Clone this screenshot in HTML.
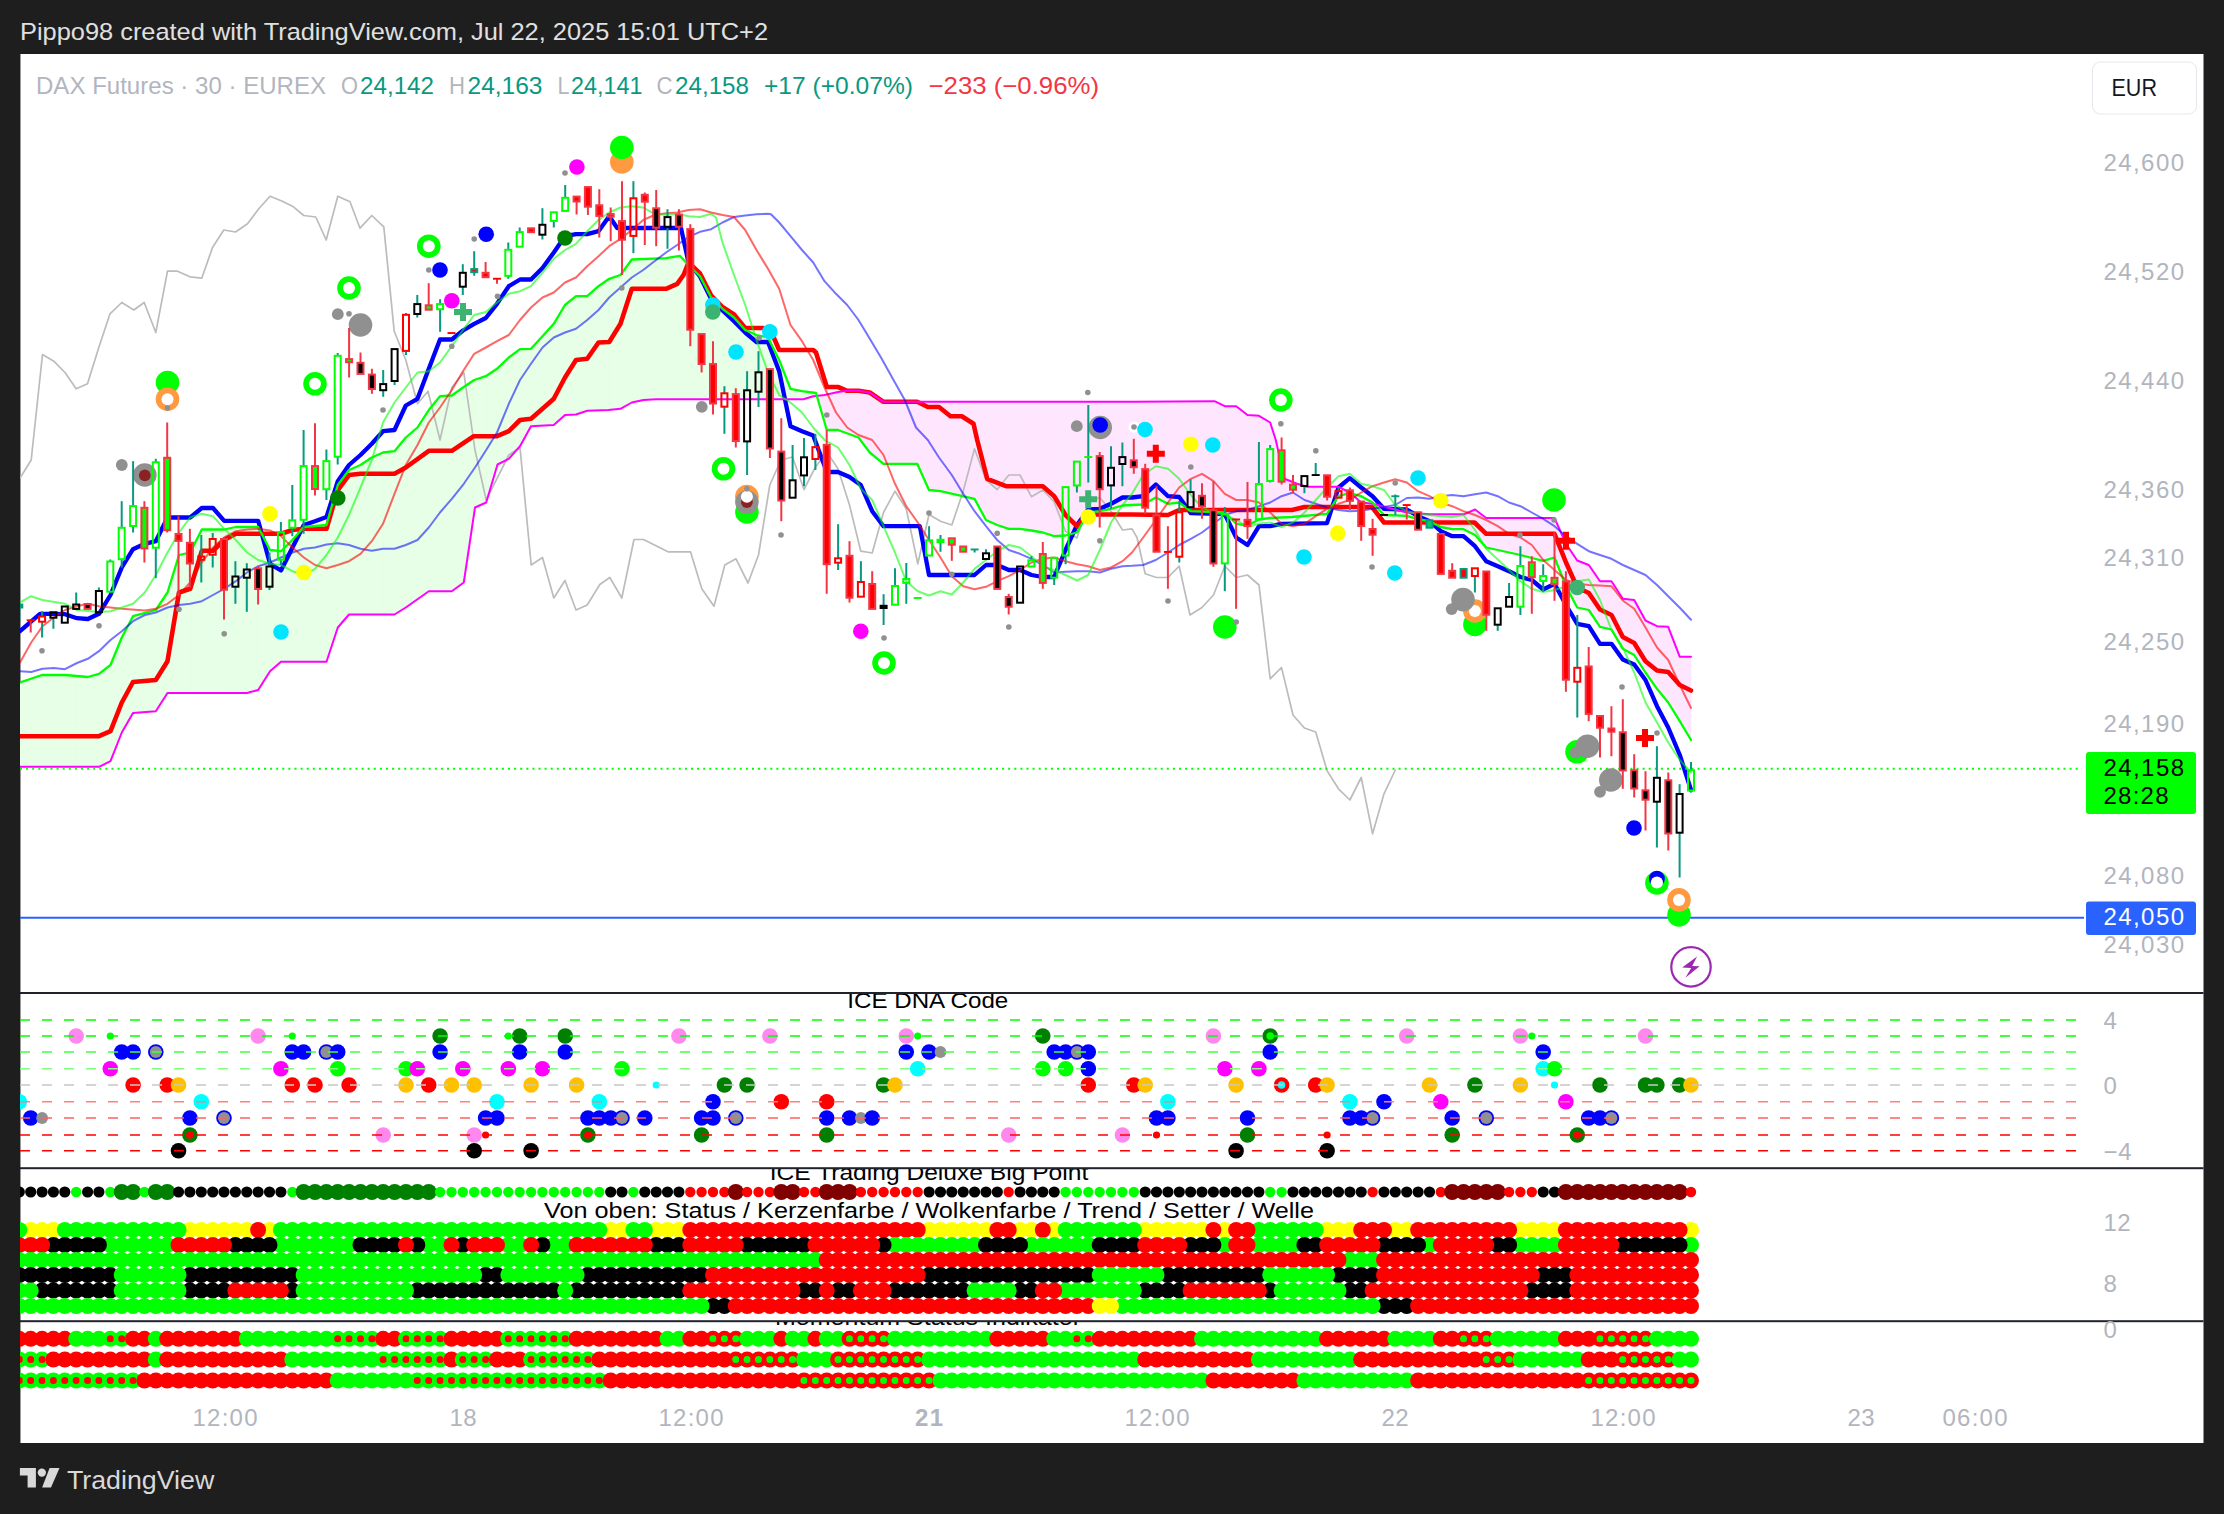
<!DOCTYPE html><html><head><meta charset="utf-8"><title>DAX Futures chart</title><style>html,body{margin:0;padding:0;background:#1e1e1e}body{width:2224px;height:1514px;overflow:hidden}</style></head><body><svg width="2224" height="1514" viewBox="0 0 2224 1514" style="display:block;font-family:'Liberation Sans',sans-serif">
<rect width="2224" height="1514" fill="#1e1e1e"/>
<rect x="20" y="54" width="2183.5" height="1389" fill="#ffffff"/>
<rect x="20" y="54" width="1" height="1389" fill="#9a9a9a"/>
<defs><clipPath id="cm"><rect x="20" y="54" width="2064" height="938"/></clipPath><clipPath id="c2"><rect x="20" y="994" width="2183" height="174"/></clipPath><clipPath id="c3"><rect x="20" y="1169" width="2183" height="152"/></clipPath><clipPath id="c4"><rect x="20" y="1322" width="2183" height="80"/></clipPath></defs>
<g clip-path="url(#cm)">
<path d="M20 682.5 L30.7 678.9 L30.7 766.8 L20 766.8ZM30.7 678.9 L42 675 L42 766.8 L30.7 766.8ZM42 675 L42.1 675 L42.1 766.8 L42 766.8ZM42.1 675 L53.4 675 L53.4 766.8 L42.1 766.8ZM53.4 675 L64.8 675 L64.8 766.8 L53.4 766.8ZM64.8 675 L65 675 L65 766.8 L64.8 766.8ZM65 675 L76.2 676 L76.2 766.8 L65 766.8ZM76.2 676 L87.6 677 L87.6 766.8 L76.2 766.8ZM87.6 677 L87.8 677 L87.8 766.8 L87.6 766.8ZM87.8 677 L98.9 673.8 L98.9 766.8 L87.8 766.8ZM98.9 673.8 L99 673.8 L99 766.8 L98.9 766.8ZM99 673.8 L110.3 665.1 L110.3 761.3 L99 766.8ZM110.3 665.1 L110.5 665 L110.5 761.2 L110.3 761.3ZM110.5 665 L121.7 637.7 L121.7 732.7 L110.5 761.2ZM121.7 637.7 L121.8 637.5 L121.8 732.5 L121.7 732.7ZM121.8 637.5 L133 616.2 L133 713 L121.8 732.5ZM133 616.2 L133.1 616.2 L133.1 713 L133 713ZM133.1 616.2 L144.4 613.1 L144.4 712.1 L133.1 713ZM144.4 613.1 L155.8 610 L155.8 711.2 L144.4 712.1ZM155.8 610 L155.8 609.9 L155.8 711.2 L155.8 711.2ZM155.8 609.9 L167.2 593 L167.2 693.5 L155.8 711.2ZM167.2 593 L167.5 592.5 L167.5 693 L167.2 693.5ZM167.5 592.5 L178.5 556.5 L178.5 693 L167.5 693ZM178.5 556.5 L179 555 L179 693 L178.5 693ZM179 555 L189.9 552.6 L189.9 693 L179 693ZM189.9 552.6 L190.2 552.5 L190.2 693 L189.9 693ZM190.2 552.5 L201.3 530.4 L201.3 693 L190.2 693ZM201.3 530.4 L201.8 529.5 L201.8 693 L201.3 693ZM201.8 529.5 L212.7 529.5 L212.7 693 L201.8 693ZM212.7 529.5 L224 529.5 L224 693 L212.7 693ZM224 529.5 L224.2 529.5 L224.2 693 L224 693ZM224.2 529.5 L235.4 527.1 L235.4 693 L224.2 693ZM235.4 527.1 L235.8 527 L235.8 693 L235.4 693ZM235.8 527 L246.8 527 L246.8 693 L235.8 693ZM246.8 527 L247 527 L247 693 L246.8 693ZM247 527 L258.1 527 L258.1 690 L247 693ZM258.1 527 L258.2 527 L258.2 690 L258.1 690ZM258.2 527 L269.5 549 L269.5 672 L258.2 690ZM269.5 549 L270 550 L270 671.2 L269.5 672ZM270 550 L280.9 551.2 L280.9 661.8 L270 671.2ZM280.9 551.2 L281 551.2 L281 661.8 L280.9 661.8ZM281 551.2 L292.3 540.2 L292.3 661.8 L281 661.8ZM292.3 540.2 L292.5 540 L292.5 661.8 L292.3 661.8ZM292.5 540 L303.6 527.1 L303.6 661.8 L292.5 661.8ZM303.6 527.1 L303.8 527 L303.8 661.8 L303.6 661.8ZM303.8 527 L315 526 L315 661.8 L303.8 661.8ZM315 526 L326.4 525 L326.4 661.8 L315 661.8ZM326.4 525 L326.5 525 L326.5 661.8 L326.4 661.8ZM326.5 525 L337.7 485 L337.7 627.5 L326.5 661.8ZM337.7 485 L337.8 485 L337.8 627.5 L337.7 627.5ZM337.8 485 L349 470 L349 614.5 L337.8 627.5ZM349 470 L349.1 469.9 L349.1 614.5 L349 614.5ZM349.1 469.9 L360.5 465 L360.5 614.5 L349.1 614.5ZM360.5 465 L360.5 465 L360.5 614.5 L360.5 614.5ZM360.5 465 L371.8 457.5 L371.8 614.5 L360.5 614.5ZM371.8 457.5 L371.9 457.5 L371.9 614.5 L371.8 614.5ZM371.9 457.5 L383 452.5 L383 614.5 L371.9 614.5ZM383 452.5 L383.2 452.5 L383.2 614.5 L383 614.5ZM383.2 452.5 L394.5 451.2 L394.5 614.5 L383.2 614.5ZM394.5 451.2 L394.6 451.1 L394.6 614.4 L394.5 614.5ZM394.6 451.1 L405.8 437.5 L405.8 607.5 L394.6 614.4ZM405.8 437.5 L406 437.3 L406 607.3 L405.8 607.5ZM406 437.3 L417.3 427.6 L417.3 599.3 L406 607.3ZM417.3 427.6 L417.5 427.5 L417.5 599.2 L417.3 599.3ZM417.5 427.5 L428.7 410 L428.7 591.3 L417.5 599.2ZM428.7 410 L428.8 410 L428.8 591.2 L428.7 591.3ZM428.8 410 L440 396.2 L440 591.2 L428.8 591.2ZM440 396.2 L440.1 396.2 L440.1 591.2 L440 591.2ZM440.1 396.2 L451.5 395.5 L451.5 591.2 L440.1 591.2ZM451.5 395.5 L451.8 395.5 L451.8 591.2 L451.5 591.2ZM451.8 395.5 L462.8 387.6 L462.8 583.2 L451.8 591.2ZM462.8 387.6 L463 387.5 L463 583 L462.8 583.2ZM463 387.5 L463.8 387 L463.8 582.5 L463 583ZM463.8 387 L474.2 380 L474.2 512.8 L463.8 582.5ZM474.2 380 L474.2 380 L474.2 512.5 L474.2 512.8ZM474.2 380 L475 379.8 L475 507.5 L474.2 512.5ZM475 379.8 L485.6 376.3 L485.6 502.8 L475 507.5ZM485.6 376.3 L485.8 376.2 L485.8 502.7 L485.6 502.8ZM485.8 376.2 L486.2 375.9 L486.2 502.5 L485.8 502.7ZM486.2 375.9 L497 368.8 L497 466.3 L486.2 502.5ZM497 368.8 L497 368.8 L497 466.2 L497 466.3ZM497 368.8 L497.5 368.3 L497.5 464.5 L497 466.2ZM497.5 368.3 L508.3 357.9 L508.3 459 L497.5 464.5ZM508.3 357.9 L508.8 357.5 L508.8 458.8 L508.3 459ZM508.8 357.5 L519.7 349.5 L519.7 446.6 L508.8 458.8ZM519.7 349.5 L520 349.2 L520 446.2 L519.7 446.6ZM520 349.2 L531 348.8 L531 426.2 L520 446.2ZM531 348.8 L531.1 348.7 L531.1 426.2 L531 426.2ZM531.1 348.7 L542.4 336.3 L542.4 425.6 L531.1 426.2ZM542.4 336.3 L542.5 336.2 L542.5 425.6 L542.4 425.6ZM542.5 336.2 L553.8 323.8 L553.8 425 L542.5 425.6ZM553.8 323.8 L553.8 323.6 L553.8 424.9 L553.8 425ZM553.8 323.6 L565 305 L565 415 L553.8 424.9ZM565 305 L565.2 304.9 L565.2 415 L565 415ZM565.2 304.9 L576 296.2 L576 414.5 L565.2 415ZM576 296.2 L576.6 296.2 L576.6 414.3 L576 414.5ZM576.6 296.2 L587.2 296.2 L587.2 410.8 L576.6 414.3ZM587.2 296.2 L587.9 295.6 L587.9 410.7 L587.2 410.8ZM587.9 295.6 L598.5 286.2 L598.5 410.4 L587.9 410.7ZM598.5 286.2 L599.3 285.7 L599.3 410.3 L598.5 410.4ZM599.3 285.7 L608.5 279.3 L608.5 410 L599.3 410.3ZM608.5 279.3 L609.2 278.8 L609.2 409.9 L608.5 410ZM609.2 278.8 L610.7 278.3 L610.7 409.8 L609.2 409.9ZM610.7 278.3 L620.5 275 L620.5 408.8 L610.7 409.8ZM620.5 275 L622 272.9 L622 407.9 L620.5 408.8ZM622 272.9 L631.8 259.5 L631.8 402.5 L622 407.9ZM631.8 259.5 L633.4 259.4 L633.4 402.1 L631.8 402.5ZM633.4 259.4 L643.5 259.1 L643.5 400 L633.4 402.1ZM643.5 259.1 L644.8 259 L644.8 399.9 L643.5 400ZM644.8 259 L656 258.6 L656 399.2 L644.8 399.9ZM656 258.6 L656.2 258.6 L656.2 399.2 L656 399.2ZM656.2 258.6 L666 258.2 L666 399.2 L656.2 399.2ZM666 258.2 L667.5 258 L667.5 399.2 L666 399.2ZM667.5 258 L678.9 255.9 L678.9 399.2 L667.5 399.2ZM678.9 255.9 L679.8 255.8 L679.8 399.2 L678.9 399.2ZM679.8 255.8 L688.5 265 L688.5 399.2 L679.8 399.2ZM688.5 265 L690.3 266.7 L690.3 399.2 L688.5 399.2ZM690.3 266.7 L700 276.2 L700 399.2 L690.3 399.2ZM700 276.2 L701.6 279.4 L701.6 399.2 L700 399.2ZM701.6 279.4 L711.2 297.5 L711.2 399.2 L701.6 399.2ZM711.2 297.5 L713 299.3 L713 399.2 L711.2 399.2ZM713 299.3 L722.5 308.8 L722.5 399.2 L713 399.2ZM722.5 308.8 L724.4 310.2 L724.4 399.2 L722.5 399.2ZM724.4 310.2 L734 317.5 L734 399.2 L724.4 399.2ZM734 317.5 L735.8 319.5 L735.8 399.2 L734 399.2ZM735.8 319.5 L745.2 330 L745.2 399.2 L735.8 399.2ZM745.2 330 L747.1 330.8 L747.1 399.2 L745.2 399.2ZM747.1 330.8 L756.5 335 L756.5 399.2 L747.1 399.2ZM756.5 335 L758.5 335.4 L758.5 399.2 L756.5 399.2ZM758.5 335.4 L768 337.5 L768 399.2 L758.5 399.2ZM768 337.5 L769.9 341.3 L769.9 399.2 L768 399.2ZM769.9 341.3 L779.2 360 L779.2 399.2 L769.9 399.2ZM779.2 360 L781.3 365.1 L781.3 399.2 L779.2 399.2ZM781.3 365.1 L790.5 388.8 L790.5 399.2 L781.3 399.2ZM790.5 388.8 L792.6 389.2 L792.6 399.2 L790.5 399.2ZM792.6 389.2 L802 391.2 L802 399.2 L792.6 399.2ZM802 391.2 L803.5 391.4 L803.5 399.2 L802 399.2ZM803.5 391.4 L804 391.5 L804 399.1 L803.5 399.2ZM804 391.5 L813.2 392.7 L813.2 396.2 L804 399.1ZM813.2 392.7 L815.4 392.9 L815.4 396 L813.2 396.2ZM815.4 392.9 L816 393 L816 395.9 L815.4 396ZM816 393 L816.8 395.9 L816 395.9ZM1350.6 493.2 L1361.2 496.2 L1361.2 502.5ZM1361.2 496.2 L1361.2 496.2 L1361.2 502.5 L1361.2 502.5ZM1361.2 496.2 L1372.5 502.5 L1372.5 503.8 L1361.2 502.5ZM1372.5 502.5 L1372.6 502.6 L1372.6 503.8 L1372.5 503.8ZM1372.6 502.6 L1374 504.1 L1372.6 503.8Z" fill="#e6ffe6" stroke="#e6ffe6" stroke-width="0.6"/>
<path d="M816.8 395.9 L824.5 422.3 L824.5 395ZM824.5 422.3 L826.7 430 L826.7 394.5 L824.5 395ZM826.7 430 L826.8 430 L826.8 394.5 L826.7 394.5ZM826.8 430 L838 430 L838 392 L826.8 394.5ZM838 430 L838.1 430 L838.1 392 L838 392ZM838.1 430 L847.2 433.4 L847.2 390.8 L838.1 392ZM847.2 433.4 L849.5 434.2 L849.5 390.8 L847.2 390.8ZM849.5 434.2 L858.5 437.5 L858.5 390.8 L849.5 390.8ZM858.5 437.5 L860.9 440.6 L860.9 391.1 L858.5 390.8ZM860.9 440.6 L869.8 452.5 L869.8 392.5 L860.9 391.1ZM869.8 452.5 L872.2 454.5 L872.2 394.2 L869.8 392.5ZM872.2 454.5 L883.5 463.8 L883.5 401.8 L872.2 394.2ZM883.5 463.8 L883.6 463.8 L883.6 401.8 L883.5 401.8ZM883.6 463.8 L895 463.8 L895 401.8 L883.6 401.8ZM895 463.8 L906.3 463.8 L906.3 401.8 L895 401.8ZM906.3 463.8 L917.2 463.8 L917.2 401.8 L906.3 401.8ZM917.2 463.8 L917.7 464.8 L917.7 401.8 L917.2 401.8ZM917.7 464.8 L929 490 L929 401.8 L917.7 401.8ZM929 490 L929.1 490 L929.1 401.8 L929 401.8ZM929.1 490 L940.5 491.2 L940.5 401.8 L929.1 401.8ZM940.5 491.2 L940.5 491.2 L940.5 401.8 L940.5 401.8ZM940.5 491.2 L951.8 493.8 L951.8 401.8 L940.5 401.8ZM951.8 493.8 L963.2 496.3 L963.2 401.8 L951.8 401.8ZM963.2 496.3 L974.5 498.8 L974.5 401.8 L963.2 401.8ZM974.5 498.8 L974.6 498.9 L974.6 401.8 L974.5 401.8ZM974.6 498.9 L986 519.9 L986 401.8 L974.6 401.8ZM986 519.9 L986 520 L986 401.8 L986 401.8ZM986 520 L997.2 525 L997.2 401.8 L986 401.8ZM997.2 525 L997.3 525 L997.3 401.8 L997.2 401.8ZM997.3 525 L1008.7 528.7 L1008.7 401.8 L997.3 401.8ZM1008.7 528.7 L1008.8 528.8 L1008.8 401.8 L1008.7 401.8ZM1008.8 528.8 L1020 528.8 L1020 401.8 L1008.8 401.8ZM1020 528.8 L1020.1 528.8 L1020.1 401.8 L1020 401.8ZM1020.1 528.8 L1031.4 530.5 L1031.4 401.8 L1020.1 401.8ZM1031.4 530.5 L1031.5 530.5 L1031.5 401.8 L1031.4 401.8ZM1031.5 530.5 L1042.8 532.5 L1042.8 401.8 L1031.5 401.8ZM1042.8 532.5 L1042.8 532.5 L1042.8 401.8 L1042.8 401.8ZM1042.8 532.5 L1054.2 536.2 L1054.2 401.8 L1042.8 401.8ZM1054.2 536.2 L1054.2 536.2 L1054.2 401.8 L1054.2 401.8ZM1054.2 536.2 L1065.5 535.5 L1065.5 401.8 L1054.2 401.8ZM1065.5 535.5 L1065.6 535.5 L1065.6 401.8 L1065.5 401.8ZM1065.6 535.5 L1076.9 532.5 L1076.9 401.8 L1065.6 401.8ZM1076.9 532.5 L1077 532.5 L1077 401.8 L1076.9 401.8ZM1077 532.5 L1088.2 512.5 L1088.2 401.8 L1077 401.8ZM1088.2 512.5 L1088.3 512.5 L1088.3 401.8 L1088.2 401.8ZM1088.3 512.5 L1099.7 511.3 L1099.7 401.8 L1088.3 401.8ZM1099.7 511.3 L1099.8 511.2 L1099.8 401.8 L1099.7 401.8ZM1099.8 511.2 L1111 508.8 L1111 401.8 L1099.8 401.8ZM1111 508.8 L1111 508.7 L1111 401.8 L1111 401.8ZM1111 508.7 L1122.4 505.5 L1122.4 401.8 L1111 401.8ZM1122.4 505.5 L1122.5 505.5 L1122.5 401.8 L1122.4 401.8ZM1122.5 505.5 L1132 505 L1132 401.8 L1122.5 401.8ZM1132 505 L1133.8 504.9 L1133.8 401.7 L1132 401.8ZM1133.8 504.9 L1143.2 504.5 L1143.2 401.7 L1133.8 401.7ZM1143.2 504.5 L1145.2 503.4 L1145.2 401.7 L1143.2 401.7ZM1145.2 503.4 L1155.8 497.5 L1155.8 401.6 L1145.2 401.7ZM1155.8 497.5 L1156.5 497.9 L1156.5 401.6 L1155.8 401.6ZM1156.5 497.9 L1167.9 503.7 L1167.9 401.5 L1156.5 401.6ZM1167.9 503.7 L1168 503.8 L1168 401.5 L1167.9 401.5ZM1168 503.8 L1179.2 502.5 L1179.2 401.5 L1168 401.5ZM1179.2 502.5 L1179.3 502.5 L1179.3 401.5 L1179.2 401.5ZM1179.3 502.5 L1190.6 511.2 L1190.6 401.4 L1179.3 401.5ZM1190.6 511.2 L1190.8 511.2 L1190.8 401.4 L1190.6 401.4ZM1190.8 511.2 L1202 511.7 L1202 401.3 L1190.8 401.4ZM1202 511.7 L1213.4 512.1 L1213.4 401.3 L1202 401.3ZM1213.4 512.1 L1214.5 512.1 L1214.5 401.2 L1213.4 401.3ZM1214.5 512.1 L1224.8 512.5 L1224.8 406.2 L1214.5 401.2ZM1224.8 512.5 L1224.8 512.5 L1224.8 406.2 L1224.8 406.2ZM1224.8 512.5 L1236.1 523.6 L1236.1 406.2 L1224.8 406.2ZM1236.1 523.6 L1236.2 523.8 L1236.2 406.2 L1236.1 406.2ZM1236.2 523.8 L1247.5 525.5 L1247.5 415 L1236.2 406.2ZM1247.5 525.5 L1247.5 525.5 L1247.5 415 L1247.5 415ZM1247.5 525.5 L1258.9 519.6 L1258.9 415.7 L1247.5 415ZM1258.9 519.6 L1259 519.5 L1259 415.8 L1258.9 415.7ZM1259 519.5 L1270.2 518 L1270.2 422.5 L1259 415.8ZM1270.2 518 L1275.8 517.7 L1275.8 440 L1270.2 422.5ZM1275.8 517.7 L1281.6 517.5 L1281.6 466 L1275.8 440ZM1281.6 517.5 L1284.5 517.3 L1284.5 478.8 L1281.6 466ZM1284.5 517.3 L1292 517 L1292 481.8 L1284.5 478.8ZM1292 517 L1293 516.9 L1293 482.1 L1292 481.8ZM1293 516.9 L1297 516.5 L1297 483.8 L1293 482.1ZM1297 516.5 L1304.4 515.9 L1304.4 486 L1297 483.8ZM1304.4 515.9 L1307 515.6 L1307 486.8 L1304.4 486ZM1307 515.6 L1315.7 514.8 L1315.7 486.8 L1307 486.8ZM1315.7 514.8 L1327 513.8 L1327 486.8 L1315.7 486.8ZM1327 513.8 L1327.1 513.6 L1327.1 486.8 L1327 486.8ZM1327.1 513.6 L1338.5 496.3 L1338.5 486.8 L1327.1 486.8ZM1338.5 496.3 L1338.5 496.2 L1338.5 486.8 L1338.5 486.8ZM1338.5 496.2 L1349.8 493 L1349.8 492.5 L1338.5 486.8ZM1349.8 493 L1349.9 493 L1349.9 492.6 L1349.8 492.5ZM1349.9 493 L1350.6 493.2 L1349.9 492.6ZM1374 504.1 L1384 515 L1384 506.7ZM1384 515 L1384 515 L1384 506.7 L1384 506.7ZM1384 515 L1395.3 515.4 L1395.3 509.6 L1384 506.7ZM1395.3 515.4 L1406.7 515.7 L1406.7 512.5 L1395.3 509.6ZM1406.7 515.7 L1406.8 515.8 L1406.8 512.5 L1406.7 512.5ZM1406.8 515.8 L1418 519.2 L1418 513.4 L1406.8 512.5ZM1418 519.2 L1418.1 519.3 L1418.1 513.4 L1418 513.4ZM1418.1 519.3 L1429.5 521.2 L1429.5 514.2 L1418.1 513.4ZM1429.5 521.2 L1429.5 521.2 L1429.5 514.2 L1429.5 514.2ZM1429.5 521.2 L1440.8 527 L1440.8 514.2 L1429.5 514.2ZM1440.8 527 L1440.8 527 L1440.8 514.2 L1440.8 514.2ZM1440.8 527 L1452.2 529.2 L1452.2 514.2 L1440.8 514.2ZM1452.2 529.2 L1452.2 529.2 L1452.2 514.2 L1452.2 514.2ZM1452.2 529.2 L1463.5 529.2 L1463.5 514.2 L1452.2 514.2ZM1463.5 529.2 L1463.6 529.3 L1463.6 514.2 L1463.5 514.2ZM1463.6 529.3 L1464.5 529.8 L1464.5 514.2 L1463.6 514.2ZM1464.5 529.8 L1474.9 535 L1474.9 509.5 L1464.5 514.2ZM1474.9 535 L1475 535 L1475 509.5 L1474.9 509.5ZM1475 535 L1486.2 547.5 L1486.2 518 L1475 509.5ZM1486.2 547.5 L1486.3 547.5 L1486.3 518 L1486.2 518ZM1486.3 547.5 L1497.7 550 L1497.7 518 L1486.3 518ZM1497.7 550 L1497.8 550 L1497.8 518 L1497.7 518ZM1497.8 550 L1509 552.5 L1509 518 L1497.8 518ZM1509 552.5 L1509.1 552.5 L1509.1 518 L1509 518ZM1509.1 552.5 L1520.4 555 L1520.4 518 L1509.1 518ZM1520.4 555 L1520.5 555 L1520.5 518 L1520.4 518ZM1520.5 555 L1531.8 558 L1531.8 518 L1520.5 518ZM1531.8 558 L1531.8 558 L1531.8 518 L1531.8 518ZM1531.8 558 L1543.2 560.7 L1543.2 518 L1531.8 518ZM1543.2 560.7 L1543.2 560.8 L1543.2 518 L1543.2 518ZM1543.2 560.8 L1554.5 557.5 L1554.5 518 L1543.2 518ZM1554.5 557.5 L1554.5 557.6 L1554.5 518.1 L1554.5 518ZM1554.5 557.6 L1565.9 586.1 L1565.9 543.6 L1554.5 518.1ZM1565.9 586.1 L1566 586.2 L1566 543.8 L1565.9 543.6ZM1566 586.2 L1577.2 607.5 L1577.2 560.5 L1566 543.8ZM1577.2 607.5 L1577.3 607.5 L1577.3 560.5 L1577.2 560.5ZM1577.3 607.5 L1588.7 610 L1588.7 565 L1577.3 560.5ZM1588.7 610 L1588.8 610 L1588.8 565 L1588.7 565ZM1588.8 610 L1600 626.8 L1600 581.2 L1588.8 565ZM1600 626.8 L1600 626.8 L1600 581.2 L1600 581.2ZM1600 626.8 L1611.4 629.5 L1611.4 581.2 L1600 581.2ZM1611.4 629.5 L1611.5 629.5 L1611.5 581.2 L1611.4 581.2ZM1611.5 629.5 L1622.8 648.8 L1622.8 598.8 L1611.5 581.2ZM1622.8 648.8 L1622.8 648.8 L1622.8 598.8 L1622.8 598.8ZM1622.8 648.8 L1634.2 654.9 L1634.2 600 L1622.8 598.8ZM1634.2 654.9 L1634.2 655 L1634.2 600 L1634.2 600ZM1634.2 655 L1645.5 672.5 L1645.5 620.5 L1634.2 600ZM1645.5 672.5 L1645.5 672.5 L1645.5 620.5 L1645.5 620.5ZM1645.5 672.5 L1656.9 688.6 L1656.9 626.2 L1645.5 620.5ZM1656.9 688.6 L1657 688.8 L1657 626.2 L1656.9 626.2ZM1657 688.8 L1668.2 702.5 L1668.2 626.8 L1657 626.2ZM1668.2 702.5 L1668.3 702.5 L1668.3 626.8 L1668.2 626.8ZM1668.3 702.5 L1679.6 721.1 L1679.6 656.5 L1668.3 626.8ZM1679.6 721.1 L1679.8 721.2 L1679.8 656.8 L1679.6 656.5ZM1679.8 721.2 L1691 740 L1691 656.8 L1679.8 656.8Z" fill="#ffe6ff" stroke="#ffe6ff" stroke-width="0.6"/>
<polyline points="20,478 31.2,460 42.5,354.5 53.8,361.2 65,372.5 76.2,388.8 87.5,383.8 98.8,347.5 110,313.8 121.8,302.5 133.8,310 144.2,302.5 155.8,332.5 167.5,271.2 177.5,271.2 190,276.8 201.8,278.2 212.5,247.5 223.8,230 235.5,232 247.5,223.8 258.8,208.8 270,196.2 281.2,200.8 292.5,206.2 303.8,215.5 315.8,217 326.2,240 337.8,196.2 350,201.8 360,228.2 371.8,215.5 383.8,226.8 394.2,331.2 405.8,360 417.5,403.8 428,391.2 440,440 451.8,387.5 463.8,372.5 475,450 486.2,500 497.5,477.5 508.8,455 520,447.5 531.2,565 542.5,557.5 553.8,598 565,580.5 576,610 587.2,605 599.8,584.5 609.8,577.5 621.8,598 634,539.5 643.5,539.5 668,551.8 690.5,551.8 701.8,588.8 714,606.2 724.8,565 736,558.8 748,583 758.5,555 769.8,485 781,460 792.5,457 804,489.5 815.2,467.5 826.8,452 838,468.8 849.5,505 860.8,551.2 872.2,553 883.5,512.5 895,491.2 906.2,508.8 917.8,563.8 929,514.5 940.5,521.2 951.8,525 963.2,491.2 974.5,448.8 986,480 997.2,489.5 1008.8,475 1020,475 1031.5,496.8 1042.8,490 1054.2,502 1065.5,531.2 1077,538 1088.2,502.5 1099.8,497.5 1111,511.2 1122.5,530 1132,528.8 1137,537.5 1145.2,573.8 1156.5,577.5 1168,577.5 1179.2,566.2 1190,615 1202,607.5 1213.5,595 1224.8,566.2 1236.2,577.5 1247.5,575 1259,585 1270.2,678.8 1281.5,667.5 1293,715 1304.4,728 1315.7,732 1327.1,770.8 1338.5,788.8 1349.9,800 1361.2,777.5 1372.6,833.8 1384,793.8 1395.3,770" fill="none" stroke="#bcbcbc" stroke-width="1.7" stroke-linejoin="round" stroke-linecap="round" />
<polyline points="20,631.2 40,613.8 53.8,613.8 65,614.2 77,618.2 87.8,619 99,613.8 110.5,595 121.8,567.5 133,549.2 144.8,543.8 155.8,541.2 167.5,517.5 190.2,517.5 201.8,508 213,508 224.2,520.8 258.2,520.8 270,563.8 281,570.5 292.5,547.5 303.8,525 315,521.2 326.5,517 337.8,481.2 349,465 360.5,455 371.8,443.8 383,431.2 394.5,430 405.8,405.5 417.5,398.8 428.8,368.8 440,339.5 451.8,339.5 463,330.5 474.2,323.8 485.8,318 497,303.8 508.8,286.2 520,279.5 531,279.5 542.5,268 553.8,252.5 565,236.2 576,234.2 587.2,234.2 598.5,231.2 609.2,216.2 617.2,228 681,228 688.5,262.5 700,276.5 711.2,299 722.5,310.5 734,321.2 745.2,332.5 756.5,342 768,342 779.2,371.2 790.5,426.2 802,431.2 813.2,435.5 826.8,472 838,472 849.5,477 860.8,485 872.2,511.2 883.5,526.2 919.8,526.2 929,575 974.5,575 986,565 997.2,565 1008.8,570 1020,570 1031.5,575 1042.8,577 1054.2,577 1065.5,550 1077,525 1088.2,509.5 1099.8,508.8 1111,503.8 1122.5,497.5 1132,497.5 1143.2,496.2 1155.8,484.5 1168,496.2 1179.2,497 1190.8,513.2 1224.8,514.2 1236.2,537.5 1247.5,545 1259,526.2 1270.2,526.2 1281.5,523.8 1327,523.2 1338.5,487.5 1349.8,478.2 1361.2,487.5 1372.5,496.2 1384,508.8 1406.8,509.5 1418,516.2 1429.5,521.2 1440.8,531.2 1452.2,536.2 1463.5,536.2 1475,546.2 1486.2,561.2 1497.8,566.2 1509,571.2 1520.5,577 1531.8,580 1543.2,589.5 1554.5,583.8 1566,605 1577.2,623.8 1588.8,626.2 1600,643.8 1611.5,643.8 1622.8,659.5 1634.2,664.5 1645.5,680 1657,706.2 1668.2,727.5 1679.8,755 1691,790" fill="none" stroke="#0000ff" stroke-width="4.3" stroke-linejoin="round" stroke-linecap="round" />
<polyline points="20,736.2 99,736.2 110.5,731.2 121.8,702.5 133,682 155.8,680 167.5,661.2 179,592.5 190.2,588.8 201.8,550.8 213,550.8 224.2,540 235.8,533.8 281,533.8 292.5,530 303.8,528.8 326.5,528.8 337.8,490 349,475 360.5,473.8 394.5,473.8 405.8,467.5 428.8,450.8 451.8,450.8 473.8,436.2 497,436.2 508.8,431.2 520,420 531,418.8 542.5,408.8 553.8,398.8 565,377.5 576,360 587.2,358.8 598.5,342.5 609.2,342 620.5,323.8 631.8,288.8 666,288.8 677.2,283.8 683.5,275 688.5,262.5 700,273.5 711.2,295.5 722.5,307 734,314.5 745.2,328 763.5,328 773.5,337 779.2,350 813.2,350 816,352.5 826.8,387 838,387 847.2,390.8 858.5,390.8 869.8,392.5 883.5,401.8 917.2,401.8 927.8,407 939,407 950.5,416.2 961.8,416.2 973.5,423.8 977.2,440 987.2,478.8 1006,486.2 1042.8,486.2 1054.2,496.2 1065.5,515 1077,526.2 1088.2,514.5 1132,514.5 1168,515 1179.2,510 1292,510 1304.5,507 1372,507 1384,522.5 1474.5,522.5 1486.2,533.8 1554.5,533.8 1566,562.5 1577.2,587.5 1588.8,593 1600,609.5 1611.5,615 1622.8,637 1634.2,643 1645.5,661.2 1657,670.5 1668.2,672 1679.8,685 1691,690.5" fill="none" stroke="#ff0000" stroke-width="4.6" stroke-linejoin="round" stroke-linecap="round" />
<polyline points="20,766.8 99,766.8 110.5,761.2 121.8,732.5 133,713 155.8,711.2 167.5,693 247,693 258.2,690 270,671.2 281,661.8 326.5,661.8 337.8,627.5 349,614.5 394.5,614.5 405.8,607.5 428.8,591.2 451.8,591.2 463.8,582.5 475,507.5 486.2,502.5 497.5,464.5 508.8,458.8 520,446.2 531,426.2 553.8,425 565,415 576,414.5 587.2,410.8 608.5,410 620.5,408.8 631.8,402.5 643.5,400 656,399.2 803.5,399.2 813.2,396.2 824.5,395 838,392 847.2,390.8 858.5,390.8 869.8,392.5 883.5,401.8 1132,401.8 1214.5,401.2 1224.8,406.2 1236.2,406.2 1247.5,415 1259,415.8 1270.2,422.5 1275.8,440 1284.5,478.8 1297,483.8 1307,486.8 1338.5,486.8 1349.8,492.5 1361.2,502.5 1372.5,503.8 1406.8,512.5 1429.5,514.2 1464.5,514.2 1475,509.5 1486.2,518 1554.5,518 1566,543.8 1577.2,560.5 1588.8,565 1600,581.2 1611.5,581.2 1622.8,598.8 1634.2,600 1645.5,620.5 1657,626.2 1668.2,626.8 1679.8,656.8 1691,656.8" fill="none" stroke="#ff00ff" stroke-width="2" stroke-linejoin="round" stroke-linecap="round" />
<polyline points="20,682.5 42,675 65,675 87.8,677 99,673.8 110.5,665 121.8,637.5 133,616.2 155.8,610 167.5,592.5 179,555 190.2,552.5 201.8,529.5 224.2,529.5 235.8,527 258.2,527 270,550 281,551.2 292.5,540 303.8,527 326.5,525 337.8,485 349,470 360.5,465 371.8,457.5 383,452.5 394.5,451.2 405.8,437.5 417.5,427.5 428.8,410 440,396.2 451.8,395.5 463,387.5 474.2,380 485.8,376.2 497,368.8 508.8,357.5 520,349.2 531,348.8 542.5,336.2 553.8,323.8 565,305 576,296.2 587.2,296.2 598.5,286.2 609.2,278.8 620.5,275 631.8,259.5 666,258.2 679.8,255.8 688.5,265 700,276.2 711.2,297.5 722.5,308.8 734,317.5 745.2,330 756.5,335 768,337.5 779.2,360 790.5,388.8 802,391.2 816,393 826.8,430 838,430 858.5,437.5 869.8,452.5 883.5,463.8 917.2,463.8 929,490 940.5,491.2 974.5,498.8 986,520 997.2,525 1008.8,528.8 1020,528.8 1031.5,530.5 1042.8,532.5 1054.2,536.2 1065.5,535.5 1077,532.5 1088.2,512.5 1099.8,511.2 1111,508.8 1122.5,505.5 1132,505 1143.2,504.5 1155.8,497.5 1168,503.8 1179.2,502.5 1190.8,511.2 1224.8,512.5 1236.2,523.8 1247.5,525.5 1259,519.5 1270.2,518 1292,517 1327,513.8 1338.5,496.2 1349.8,493 1361.2,496.2 1372.5,502.5 1384,515 1406.8,515.8 1418,519.2 1429.5,521.2 1440.8,527 1452.2,529.2 1463.5,529.2 1475,535 1486.2,547.5 1497.8,550 1509,552.5 1520.5,555 1531.8,558 1543.2,560.8 1554.5,557.5 1566,586.2 1577.2,607.5 1588.8,610 1600,626.8 1611.5,629.5 1622.8,648.8 1634.2,655 1645.5,672.5 1657,688.8 1668.2,702.5 1679.8,721.2 1691,740" fill="none" stroke="#00ff00" stroke-width="2.3" stroke-linejoin="round" stroke-linecap="round" />
<polyline points="20,671.2 31.2,672 42.5,668.8 53.8,668 65,669.2 77,663 87.8,658.8 99,651.2 110.5,640 121.8,631.2 133,621.2 144.8,615 155.8,612.5 167.5,607.5 179,605 190.2,603.8 201.8,601.2 213,595 224.2,588.8 235.8,581.2 247,572.5 258.2,566.2 270,562.5 281,557.5 292.5,552.5 303.8,548.8 315,547.5 326.5,544.5 337.8,543.2 349,545 360.5,548.8 371.8,550.8 383,548.8 394.5,548.8 405.8,545 417.5,540 428.8,527.5 440,512.5 451.8,498.8 463.8,483.8 475,467.5 486.2,450 497,432.5 508.8,403.8 520,380 531,363.8 542.5,347.5 553.8,337.5 565,332.5 576,328.8 587.2,320 598.5,310 609.2,297.5 620.5,287.5 631.8,277.5 643.2,270 654.5,261.2 666,252.5 677.2,245 688.5,237 700,231.8 711.2,229.2 722.5,222.5 734,217 745.2,215.5 756.5,214.2 768,213.8 771,214.2 779.2,222.5 790.5,236.2 802,250 813.2,262.5 824.5,281.2 836,293.8 847.2,305 858.5,320 869.8,338.8 881,357.5 893.5,380 904.8,400 916,427.5 927.8,440 939,457.5 951.8,475 963.2,493.8 974.5,511.2 986,526.2 997.2,540 1008.8,550 1020,553.8 1031.5,558.8 1042.8,565 1054.2,572.5 1065.5,571.8 1077,571.2 1088.2,571.2 1099.8,572.5 1111,568.8 1122.5,566.2 1132,565.8 1143.2,565 1155.8,560 1168,552.5 1179.2,545 1190.8,538.8 1202,532.5 1213.5,523.8 1224.8,515 1236.2,511.2 1247.5,510 1259,506.2 1270.2,502.5 1281.5,496.2 1293,492.5 1304.5,500 1315.8,503.8 1327,507.5 1338.5,510 1349.8,511.2 1361.2,510.8 1372.5,508.8 1384,507 1395.2,505 1406.8,498 1418,497.5 1429.5,498.8 1440.8,496.2 1452.2,495 1463.5,496.2 1475,494.2 1486.2,492.5 1497.8,496.2 1509,502.5 1520.5,506.2 1531.8,512.5 1543.2,518.8 1554.5,526.2 1566,536.2 1577.2,543.8 1588.8,551.2 1600,555 1611.5,558.8 1622.8,565 1634.2,570 1645.5,575 1657,585 1668.2,596.2 1679.8,607.8 1691,619.8" fill="none" stroke="#0000ff" stroke-width="2" stroke-linejoin="round" stroke-linecap="round" stroke-opacity="0.55"/>
<polyline points="20,662.5 31.2,642.5 42.5,626.2 53.8,617.5 65,610 77,606.2 87.8,603.8 99,606.2 121.8,608.8 144.8,610.5 155.8,608.8 167.5,603.8 179,595 190.2,582.5 201.8,562.5 213,547.5 224.2,537.5 235.8,531.2 247,529.5 258.2,528.8 270,530.5 281,536.2 292.5,547.5 303.8,557.5 315,565 326.5,568.2 337.8,565 349,561.2 360.5,553.8 371.8,541.2 383,523.8 394.5,493.8 405.8,465 417.5,445 428.8,422.5 440,407.5 451.8,390 463,371.2 474.2,353.8 485.8,347.5 497,341.2 508.8,335 520,320 531,307.5 542.5,297.5 553.8,292.5 565,282.5 576,277.5 587.2,266.2 598.5,256.2 609.2,246.2 620.5,238.8 631.8,230 643.2,220 654.5,215 666,213.2 677.2,212.5 688.5,210 700,209.2 711.2,212.5 722.5,215 734,217 745.2,230 756.5,250 768,268.8 779.2,288.8 790.5,325 802,341.2 813.2,360 824.5,387.5 836,412.5 847.2,427.5 858.5,435 872.2,440 883.5,455 895,483.8 906.2,506.2 917.8,522.5 929,540 940.5,557.5 951.8,576.2 963.2,586.2 974.5,589.2 986,586.8 997.2,581.2 1008.8,576.2 1020,570 1031.5,562.5 1042.8,558.8 1054.2,557.5 1065.5,561.2 1077,564.2 1088.2,566.2 1099.8,570 1111,567.5 1122.5,561.2 1132,552.5 1143.2,537.5 1155.8,520 1168,502.5 1179.2,487.5 1190.8,478.8 1202,473.8 1213.5,481.2 1224.8,493.8 1236.2,500 1247.5,500 1259,502.5 1270.2,512.5 1281.5,523.8 1293,526.2 1304.5,523.8 1315.8,516.2 1327,508.8 1338.5,503.8 1349.8,500 1361.2,492.5 1372.5,486.2 1384,482.5 1395.2,479.2 1406.8,482.5 1418,491.2 1429.5,496.2 1440.8,502.5 1452.2,506.2 1463.5,511.2 1475,515 1486.2,520 1497.8,526.2 1509,533.8 1520.5,537.5 1531.8,545 1543.2,560 1554.5,570 1566,580 1577.2,583.8 1588.8,585 1600,585.5 1611.5,586.2 1622.8,600.5 1634.2,608.8 1645.5,627.5 1657,647.5 1668.2,660 1679.8,685 1691,708" fill="none" stroke="#ff0000" stroke-width="2" stroke-linejoin="round" stroke-linecap="round" stroke-opacity="0.6"/>
<polyline points="20,602.5 31.2,596.2 42.5,600 65,603.8 77,610 99,612 110.5,611.2 133,603.8 144.8,592.5 155.8,575 167.5,552.5 179,532.5 190.2,517.5 201.8,513.8 213,516.2 224.2,528.8 235.8,540 247,552.5 258.2,560 270,563.8 281,565 292.5,571.2 303.8,575 315,568.8 326.5,555 337.8,537.5 349,515 360.5,487.5 371.8,460 383,422.5 394.5,402.5 405.8,387.5 417.5,372.5 428.8,371.2 440,362.5 451.8,346.2 463,330 474.2,315 485.8,312 497,302.5 508.8,293.8 520,291.2 531,286.2 542.5,272.5 553.8,258.8 565,250 576,243.8 587.2,231.2 598.5,220 609.2,212.5 620.5,207.5 631.8,206.2 643.2,207.5 654.5,213.8 666,215 677.2,213.8 688.5,216.2 700,217 711.2,213.8 716,217.5 722.5,242.5 734,275 745.2,305 756.5,340 768,372.5 779.2,395 790.5,402.5 802,412.5 813.2,427.5 824.5,440 838,447.5 849.5,465 860.8,488.8 872.2,500 883.5,526.2 895,552.5 906.2,581.2 917.8,591.2 929,595.5 940.5,591.2 951.8,594.5 963.2,582.5 974.5,568.8 986,560 997.2,551.2 1008.8,545 1020,547.5 1031.5,556.2 1042.8,566.2 1054.2,570 1065.5,575 1077,580.5 1088.2,575 1099.8,550 1111,522.5 1122.5,505 1132,493.8 1143.2,475 1155.8,466.2 1168,468.8 1179.2,478.8 1190.8,495 1202,507.5 1213.5,512.5 1224.8,515 1236.2,520 1247.5,527 1259,523.8 1270.2,522.5 1281.5,527 1293,522.5 1304.5,512.5 1315.8,500 1327,487.5 1338.5,476.2 1349.8,473.8 1361.2,483.8 1372.5,486.2 1384,490 1395.2,505 1406.8,511.2 1418,513.8 1429.5,515 1440.8,516.2 1452.2,517 1463.5,515 1475,530 1486.2,548.8 1497.8,559.5 1509,570 1520.5,581.2 1531.8,588.8 1543.2,592 1554.5,590 1566,586.2 1577.2,581.2 1588.8,579.5 1600,600 1611.5,630 1622.8,647.5 1634.2,672.5 1645.5,702.5 1657,722.5 1668.2,742.5 1679.8,760 1691,772.5" fill="none" stroke="#00ff00" stroke-width="2" stroke-linejoin="round" stroke-linecap="round" stroke-opacity="0.58"/>
<line x1="20" y1="768.8" x2="2082" y2="768.8" stroke="#00ff00" stroke-width="2" stroke-dasharray="2 4.1"/>
<line x1="20" y1="917.8" x2="2084" y2="917.8" stroke="#2962ff" stroke-width="2"/>
<circle cx="167.5" cy="382.5" r="11.8" fill="#00ff00" />
<circle cx="167.5" cy="399.2" r="11.8" fill="#ff9a40" />
<circle cx="167.5" cy="399.2" r="6" fill="#ffffff" />
<circle cx="167.5" cy="408" r="2.8" fill="#909090" />
<circle cx="121.8" cy="465" r="5.9" fill="#909090" />
<circle cx="144.8" cy="475" r="11.8" fill="#909090" />
<circle cx="144.8" cy="475.3" r="5.9" fill="#8b2222" />
<circle cx="42" cy="650.8" r="2.8" fill="#909090" />
<circle cx="99" cy="625.8" r="2.8" fill="#909090" />
<circle cx="179" cy="609.2" r="2.8" fill="#909090" />
<circle cx="224.2" cy="633.8" r="2.8" fill="#909090" />
<circle cx="270" cy="513.8" r="7.8" fill="#ffff00" />
<circle cx="303.8" cy="572.5" r="7.8" fill="#ffff00" />
<circle cx="281" cy="632" r="7.8" fill="#00e5ff" />
<circle cx="337.8" cy="498" r="7.8" fill="#008000" />
<circle cx="315" cy="383.8" r="11.8" fill="#00ff00" />
<circle cx="315" cy="383.8" r="6" fill="#ffffff" />
<circle cx="349" cy="288" r="11.8" fill="#00ff00" />
<circle cx="349" cy="288" r="6" fill="#ffffff" />
<circle cx="428.8" cy="246.2" r="11.8" fill="#00ff00" />
<circle cx="428.8" cy="246.2" r="6" fill="#ffffff" />
<circle cx="337.8" cy="314.2" r="5.9" fill="#909090" />
<circle cx="349" cy="313.8" r="2.8" fill="#909090" />
<circle cx="360.5" cy="325" r="11.8" fill="#909090" />
<circle cx="440" cy="270" r="7.8" fill="#0000ff" />
<circle cx="428.8" cy="270" r="2.8" fill="#909090" />
<circle cx="486.2" cy="234.2" r="7.8" fill="#0000ff" />
<circle cx="474.2" cy="239" r="2.8" fill="#909090" />
<circle cx="451.8" cy="300.8" r="7.8" fill="#ff00ff" />
<path d="M460 303h6v6h6v6h-6v6h-6v-6h-6v-6h6z" fill="#3cb371"/>
<circle cx="451.8" cy="346.2" r="2.8" fill="#909090" />
<circle cx="497.5" cy="296.2" r="2.8" fill="#909090" />
<circle cx="383" cy="410" r="2.8" fill="#909090" />
<circle cx="565" cy="173" r="2.8" fill="#909090" />
<circle cx="565" cy="238" r="7.8" fill="#008000" />
<circle cx="576.9" cy="167" r="7.8" fill="#ff00ff" />
<circle cx="621.8" cy="162" r="11.8" fill="#ff9a40" />
<circle cx="621.8" cy="147.5" r="11.8" fill="#00ff00" />
<circle cx="621.8" cy="288" r="2.8" fill="#909090" />
<circle cx="712.8" cy="305" r="7.8" fill="#00e5ff" />
<circle cx="712.8" cy="312" r="7.8" fill="#3cb371" />
<circle cx="769.8" cy="331.8" r="7.8" fill="#00e5ff" />
<circle cx="759.2" cy="338" r="2.8" fill="#909090" />
<circle cx="736" cy="352" r="7.8" fill="#00e5ff" />
<circle cx="701.8" cy="406.8" r="5.9" fill="#909090" />
<circle cx="723.5" cy="468.8" r="11.8" fill="#00ff00" />
<circle cx="723.5" cy="468.8" r="6" fill="#ffffff" />
<circle cx="826.8" cy="415" r="2.8" fill="#909090" />
<circle cx="746.9" cy="512" r="11.8" fill="#00ff00" />
<circle cx="746.9" cy="496.5" r="11.8" fill="#ff9a40" />
<circle cx="746.9" cy="502.3" r="11.8" fill="#909090" />
<circle cx="746.9" cy="502" r="5.9" fill="#8b2222" />
<circle cx="746.9" cy="496.7" r="6" fill="#fff" />
<circle cx="746.9" cy="488.8" r="2.8" fill="#909090" />
<circle cx="781" cy="535" r="2.8" fill="#909090" />
<circle cx="884" cy="638" r="2.8" fill="#909090" />
<circle cx="929" cy="513" r="2.8" fill="#909090" />
<circle cx="951.8" cy="574.2" r="2.8" fill="#909090" />
<circle cx="997.2" cy="533.2" r="2.8" fill="#909090" />
<circle cx="1008.8" cy="627" r="2.8" fill="#909090" />
<circle cx="1099.8" cy="540.8" r="2.8" fill="#909090" />
<circle cx="1087.8" cy="392.5" r="2.8" fill="#909090" />
<circle cx="860.8" cy="631.2" r="7.8" fill="#ff00ff" />
<circle cx="884" cy="663" r="11.8" fill="#00ff00" />
<circle cx="884" cy="663" r="6" fill="#ffffff" />
<path d="M1085.2 490.2h6v6h6v6h-6v6h-6v-6h-6v-6h6z" fill="#3cb371"/>
<circle cx="1088.2" cy="517" r="7.8" fill="#ffff00" />
<circle cx="1076.8" cy="426.2" r="5.9" fill="#909090" />
<circle cx="1100.2" cy="427.5" r="11.8" fill="#909090" />
<circle cx="1100.2" cy="425" r="7.8" fill="#0000ff" />
<circle cx="1280.8" cy="400" r="11.8" fill="#00ff00" />
<circle cx="1280.8" cy="400" r="6" fill="#ffffff" />
<circle cx="1280.8" cy="423.8" r="2.8" fill="#909090" />
<circle cx="1134" cy="427" r="5.6" fill="#ffffff" />
<circle cx="1134" cy="427" r="2.8" fill="#909090" />
<circle cx="1145" cy="429.5" r="7.8" fill="#00e5ff" />
<circle cx="1190.8" cy="444.2" r="7.8" fill="#ffff00" />
<circle cx="1212.8" cy="445" r="7.8" fill="#00e5ff" />
<path d="M1152.8 444.8h6v6h6v6h-6v6h-6v-6h-6v-6h6z" fill="#ff0000"/>
<circle cx="1190.8" cy="467" r="2.8" fill="#909090" />
<circle cx="1315.8" cy="450.8" r="2.8" fill="#909090" />
<circle cx="1395.2" cy="483" r="2.8" fill="#909090" />
<circle cx="1372" cy="567" r="2.8" fill="#909090" />
<circle cx="1168" cy="601" r="2.8" fill="#909090" />
<circle cx="1554" cy="520" r="2.8" fill="#909090" />
<circle cx="1520" cy="535" r="2.8" fill="#909090" />
<circle cx="1622" cy="687" r="2.8" fill="#909090" />
<circle cx="1657" cy="733" r="2.8" fill="#909090" />
<circle cx="1418" cy="478" r="7.8" fill="#00e5ff" />
<circle cx="1440.8" cy="500.8" r="7.8" fill="#ffff00" />
<circle cx="1337.8" cy="533.2" r="7.8" fill="#ffff00" />
<circle cx="1304" cy="557" r="7.8" fill="#00e5ff" />
<circle cx="1394.8" cy="573" r="7.8" fill="#00e5ff" />
<circle cx="1224.8" cy="627" r="11.8" fill="#00ff00" />
<circle cx="1236.2" cy="622" r="2.8" fill="#909090" />
<circle cx="1554" cy="500" r="11.8" fill="#00ff00" />
<path d="M1563 531.8h6v6h6v6h-6v6h-6v-6h-6v-6h6z" fill="#ff0000"/>
<circle cx="1577.2" cy="587.5" r="7.8" fill="#3cb371" />
<circle cx="1474.9" cy="624.4" r="11.8" fill="#00ff00" />
<circle cx="1474.9" cy="611" r="11.8" fill="#ff9a40" />
<circle cx="1474.9" cy="611" r="6" fill="#ffffff" />
<circle cx="1463" cy="599.6" r="11.8" fill="#909090" />
<circle cx="1451.7" cy="609.1" r="5.9" fill="#909090" />
<path d="M1642 729h6v6h6v6h-6v6h-6v-6h-6v-6h6z" fill="#ff0000"/>
<circle cx="1577" cy="751.8" r="11.8" fill="#00ff00" />
<circle cx="1587.5" cy="746.2" r="11.8" fill="#909090" />
<circle cx="1575.8" cy="752.5" r="5.9" fill="#909090" />
<circle cx="1610.8" cy="780" r="11.8" fill="#909090" />
<circle cx="1600" cy="791.8" r="5.9" fill="#909090" />
<circle cx="1634" cy="828" r="7.8" fill="#0000ff" />
<circle cx="1656.9" cy="883" r="11.8" fill="#00ff00" />
<circle cx="1656.9" cy="878.7" r="7.9" fill="#0000ff" />
<circle cx="1656.9" cy="882.5" r="6.1" fill="#fff" />
<circle cx="1679" cy="914.9" r="11.8" fill="#00ff00" />
<circle cx="1679" cy="899.9" r="11.8" fill="#ff9a40" />
<circle cx="1679" cy="899.9" r="6" fill="#ffffff" />
<line x1="19.3" x2="19.3" y1="603" y2="622" stroke="#089981" stroke-width="2"/>
<rect x="16.3" y="604.6" width="6" height="2.9" fill="#089981" stroke="#089981" stroke-width="2"/>
<line x1="30.7" x2="30.7" y1="620" y2="632.5" stroke="#f23645" stroke-width="2"/>
<rect x="26.7" y="619.3" width="8" height="1.9" fill="#ff0000"/>
<line x1="42.1" x2="42.1" y1="611.2" y2="616.2" stroke="#089981" stroke-width="2"/>
<line x1="42.1" x2="42.1" y1="622" y2="637.5" stroke="#089981" stroke-width="2"/>
<rect x="39.1" y="616.5" width="6" height="5.2" fill="none" stroke="#ff0000" stroke-width="2"/>
<line x1="53.4" x2="53.4" y1="618" y2="628.8" stroke="#089981" stroke-width="2"/>
<rect x="50.4" y="612.3" width="6" height="5.4" fill="none" stroke="#000000" stroke-width="2"/>
<rect x="61.8" y="606.5" width="6" height="16.2" fill="none" stroke="#000000" stroke-width="2"/>
<line x1="76.2" x2="76.2" y1="592.5" y2="604.2" stroke="#089981" stroke-width="2"/>
<rect x="73.2" y="604.5" width="6" height="4.4" fill="none" stroke="#000000" stroke-width="2"/>
<line x1="87.6" x2="87.6" y1="603.8" y2="609.2" stroke="#f23645" stroke-width="2"/>
<rect x="84.6" y="604" width="6" height="4.9" fill="#000000" stroke="#f23645" stroke-width="2"/>
<line x1="98.9" x2="98.9" y1="587.5" y2="590.8" stroke="#089981" stroke-width="2"/>
<rect x="95.9" y="591" width="6" height="21.2" fill="none" stroke="#000000" stroke-width="2"/>
<line x1="110.3" x2="110.3" y1="559.5" y2="561.2" stroke="#089981" stroke-width="2"/>
<rect x="107.3" y="561.5" width="6" height="30.2" fill="none" stroke="#00ff00" stroke-width="2"/>
<line x1="121.7" x2="121.7" y1="501.2" y2="527.5" stroke="#089981" stroke-width="2"/>
<line x1="121.7" x2="121.7" y1="559.5" y2="567.5" stroke="#089981" stroke-width="2"/>
<rect x="118.7" y="527.8" width="6" height="31.4" fill="none" stroke="#00ff00" stroke-width="2"/>
<line x1="133.1" x2="133.1" y1="461.2" y2="505.8" stroke="#089981" stroke-width="2"/>
<line x1="133.1" x2="133.1" y1="526.2" y2="532.5" stroke="#089981" stroke-width="2"/>
<rect x="130.1" y="506.1" width="6" height="19.9" fill="none" stroke="#00ff00" stroke-width="2"/>
<line x1="144.4" x2="144.4" y1="501.2" y2="562.5" stroke="#f23645" stroke-width="2"/>
<rect x="141.4" y="507.8" width="6" height="40.7" fill="#00ff00" stroke="#f23645" stroke-width="2"/>
<line x1="155.8" x2="155.8" y1="458.8" y2="462" stroke="#089981" stroke-width="2"/>
<line x1="155.8" x2="155.8" y1="548" y2="578.2" stroke="#089981" stroke-width="2"/>
<rect x="152.8" y="462.3" width="6" height="85.4" fill="none" stroke="#00ff00" stroke-width="2"/>
<line x1="167.2" x2="167.2" y1="422.5" y2="532.5" stroke="#f23645" stroke-width="2"/>
<rect x="164.2" y="457.8" width="6" height="72.4" fill="#00ff00" stroke="#f23645" stroke-width="2"/>
<line x1="178.5" x2="178.5" y1="516.2" y2="596.2" stroke="#f23645" stroke-width="2"/>
<rect x="175.5" y="534" width="6" height="6.9" fill="#ff0000" stroke="#f23645" stroke-width="2"/>
<line x1="189.9" x2="189.9" y1="528.8" y2="587.5" stroke="#f23645" stroke-width="2"/>
<rect x="186.9" y="542.8" width="6" height="20.7" fill="#ff0000" stroke="#f23645" stroke-width="2"/>
<line x1="201.3" x2="201.3" y1="535" y2="556.2" stroke="#089981" stroke-width="2"/>
<line x1="201.3" x2="201.3" y1="560" y2="582.5" stroke="#089981" stroke-width="2"/>
<rect x="198.3" y="556.5" width="6" height="3.2" fill="none" stroke="#ff0000" stroke-width="2"/>
<line x1="212.7" x2="212.7" y1="533" y2="538.8" stroke="#089981" stroke-width="2"/>
<line x1="212.7" x2="212.7" y1="555" y2="567.5" stroke="#089981" stroke-width="2"/>
<rect x="209.7" y="539" width="6" height="15.7" fill="none" stroke="#ff0000" stroke-width="2"/>
<line x1="224" x2="224" y1="537.5" y2="619.5" stroke="#f23645" stroke-width="2"/>
<rect x="221" y="539" width="6" height="50.7" fill="#ff0000" stroke="#f23645" stroke-width="2"/>
<line x1="235.4" x2="235.4" y1="561.2" y2="576.2" stroke="#089981" stroke-width="2"/>
<line x1="235.4" x2="235.4" y1="587" y2="603.8" stroke="#089981" stroke-width="2"/>
<rect x="232.4" y="576.5" width="6" height="10.2" fill="none" stroke="#000000" stroke-width="2"/>
<line x1="246.8" x2="246.8" y1="563.2" y2="569.2" stroke="#089981" stroke-width="2"/>
<line x1="246.8" x2="246.8" y1="578" y2="611.8" stroke="#089981" stroke-width="2"/>
<rect x="243.8" y="569.5" width="6" height="8.2" fill="none" stroke="#000000" stroke-width="2"/>
<line x1="258.1" x2="258.1" y1="566.2" y2="604.5" stroke="#f23645" stroke-width="2"/>
<rect x="255.1" y="568.3" width="6" height="20.7" fill="#000000" stroke="#f23645" stroke-width="2"/>
<line x1="269.5" x2="269.5" y1="552.5" y2="566.2" stroke="#089981" stroke-width="2"/>
<line x1="269.5" x2="269.5" y1="587" y2="590" stroke="#089981" stroke-width="2"/>
<rect x="266.5" y="566.5" width="6" height="20.2" fill="none" stroke="#000000" stroke-width="2"/>
<line x1="280.9" x2="280.9" y1="522" y2="532" stroke="#089981" stroke-width="2"/>
<line x1="280.9" x2="280.9" y1="560" y2="565" stroke="#089981" stroke-width="2"/>
<rect x="277.9" y="532.3" width="6" height="27.4" fill="none" stroke="#00ff00" stroke-width="2"/>
<line x1="292.3" x2="292.3" y1="485" y2="520" stroke="#089981" stroke-width="2"/>
<line x1="292.3" x2="292.3" y1="528" y2="536.2" stroke="#089981" stroke-width="2"/>
<rect x="289.3" y="520.3" width="6" height="7.4" fill="none" stroke="#00ff00" stroke-width="2"/>
<line x1="303.6" x2="303.6" y1="430" y2="465.8" stroke="#089981" stroke-width="2"/>
<line x1="303.6" x2="303.6" y1="520" y2="533.8" stroke="#089981" stroke-width="2"/>
<rect x="300.6" y="466.1" width="6" height="53.7" fill="none" stroke="#00ff00" stroke-width="2"/>
<line x1="315" x2="315" y1="423.2" y2="495.5" stroke="#f23645" stroke-width="2"/>
<rect x="312" y="466.1" width="6" height="22.9" fill="#00ff00" stroke="#f23645" stroke-width="2"/>
<line x1="326.4" x2="326.4" y1="449.5" y2="460.8" stroke="#089981" stroke-width="2"/>
<line x1="326.4" x2="326.4" y1="489.5" y2="500" stroke="#089981" stroke-width="2"/>
<rect x="323.4" y="461.1" width="6" height="28.1" fill="none" stroke="#00ff00" stroke-width="2"/>
<line x1="337.7" x2="337.7" y1="353" y2="355.5" stroke="#089981" stroke-width="2"/>
<line x1="337.7" x2="337.7" y1="457" y2="464.5" stroke="#089981" stroke-width="2"/>
<rect x="334.7" y="355.8" width="6" height="100.9" fill="none" stroke="#00ff00" stroke-width="2"/>
<line x1="349.1" x2="349.1" y1="328" y2="377.5" stroke="#f23645" stroke-width="2"/>
<rect x="346.1" y="359.1" width="6" height="3.1" fill="#00ff00" stroke="#f23645" stroke-width="2"/>
<line x1="360.5" x2="360.5" y1="352.5" y2="374.2" stroke="#f23645" stroke-width="2"/>
<rect x="357.5" y="362.8" width="6" height="11.1" fill="#000000" stroke="#f23645" stroke-width="2"/>
<line x1="371.9" x2="371.9" y1="368.8" y2="393.8" stroke="#f23645" stroke-width="2"/>
<rect x="368.9" y="374.6" width="6" height="14.4" fill="#000000" stroke="#f23645" stroke-width="2"/>
<line x1="383.2" x2="383.2" y1="370" y2="383.8" stroke="#089981" stroke-width="2"/>
<line x1="383.2" x2="383.2" y1="390.5" y2="396.8" stroke="#089981" stroke-width="2"/>
<rect x="380.2" y="384.1" width="6" height="6.1" fill="none" stroke="#000000" stroke-width="2"/>
<line x1="394.6" x2="394.6" y1="381.2" y2="385" stroke="#089981" stroke-width="2"/>
<rect x="391.6" y="349.1" width="6" height="31.9" fill="none" stroke="#000000" stroke-width="2"/>
<line x1="406" x2="406" y1="313" y2="314.5" stroke="#089981" stroke-width="2"/>
<line x1="406" x2="406" y1="351.2" y2="355" stroke="#089981" stroke-width="2"/>
<rect x="403" y="314.8" width="6" height="36.1" fill="none" stroke="#ff0000" stroke-width="2"/>
<line x1="417.3" x2="417.3" y1="295" y2="303.8" stroke="#089981" stroke-width="2"/>
<line x1="417.3" x2="417.3" y1="314.2" y2="317.5" stroke="#089981" stroke-width="2"/>
<rect x="414.3" y="304.1" width="6" height="9.9" fill="none" stroke="#000000" stroke-width="2"/>
<line x1="428.7" x2="428.7" y1="283.2" y2="310" stroke="#f23645" stroke-width="2"/>
<rect x="425.7" y="305.3" width="6" height="4.4" fill="#00ff00" stroke="#f23645" stroke-width="2"/>
<line x1="440.1" x2="440.1" y1="299.2" y2="303.8" stroke="#089981" stroke-width="2"/>
<line x1="440.1" x2="440.1" y1="309.5" y2="331.8" stroke="#089981" stroke-width="2"/>
<rect x="437.1" y="304.1" width="6" height="5.1" fill="none" stroke="#00ff00" stroke-width="2"/>
<rect x="447.5" y="332.1" width="8" height="1.9" fill="#ff0000"/>
<line x1="462.8" x2="462.8" y1="264.2" y2="272.5" stroke="#089981" stroke-width="2"/>
<line x1="462.8" x2="462.8" y1="287" y2="295" stroke="#089981" stroke-width="2"/>
<rect x="459.8" y="272.8" width="6" height="13.9" fill="none" stroke="#000000" stroke-width="2"/>
<line x1="474.2" x2="474.2" y1="251.2" y2="275.8" stroke="#089981" stroke-width="2"/>
<rect x="471.2" y="269.1" width="6" height="3.1" fill="#ff0000" stroke="#089981" stroke-width="2"/>
<line x1="485.6" x2="485.6" y1="262" y2="277.5" stroke="#f23645" stroke-width="2"/>
<rect x="482.6" y="272.8" width="6" height="4.4" fill="#ff0000" stroke="#f23645" stroke-width="2"/>
<line x1="497" x2="497" y1="278.8" y2="283.8" stroke="#f23645" stroke-width="2"/>
<rect x="493" y="277.8" width="8" height="1.9" fill="#ff0000"/>
<line x1="508.3" x2="508.3" y1="242.5" y2="249.5" stroke="#089981" stroke-width="2"/>
<line x1="508.3" x2="508.3" y1="276.2" y2="278.8" stroke="#089981" stroke-width="2"/>
<rect x="505.3" y="249.8" width="6" height="26.1" fill="none" stroke="#00ff00" stroke-width="2"/>
<line x1="519.7" x2="519.7" y1="227.5" y2="231.8" stroke="#089981" stroke-width="2"/>
<rect x="516.7" y="232.1" width="6" height="14.6" fill="none" stroke="#00ff00" stroke-width="2"/>
<line x1="531.1" x2="531.1" y1="228" y2="232.5" stroke="#f23645" stroke-width="2"/>
<rect x="528.1" y="228.3" width="6" height="3.9" fill="#ff0000" stroke="#f23645" stroke-width="2"/>
<line x1="542.4" x2="542.4" y1="208.2" y2="224.5" stroke="#089981" stroke-width="2"/>
<line x1="542.4" x2="542.4" y1="235" y2="239.5" stroke="#089981" stroke-width="2"/>
<rect x="539.4" y="224.8" width="6" height="9.9" fill="none" stroke="#000000" stroke-width="2"/>
<line x1="553.8" x2="553.8" y1="221.2" y2="227.5" stroke="#089981" stroke-width="2"/>
<rect x="550.8" y="212.3" width="6" height="8.6" fill="none" stroke="#00ff00" stroke-width="2"/>
<line x1="565.2" x2="565.2" y1="185" y2="197.5" stroke="#089981" stroke-width="2"/>
<rect x="562.2" y="197.8" width="6" height="13.1" fill="none" stroke="#00ff00" stroke-width="2"/>
<line x1="576.6" x2="576.6" y1="196.2" y2="214.5" stroke="#f23645" stroke-width="2"/>
<rect x="573.6" y="196.6" width="6" height="4.9" fill="#ff0000" stroke="#f23645" stroke-width="2"/>
<line x1="587.9" x2="587.9" y1="186.2" y2="215" stroke="#f23645" stroke-width="2"/>
<rect x="584.9" y="187.1" width="6" height="19.6" fill="#ff0000" stroke="#f23645" stroke-width="2"/>
<line x1="599.3" x2="599.3" y1="189.2" y2="237.5" stroke="#f23645" stroke-width="2"/>
<rect x="596.3" y="205.3" width="6" height="10.6" fill="#ff0000" stroke="#f23645" stroke-width="2"/>
<line x1="610.7" x2="610.7" y1="207.5" y2="241.2" stroke="#f23645" stroke-width="2"/>
<rect x="607.7" y="214.1" width="6" height="2.6" fill="#ff0000" stroke="#f23645" stroke-width="2"/>
<line x1="622" x2="622" y1="181.2" y2="275" stroke="#f23645" stroke-width="2"/>
<rect x="619" y="221.1" width="6" height="18.6" fill="#ff0000" stroke="#f23645" stroke-width="2"/>
<line x1="633.4" x2="633.4" y1="181.2" y2="198" stroke="#089981" stroke-width="2"/>
<line x1="633.4" x2="633.4" y1="236.2" y2="253.2" stroke="#089981" stroke-width="2"/>
<rect x="630.4" y="198.3" width="6" height="37.6" fill="none" stroke="#ff0000" stroke-width="2"/>
<line x1="644.8" x2="644.8" y1="192.5" y2="245" stroke="#f23645" stroke-width="2"/>
<rect x="641.8" y="194.8" width="6" height="6.9" fill="#ff0000" stroke="#f23645" stroke-width="2"/>
<line x1="656.2" x2="656.2" y1="190" y2="246.2" stroke="#f23645" stroke-width="2"/>
<rect x="653.2" y="208.3" width="6" height="19.4" fill="#000000" stroke="#f23645" stroke-width="2"/>
<line x1="667.5" x2="667.5" y1="209.2" y2="216.8" stroke="#089981" stroke-width="2"/>
<line x1="667.5" x2="667.5" y1="227.5" y2="248.8" stroke="#089981" stroke-width="2"/>
<rect x="664.5" y="217.1" width="6" height="10.1" fill="none" stroke="#000000" stroke-width="2"/>
<line x1="678.9" x2="678.9" y1="209.2" y2="250.5" stroke="#f23645" stroke-width="2"/>
<rect x="675.9" y="214.6" width="6" height="12.1" fill="#000000" stroke="#f23645" stroke-width="2"/>
<line x1="690.3" x2="690.3" y1="224.2" y2="346.2" stroke="#f23645" stroke-width="2"/>
<rect x="687.3" y="229.1" width="6" height="100.6" fill="#ff0000" stroke="#f23645" stroke-width="2"/>
<line x1="701.6" x2="701.6" y1="333.8" y2="372.5" stroke="#f23645" stroke-width="2"/>
<rect x="698.6" y="334.1" width="6" height="29.9" fill="#ff0000" stroke="#f23645" stroke-width="2"/>
<line x1="713" x2="713" y1="341.2" y2="414.5" stroke="#f23645" stroke-width="2"/>
<rect x="710" y="364.1" width="6" height="39.4" fill="#ff0000" stroke="#f23645" stroke-width="2"/>
<line x1="724.4" x2="724.4" y1="386.2" y2="393" stroke="#089981" stroke-width="2"/>
<line x1="724.4" x2="724.4" y1="407" y2="433.8" stroke="#089981" stroke-width="2"/>
<rect x="721.4" y="393.3" width="6" height="13.4" fill="none" stroke="#ff0000" stroke-width="2"/>
<line x1="735.8" x2="735.8" y1="388.2" y2="447.5" stroke="#f23645" stroke-width="2"/>
<rect x="732.8" y="394.1" width="6" height="46.9" fill="#ff0000" stroke="#f23645" stroke-width="2"/>
<line x1="747.1" x2="747.1" y1="371.2" y2="390" stroke="#089981" stroke-width="2"/>
<line x1="747.1" x2="747.1" y1="441.8" y2="475" stroke="#089981" stroke-width="2"/>
<rect x="744.1" y="390.3" width="6" height="51.1" fill="none" stroke="#000000" stroke-width="2"/>
<line x1="758.5" x2="758.5" y1="351.2" y2="372" stroke="#089981" stroke-width="2"/>
<line x1="758.5" x2="758.5" y1="392" y2="407" stroke="#089981" stroke-width="2"/>
<rect x="755.5" y="372.3" width="6" height="19.4" fill="none" stroke="#000000" stroke-width="2"/>
<line x1="769.9" x2="769.9" y1="368.8" y2="458" stroke="#f23645" stroke-width="2"/>
<rect x="766.9" y="369.1" width="6" height="79.4" fill="#000000" stroke="#f23645" stroke-width="2"/>
<line x1="781.3" x2="781.3" y1="418.2" y2="521.2" stroke="#f23645" stroke-width="2"/>
<rect x="778.3" y="451.6" width="6" height="48.9" fill="#000000" stroke="#f23645" stroke-width="2"/>
<line x1="792.6" x2="792.6" y1="445" y2="480" stroke="#089981" stroke-width="2"/>
<rect x="789.6" y="480.3" width="6" height="17.4" fill="none" stroke="#000000" stroke-width="2"/>
<line x1="804" x2="804" y1="438" y2="457" stroke="#089981" stroke-width="2"/>
<line x1="804" x2="804" y1="475.8" y2="486.2" stroke="#089981" stroke-width="2"/>
<rect x="801" y="457.3" width="6" height="18.1" fill="none" stroke="#000000" stroke-width="2"/>
<line x1="815.4" x2="815.4" y1="433.8" y2="446.8" stroke="#089981" stroke-width="2"/>
<line x1="815.4" x2="815.4" y1="459.2" y2="470" stroke="#089981" stroke-width="2"/>
<rect x="812.4" y="447.1" width="6" height="11.9" fill="none" stroke="#ff0000" stroke-width="2"/>
<line x1="826.7" x2="826.7" y1="430" y2="593.8" stroke="#f23645" stroke-width="2"/>
<rect x="823.7" y="444.8" width="6" height="119.4" fill="#ff0000" stroke="#f23645" stroke-width="2"/>
<line x1="838.1" x2="838.1" y1="524.2" y2="558" stroke="#089981" stroke-width="2"/>
<line x1="838.1" x2="838.1" y1="563" y2="570" stroke="#089981" stroke-width="2"/>
<rect x="835.1" y="558.3" width="6" height="4.4" fill="none" stroke="#ff0000" stroke-width="2"/>
<line x1="849.5" x2="849.5" y1="541.2" y2="602.5" stroke="#f23645" stroke-width="2"/>
<rect x="846.5" y="555.8" width="6" height="41.9" fill="#ff0000" stroke="#f23645" stroke-width="2"/>
<line x1="860.9" x2="860.9" y1="561.2" y2="581.8" stroke="#089981" stroke-width="2"/>
<rect x="857.9" y="582" width="6" height="14.7" fill="none" stroke="#ff0000" stroke-width="2"/>
<line x1="872.2" x2="872.2" y1="571.2" y2="609.2" stroke="#f23645" stroke-width="2"/>
<rect x="869.2" y="584" width="6" height="24.9" fill="#ff0000" stroke="#f23645" stroke-width="2"/>
<line x1="883.6" x2="883.6" y1="594.2" y2="625" stroke="#089981" stroke-width="2"/>
<rect x="880.6" y="605.8" width="6" height="2.2" fill="#000000" stroke="#000000" stroke-width="2"/>
<line x1="895" x2="895" y1="568.2" y2="585.8" stroke="#089981" stroke-width="2"/>
<rect x="892" y="586" width="6" height="18.7" fill="none" stroke="#00ff00" stroke-width="2"/>
<line x1="906.3" x2="906.3" y1="563" y2="578.8" stroke="#089981" stroke-width="2"/>
<line x1="906.3" x2="906.3" y1="583.2" y2="603.8" stroke="#089981" stroke-width="2"/>
<rect x="903.3" y="579" width="6" height="3.9" fill="none" stroke="#00ff00" stroke-width="2"/>
<rect x="913.7" y="597" width="8" height="1.9" fill="#00ff00"/>
<line x1="929.1" x2="929.1" y1="526.2" y2="540" stroke="#089981" stroke-width="2"/>
<rect x="926.1" y="540.3" width="6" height="15.2" fill="none" stroke="#00ff00" stroke-width="2"/>
<line x1="940.5" x2="940.5" y1="535" y2="551.8" stroke="#089981" stroke-width="2"/>
<rect x="937.5" y="539.8" width="6" height="2.4" fill="#00ff00" stroke="#00ff00" stroke-width="2"/>
<line x1="951.8" x2="951.8" y1="538" y2="560.8" stroke="#f23645" stroke-width="2"/>
<rect x="948.8" y="538.3" width="6" height="6.4" fill="#00ff00" stroke="#f23645" stroke-width="2"/>
<line x1="963.2" x2="963.2" y1="546.2" y2="552" stroke="#f23645" stroke-width="2"/>
<rect x="960.2" y="546.5" width="6" height="5.2" fill="#00ff00" stroke="#f23645" stroke-width="2"/>
<line x1="974.6" x2="974.6" y1="549.5" y2="552.5" stroke="#089981" stroke-width="2"/>
<rect x="970.6" y="548.5" width="8" height="1.9" fill="#089981"/>
<line x1="986" x2="986" y1="549.2" y2="553" stroke="#089981" stroke-width="2"/>
<rect x="983" y="553.3" width="6" height="5.7" fill="none" stroke="#000000" stroke-width="2"/>
<line x1="997.3" x2="997.3" y1="546.2" y2="589.2" stroke="#f23645" stroke-width="2"/>
<rect x="994.3" y="546.5" width="6" height="42.4" fill="#000000" stroke="#f23645" stroke-width="2"/>
<line x1="1008.7" x2="1008.7" y1="593.8" y2="614.5" stroke="#f23645" stroke-width="2"/>
<rect x="1005.7" y="597" width="6" height="9.7" fill="#000000" stroke="#f23645" stroke-width="2"/>
<rect x="1017.1" y="566.5" width="6" height="36.2" fill="none" stroke="#000000" stroke-width="2"/>
<line x1="1031.4" x2="1031.4" y1="556.2" y2="560" stroke="#089981" stroke-width="2"/>
<rect x="1028.4" y="560.3" width="6" height="6.2" fill="none" stroke="#00ff00" stroke-width="2"/>
<line x1="1042.8" x2="1042.8" y1="542" y2="588.8" stroke="#f23645" stroke-width="2"/>
<rect x="1039.8" y="554" width="6" height="28.9" fill="#00ff00" stroke="#f23645" stroke-width="2"/>
<line x1="1054.2" x2="1054.2" y1="578" y2="585" stroke="#089981" stroke-width="2"/>
<rect x="1051.2" y="557.8" width="6" height="19.9" fill="none" stroke="#00ff00" stroke-width="2"/>
<line x1="1065.6" x2="1065.6" y1="555.8" y2="564.2" stroke="#089981" stroke-width="2"/>
<rect x="1062.6" y="487.1" width="6" height="68.4" fill="none" stroke="#00ff00" stroke-width="2"/>
<line x1="1076.9" x2="1076.9" y1="485.8" y2="492.5" stroke="#089981" stroke-width="2"/>
<rect x="1073.9" y="461.6" width="6" height="23.9" fill="none" stroke="#00ff00" stroke-width="2"/>
<line x1="1088.3" x2="1088.3" y1="405" y2="482.5" stroke="#089981" stroke-width="2"/>
<rect x="1084.3" y="456.1" width="8" height="1.9" fill="#00ff00"/>
<line x1="1099.7" x2="1099.7" y1="452" y2="527.5" stroke="#f23645" stroke-width="2"/>
<rect x="1096.7" y="456.1" width="6" height="33.1" fill="#000000" stroke="#f23645" stroke-width="2"/>
<line x1="1111" x2="1111" y1="446.2" y2="467.5" stroke="#089981" stroke-width="2"/>
<line x1="1111" x2="1111" y1="485.8" y2="508.8" stroke="#089981" stroke-width="2"/>
<rect x="1108" y="467.8" width="6" height="17.6" fill="none" stroke="#000000" stroke-width="2"/>
<line x1="1122.4" x2="1122.4" y1="442.5" y2="456.8" stroke="#089981" stroke-width="2"/>
<line x1="1122.4" x2="1122.4" y1="464.2" y2="486.2" stroke="#089981" stroke-width="2"/>
<rect x="1119.4" y="457.1" width="6" height="6.9" fill="none" stroke="#000000" stroke-width="2"/>
<line x1="1133.8" x2="1133.8" y1="438.8" y2="473.8" stroke="#f23645" stroke-width="2"/>
<rect x="1130.8" y="460.3" width="6" height="6.9" fill="#000000" stroke="#f23645" stroke-width="2"/>
<line x1="1145.2" x2="1145.2" y1="463.8" y2="513.8" stroke="#f23645" stroke-width="2"/>
<rect x="1142.2" y="469.1" width="6" height="38.6" fill="#ff0000" stroke="#f23645" stroke-width="2"/>
<line x1="1156.5" x2="1156.5" y1="486.2" y2="552" stroke="#f23645" stroke-width="2"/>
<rect x="1153.5" y="515.3" width="6" height="36.4" fill="#ff0000" stroke="#f23645" stroke-width="2"/>
<line x1="1167.9" x2="1167.9" y1="526.2" y2="588.8" stroke="#f23645" stroke-width="2"/>
<rect x="1163.9" y="551" width="8" height="1.9" fill="#ff0000"/>
<line x1="1179.3" x2="1179.3" y1="501.2" y2="512" stroke="#089981" stroke-width="2"/>
<line x1="1179.3" x2="1179.3" y1="557" y2="562.5" stroke="#089981" stroke-width="2"/>
<rect x="1176.3" y="512.3" width="6" height="44.4" fill="none" stroke="#ff0000" stroke-width="2"/>
<line x1="1190.6" x2="1190.6" y1="479.2" y2="491.8" stroke="#089981" stroke-width="2"/>
<line x1="1190.6" x2="1190.6" y1="507.5" y2="510" stroke="#089981" stroke-width="2"/>
<rect x="1187.6" y="492.1" width="6" height="15.1" fill="none" stroke="#000000" stroke-width="2"/>
<line x1="1202" x2="1202" y1="483.2" y2="518.8" stroke="#f23645" stroke-width="2"/>
<rect x="1199" y="495.8" width="6" height="10.6" fill="#000000" stroke="#f23645" stroke-width="2"/>
<line x1="1213.4" x2="1213.4" y1="481.2" y2="566.8" stroke="#f23645" stroke-width="2"/>
<rect x="1210.4" y="510.3" width="6" height="53.2" fill="#000000" stroke="#f23645" stroke-width="2"/>
<line x1="1224.8" x2="1224.8" y1="507" y2="513.8" stroke="#089981" stroke-width="2"/>
<line x1="1224.8" x2="1224.8" y1="563.8" y2="591.2" stroke="#089981" stroke-width="2"/>
<rect x="1221.8" y="514" width="6" height="49.4" fill="none" stroke="#00ff00" stroke-width="2"/>
<line x1="1236.1" x2="1236.1" y1="519.5" y2="608.8" stroke="#f23645" stroke-width="2"/>
<rect x="1232.1" y="518.5" width="8" height="1.9" fill="#ff0000"/>
<line x1="1247.5" x2="1247.5" y1="482" y2="538.8" stroke="#f23645" stroke-width="2"/>
<rect x="1244.5" y="519.8" width="6" height="6.2" fill="#ff0000" stroke="#f23645" stroke-width="2"/>
<line x1="1258.9" x2="1258.9" y1="442" y2="483.8" stroke="#089981" stroke-width="2"/>
<rect x="1255.9" y="484.1" width="6" height="35.2" fill="none" stroke="#00ff00" stroke-width="2"/>
<line x1="1270.2" x2="1270.2" y1="445" y2="448.8" stroke="#089981" stroke-width="2"/>
<line x1="1270.2" x2="1270.2" y1="481.2" y2="482.5" stroke="#089981" stroke-width="2"/>
<rect x="1267.2" y="449.1" width="6" height="31.9" fill="none" stroke="#00ff00" stroke-width="2"/>
<line x1="1281.6" x2="1281.6" y1="437.5" y2="484.5" stroke="#f23645" stroke-width="2"/>
<rect x="1278.6" y="450.3" width="6" height="31.4" fill="#00ff00" stroke="#f23645" stroke-width="2"/>
<line x1="1293" x2="1293" y1="475" y2="493.2" stroke="#f23645" stroke-width="2"/>
<rect x="1290" y="484.6" width="6" height="5.1" fill="#00ff00" stroke="#f23645" stroke-width="2"/>
<line x1="1304.4" x2="1304.4" y1="475" y2="475.8" stroke="#089981" stroke-width="2"/>
<line x1="1304.4" x2="1304.4" y1="486.2" y2="493.2" stroke="#089981" stroke-width="2"/>
<rect x="1301.4" y="476.1" width="6" height="9.9" fill="none" stroke="#000000" stroke-width="2"/>
<line x1="1315.7" x2="1315.7" y1="463" y2="475" stroke="#089981" stroke-width="2"/>
<rect x="1311.7" y="474.1" width="8" height="1.9" fill="#000000"/>
<line x1="1327.1" x2="1327.1" y1="475" y2="500.5" stroke="#f23645" stroke-width="2"/>
<rect x="1324.1" y="475.3" width="6" height="21.4" fill="#ff0000" stroke="#f23645" stroke-width="2"/>
<line x1="1338.5" x2="1338.5" y1="487.5" y2="490.8" stroke="#089981" stroke-width="2"/>
<rect x="1335.5" y="491.1" width="6" height="6.6" fill="none" stroke="#ff0000" stroke-width="2"/>
<line x1="1349.9" x2="1349.9" y1="487.5" y2="510" stroke="#f23645" stroke-width="2"/>
<rect x="1346.9" y="490.3" width="6" height="10.6" fill="#ff0000" stroke="#f23645" stroke-width="2"/>
<line x1="1361.2" x2="1361.2" y1="501.2" y2="540.8" stroke="#f23645" stroke-width="2"/>
<rect x="1358.2" y="501.6" width="6" height="24.4" fill="#ff0000" stroke="#f23645" stroke-width="2"/>
<line x1="1372.6" x2="1372.6" y1="518.8" y2="555.8" stroke="#f23645" stroke-width="2"/>
<rect x="1369.6" y="529" width="6" height="5.7" fill="#ff0000" stroke="#f23645" stroke-width="2"/>
<rect x="1380" y="514" width="8" height="1.9" fill="#000000"/>
<line x1="1395.3" x2="1395.3" y1="494.5" y2="515" stroke="#089981" stroke-width="2"/>
<rect x="1391.3" y="495.3" width="8" height="1.9" fill="#089981"/>
<line x1="1406.7" x2="1406.7" y1="505" y2="519.5" stroke="#f23645" stroke-width="2"/>
<rect x="1402.7" y="504.1" width="8" height="1.9" fill="#ff0000"/>
<line x1="1418.1" x2="1418.1" y1="512" y2="530" stroke="#f23645" stroke-width="2"/>
<rect x="1415.1" y="512.3" width="6" height="17.4" fill="#000000" stroke="#f23645" stroke-width="2"/>
<line x1="1429.5" x2="1429.5" y1="520" y2="528" stroke="#089981" stroke-width="2"/>
<rect x="1426.5" y="520.3" width="6" height="7.4" fill="#00d060" stroke="#089981" stroke-width="2"/>
<line x1="1440.8" x2="1440.8" y1="533.8" y2="574.2" stroke="#f23645" stroke-width="2"/>
<rect x="1437.8" y="534" width="6" height="39.9" fill="#ff0000" stroke="#f23645" stroke-width="2"/>
<line x1="1452.2" x2="1452.2" y1="563.2" y2="578" stroke="#f23645" stroke-width="2"/>
<rect x="1449.2" y="570.8" width="6" height="6.9" fill="#ff0000" stroke="#f23645" stroke-width="2"/>
<line x1="1463.6" x2="1463.6" y1="568.8" y2="578" stroke="#089981" stroke-width="2"/>
<rect x="1460.6" y="569" width="6" height="8.7" fill="#ff0000" stroke="#089981" stroke-width="2"/>
<line x1="1474.9" x2="1474.9" y1="576.2" y2="592.5" stroke="#089981" stroke-width="2"/>
<rect x="1471.9" y="568.3" width="6" height="7.7" fill="none" stroke="#ff0000" stroke-width="2"/>
<line x1="1486.3" x2="1486.3" y1="571.2" y2="630.8" stroke="#f23645" stroke-width="2"/>
<rect x="1483.3" y="571.5" width="6" height="43.2" fill="#ff0000" stroke="#f23645" stroke-width="2"/>
<line x1="1497.7" x2="1497.7" y1="625" y2="630.8" stroke="#089981" stroke-width="2"/>
<rect x="1494.7" y="608.3" width="6" height="16.4" fill="none" stroke="#000000" stroke-width="2"/>
<line x1="1509.1" x2="1509.1" y1="583" y2="596.8" stroke="#089981" stroke-width="2"/>
<rect x="1506.1" y="597" width="6" height="9.7" fill="none" stroke="#000000" stroke-width="2"/>
<line x1="1520.4" x2="1520.4" y1="546.2" y2="565.8" stroke="#089981" stroke-width="2"/>
<line x1="1520.4" x2="1520.4" y1="607" y2="615" stroke="#089981" stroke-width="2"/>
<rect x="1517.4" y="566" width="6" height="40.7" fill="none" stroke="#00ff00" stroke-width="2"/>
<line x1="1531.8" x2="1531.8" y1="556.2" y2="613.8" stroke="#f23645" stroke-width="2"/>
<rect x="1528.8" y="562.3" width="6" height="14.9" fill="#00ff00" stroke="#f23645" stroke-width="2"/>
<line x1="1543.2" x2="1543.2" y1="564.2" y2="575.8" stroke="#089981" stroke-width="2"/>
<line x1="1543.2" x2="1543.2" y1="581.2" y2="591.2" stroke="#089981" stroke-width="2"/>
<rect x="1540.2" y="576" width="6" height="4.9" fill="none" stroke="#00ff00" stroke-width="2"/>
<line x1="1554.5" x2="1554.5" y1="532.5" y2="600.8" stroke="#f23645" stroke-width="2"/>
<rect x="1551.5" y="577.8" width="6" height="6.4" fill="#00ff00" stroke="#f23645" stroke-width="2"/>
<line x1="1565.9" x2="1565.9" y1="571.2" y2="691.8" stroke="#f23645" stroke-width="2"/>
<rect x="1562.9" y="581.5" width="6" height="98.2" fill="#ff0000" stroke="#f23645" stroke-width="2"/>
<line x1="1577.3" x2="1577.3" y1="615" y2="667.5" stroke="#089981" stroke-width="2"/>
<line x1="1577.3" x2="1577.3" y1="682" y2="717.5" stroke="#089981" stroke-width="2"/>
<rect x="1574.3" y="667.8" width="6" height="13.9" fill="none" stroke="#ff0000" stroke-width="2"/>
<line x1="1588.7" x2="1588.7" y1="647" y2="721.2" stroke="#f23645" stroke-width="2"/>
<rect x="1585.7" y="666.5" width="6" height="47.4" fill="#ff0000" stroke="#f23645" stroke-width="2"/>
<line x1="1600" x2="1600" y1="715.8" y2="757.5" stroke="#f23645" stroke-width="2"/>
<rect x="1597" y="716" width="6" height="11.7" fill="#ff0000" stroke="#f23645" stroke-width="2"/>
<line x1="1611.4" x2="1611.4" y1="706.2" y2="756.2" stroke="#f23645" stroke-width="2"/>
<rect x="1608.4" y="728.5" width="6" height="3.2" fill="#ff0000" stroke="#f23645" stroke-width="2"/>
<line x1="1622.8" x2="1622.8" y1="699.2" y2="788.8" stroke="#f23645" stroke-width="2"/>
<rect x="1619.8" y="732.3" width="6" height="38.2" fill="#000000" stroke="#f23645" stroke-width="2"/>
<line x1="1634.2" x2="1634.2" y1="754.2" y2="797.5" stroke="#f23645" stroke-width="2"/>
<rect x="1631.2" y="770.3" width="6" height="18.2" fill="#000000" stroke="#f23645" stroke-width="2"/>
<line x1="1645.5" x2="1645.5" y1="771.2" y2="830.5" stroke="#f23645" stroke-width="2"/>
<rect x="1642.5" y="790.3" width="6" height="9.4" fill="#000000" stroke="#f23645" stroke-width="2"/>
<line x1="1656.9" x2="1656.9" y1="746.2" y2="777.5" stroke="#089981" stroke-width="2"/>
<line x1="1656.9" x2="1656.9" y1="802" y2="847.5" stroke="#089981" stroke-width="2"/>
<rect x="1653.9" y="777.8" width="6" height="23.9" fill="none" stroke="#000000" stroke-width="2"/>
<line x1="1668.3" x2="1668.3" y1="772.5" y2="850.5" stroke="#f23645" stroke-width="2"/>
<rect x="1665.3" y="780.3" width="6" height="53.2" fill="#000000" stroke="#f23645" stroke-width="2"/>
<line x1="1679.6" x2="1679.6" y1="784.2" y2="793.8" stroke="#089981" stroke-width="2"/>
<line x1="1679.6" x2="1679.6" y1="833" y2="877.5" stroke="#089981" stroke-width="2"/>
<rect x="1676.6" y="794" width="6" height="38.7" fill="none" stroke="#000000" stroke-width="2"/>
<line x1="1691" x2="1691" y1="762" y2="770" stroke="#089981" stroke-width="2"/>
<line x1="1691" x2="1691" y1="790.8" y2="792.5" stroke="#089981" stroke-width="2"/>
<rect x="1688" y="770.3" width="6" height="20.2" fill="none" stroke="#00ff00" stroke-width="2"/>
<circle cx="1691" cy="966.9" r="19.7" fill="none" stroke="#9c27b0" stroke-width="2.2"/>
<path d="M1697.1 956.5L1682.2 967.6L1691.2 968.1L1685.4 977.7L1699.6 966.3L1692.2 966Z" fill="#9c27b0"/>
</g>
<g clip-path="url(#c2)">
<circle cx="76.2" cy="1036" r="7.8" fill="#ff88ee" />
<circle cx="110.3" cy="1036" r="3.6" fill="#00ff00" />
<circle cx="258.1" cy="1036" r="7.8" fill="#ff88ee" />
<circle cx="292.3" cy="1036" r="3.6" fill="#00ff00" />
<circle cx="440.1" cy="1036" r="7.8" fill="#008000" />
<circle cx="508.3" cy="1036" r="3.6" fill="#00ff00" />
<circle cx="519.7" cy="1036" r="7.8" fill="#008000" />
<circle cx="565.2" cy="1036" r="7.8" fill="#008000" />
<circle cx="678.9" cy="1036" r="7.8" fill="#ff88ee" />
<circle cx="769.9" cy="1036" r="7.8" fill="#ff88ee" />
<circle cx="906.3" cy="1036" r="7.8" fill="#ff88ee" />
<circle cx="917.7" cy="1036" r="3.6" fill="#00ff00" />
<circle cx="1042.8" cy="1036" r="7.8" fill="#008000" />
<circle cx="1213.4" cy="1036" r="7.8" fill="#ff88ee" />
<circle cx="1270.2" cy="1036" r="7.8" fill="#008000" />
<circle cx="1270.2" cy="1036" r="3.8" fill="#00ff00" />
<circle cx="1406.7" cy="1036" r="7.8" fill="#ff88ee" />
<circle cx="1520.4" cy="1036" r="7.8" fill="#ff88ee" />
<circle cx="1531.8" cy="1036" r="3.6" fill="#00ff00" />
<circle cx="1645.5" cy="1036" r="7.8" fill="#ff88ee" />
<circle cx="121.7" cy="1052" r="7.8" fill="#0000ff" />
<circle cx="133.1" cy="1052" r="7.8" fill="#0000ff" />
<circle cx="155.8" cy="1052" r="7.8" fill="#0000ff" />
<circle cx="155.8" cy="1052" r="6" fill="#909090" />
<circle cx="292.3" cy="1052" r="7.8" fill="#0000ff" />
<circle cx="303.6" cy="1052" r="7.8" fill="#0000ff" />
<circle cx="326.4" cy="1052" r="7.8" fill="#0000ff" />
<circle cx="326.4" cy="1052" r="6" fill="#909090" />
<circle cx="337.7" cy="1052" r="7.8" fill="#0000ff" />
<circle cx="440.1" cy="1052" r="7.8" fill="#0000ff" />
<circle cx="519.7" cy="1052" r="7.8" fill="#0000ff" />
<circle cx="565.2" cy="1052" r="7.8" fill="#0000ff" />
<circle cx="906.3" cy="1052" r="7.8" fill="#0000ff" />
<circle cx="929.1" cy="1052" r="7.8" fill="#0000ff" />
<circle cx="940.5" cy="1052" r="5.9" fill="#909090" />
<circle cx="1054.2" cy="1052" r="7.8" fill="#0000ff" />
<circle cx="1065.6" cy="1052" r="7.8" fill="#0000ff" />
<circle cx="1076.9" cy="1052" r="7.8" fill="#0000ff" />
<circle cx="1076.9" cy="1052" r="6" fill="#909090" />
<circle cx="1088.3" cy="1052" r="7.8" fill="#0000ff" />
<circle cx="1270.2" cy="1052" r="7.8" fill="#0000ff" />
<circle cx="1543.2" cy="1052" r="7.8" fill="#0000ff" />
<circle cx="110.3" cy="1068.8" r="7.8" fill="#ff00ff" />
<circle cx="280.9" cy="1068.8" r="7.8" fill="#ff00ff" />
<circle cx="337.7" cy="1068.8" r="7.8" fill="#00ff00" />
<circle cx="406" cy="1068.8" r="7.8" fill="#00ff00" />
<circle cx="417.3" cy="1068.8" r="7.8" fill="#ff00ff" />
<circle cx="462.8" cy="1068.8" r="7.8" fill="#ff00ff" />
<circle cx="508.3" cy="1068.8" r="7.8" fill="#ff00ff" />
<circle cx="542.4" cy="1068.8" r="7.8" fill="#ff00ff" />
<circle cx="622" cy="1068.8" r="7.8" fill="#00ff00" />
<circle cx="917.7" cy="1068.8" r="7.8" fill="#00ffff" />
<circle cx="1042.8" cy="1068.8" r="7.8" fill="#00ff00" />
<circle cx="1065.6" cy="1068.8" r="7.8" fill="#00ff00" />
<circle cx="1088.3" cy="1068.8" r="7.8" fill="#0000ff" />
<circle cx="1224.8" cy="1068.8" r="7.8" fill="#ff00ff" />
<circle cx="1258.9" cy="1068.8" r="7.8" fill="#ff00ff" />
<circle cx="1543.2" cy="1068.8" r="7.8" fill="#00ffff" />
<circle cx="1554.5" cy="1068.8" r="7.8" fill="#00ff00" />
<circle cx="133.1" cy="1085" r="7.8" fill="#ff0000" />
<circle cx="167.2" cy="1085" r="7.8" fill="#ff0000" />
<circle cx="178.5" cy="1085" r="7.8" fill="#ffc000" />
<circle cx="292.3" cy="1085" r="7.8" fill="#ff0000" />
<circle cx="315" cy="1085" r="7.8" fill="#ff0000" />
<circle cx="349.1" cy="1085" r="7.8" fill="#ff0000" />
<circle cx="406" cy="1085" r="7.8" fill="#ffc000" />
<circle cx="428.7" cy="1085" r="7.8" fill="#ff0000" />
<circle cx="451.5" cy="1085" r="7.8" fill="#ffc000" />
<circle cx="474.2" cy="1085" r="7.8" fill="#ffc000" />
<circle cx="531.1" cy="1085" r="7.8" fill="#ffc000" />
<circle cx="576.6" cy="1085" r="7.8" fill="#ffc000" />
<circle cx="656.2" cy="1085" r="3.6" fill="#00ffff" />
<circle cx="724.4" cy="1085" r="7.8" fill="#008000" />
<circle cx="747.1" cy="1085" r="7.8" fill="#008000" />
<circle cx="883.6" cy="1085" r="7.8" fill="#008000" />
<circle cx="895" cy="1085" r="7.8" fill="#ffc000" />
<circle cx="1088.3" cy="1085" r="7.8" fill="#ff0000" />
<circle cx="1133.8" cy="1085" r="7.8" fill="#ff0000" />
<circle cx="1145.2" cy="1085" r="7.8" fill="#ffc000" />
<circle cx="1236.1" cy="1085" r="7.8" fill="#ffc000" />
<circle cx="1281.6" cy="1085" r="7.8" fill="#ff0000" />
<circle cx="1281.6" cy="1085" r="3.8" fill="#00ffff" />
<circle cx="1315.7" cy="1085" r="7.8" fill="#ff0000" />
<circle cx="1327.1" cy="1085" r="7.8" fill="#ffc000" />
<circle cx="1429.5" cy="1085" r="7.8" fill="#ffc000" />
<circle cx="1474.9" cy="1085" r="7.8" fill="#008000" />
<circle cx="1520.4" cy="1085" r="7.8" fill="#ffc000" />
<circle cx="1554.5" cy="1085" r="3.6" fill="#00ffff" />
<circle cx="1600" cy="1085" r="7.8" fill="#008000" />
<circle cx="1645.5" cy="1085" r="7.8" fill="#008000" />
<circle cx="1656.9" cy="1085" r="7.8" fill="#008000" />
<circle cx="1679.6" cy="1085" r="7.8" fill="#008000" />
<circle cx="1691" cy="1085" r="7.8" fill="#ffc000" />
<circle cx="19.3" cy="1101.8" r="7.8" fill="#00ffff" />
<circle cx="201.3" cy="1101.8" r="7.8" fill="#00ffff" />
<circle cx="497" cy="1101.8" r="7.8" fill="#00ffff" />
<circle cx="599.3" cy="1101.8" r="7.8" fill="#00ffff" />
<circle cx="713" cy="1101.8" r="7.8" fill="#0000ff" />
<circle cx="781.3" cy="1101.8" r="7.8" fill="#ff0000" />
<circle cx="826.7" cy="1101.8" r="7.8" fill="#ff0000" />
<circle cx="1167.9" cy="1101.8" r="7.8" fill="#00ffff" />
<circle cx="1349.9" cy="1101.8" r="7.8" fill="#00ffff" />
<circle cx="1384" cy="1101.8" r="7.8" fill="#0000ff" />
<circle cx="1440.8" cy="1101.8" r="7.8" fill="#ff00ff" />
<circle cx="1565.9" cy="1101.8" r="7.8" fill="#ff00ff" />
<circle cx="30.7" cy="1118" r="7.8" fill="#0000ff" />
<circle cx="42.1" cy="1118" r="5.9" fill="#909090" />
<circle cx="189.9" cy="1118" r="7.8" fill="#0000ff" />
<circle cx="224" cy="1118" r="7.8" fill="#0000ff" />
<circle cx="224" cy="1118" r="6" fill="#909090" />
<circle cx="485.6" cy="1118" r="7.8" fill="#0000ff" />
<circle cx="497" cy="1118" r="7.8" fill="#0000ff" />
<circle cx="587.9" cy="1118" r="7.8" fill="#0000ff" />
<circle cx="599.3" cy="1118" r="7.8" fill="#0000ff" />
<circle cx="610.7" cy="1118" r="7.8" fill="#0000ff" />
<circle cx="622" cy="1118" r="7.8" fill="#0000ff" />
<circle cx="622" cy="1118" r="6" fill="#909090" />
<circle cx="644.8" cy="1118" r="7.8" fill="#0000ff" />
<circle cx="701.6" cy="1118" r="7.8" fill="#0000ff" />
<circle cx="713" cy="1118" r="7.8" fill="#0000ff" />
<circle cx="735.8" cy="1118" r="7.8" fill="#0000ff" />
<circle cx="735.8" cy="1118" r="6" fill="#909090" />
<circle cx="826.7" cy="1118" r="7.8" fill="#0000ff" />
<circle cx="849.5" cy="1118" r="7.8" fill="#0000ff" />
<circle cx="860.9" cy="1118" r="5.9" fill="#909090" />
<circle cx="872.2" cy="1118" r="7.8" fill="#0000ff" />
<circle cx="1156.5" cy="1118" r="7.8" fill="#0000ff" />
<circle cx="1167.9" cy="1118" r="7.8" fill="#0000ff" />
<circle cx="1247.5" cy="1118" r="7.8" fill="#0000ff" />
<circle cx="1349.9" cy="1118" r="7.8" fill="#0000ff" />
<circle cx="1361.2" cy="1118" r="7.8" fill="#0000ff" />
<circle cx="1372.6" cy="1118" r="7.8" fill="#0000ff" />
<circle cx="1372.6" cy="1118" r="6" fill="#909090" />
<circle cx="1452.2" cy="1118" r="7.8" fill="#0000ff" />
<circle cx="1486.3" cy="1118" r="7.8" fill="#0000ff" />
<circle cx="1486.3" cy="1118" r="6" fill="#909090" />
<circle cx="1588.7" cy="1118" r="7.8" fill="#0000ff" />
<circle cx="1600" cy="1118" r="7.8" fill="#0000ff" />
<circle cx="1611.4" cy="1118" r="7.8" fill="#0000ff" />
<circle cx="1611.4" cy="1118" r="6" fill="#909090" />
<circle cx="189.9" cy="1135" r="7.8" fill="#008000" />
<circle cx="189.9" cy="1135" r="3.8" fill="#ff0000" />
<circle cx="383.2" cy="1135" r="7.8" fill="#ff88ee" />
<circle cx="474.2" cy="1135" r="7.8" fill="#ff88ee" />
<circle cx="485.6" cy="1135" r="3.6" fill="#ff0000" />
<circle cx="587.9" cy="1135" r="7.8" fill="#008000" />
<circle cx="587.9" cy="1135" r="3.8" fill="#ff0000" />
<circle cx="701.6" cy="1135" r="7.8" fill="#008000" />
<circle cx="826.7" cy="1135" r="7.8" fill="#008000" />
<circle cx="1008.7" cy="1135" r="7.8" fill="#ff88ee" />
<circle cx="1122.4" cy="1135" r="7.8" fill="#ff88ee" />
<circle cx="1156.5" cy="1135" r="3.6" fill="#ff0000" />
<circle cx="1247.5" cy="1135" r="7.8" fill="#008000" />
<circle cx="1327.1" cy="1135" r="3.6" fill="#ff0000" />
<circle cx="1452.2" cy="1135" r="7.8" fill="#008000" />
<circle cx="1577.3" cy="1135" r="7.8" fill="#008000" />
<circle cx="1577.3" cy="1135" r="3.8" fill="#ff0000" />
<circle cx="178.5" cy="1150.8" r="7.8" fill="#000000" />
<circle cx="474.2" cy="1150.8" r="7.8" fill="#000000" />
<circle cx="531.1" cy="1150.8" r="7.8" fill="#000000" />
<circle cx="1236.1" cy="1150.8" r="7.8" fill="#000000" />
<circle cx="1327.1" cy="1150.8" r="7.8" fill="#000000" />
<line x1="20" y1="1020" x2="2077" y2="1020" stroke="#00ff00" stroke-width="1.6" stroke-dasharray="10 12"/>
<line x1="20" y1="1036" x2="2077" y2="1036" stroke="#00ff00" stroke-width="1.6" stroke-dasharray="10 12"/>
<line x1="20" y1="1052" x2="2077" y2="1052" stroke="#40ff40" stroke-width="1.6" stroke-dasharray="10 12"/>
<line x1="20" y1="1068.75" x2="2077" y2="1068.75" stroke="#80ff80" stroke-width="1.6" stroke-dasharray="10 12"/>
<line x1="20" y1="1085" x2="2077" y2="1085" stroke="#c8c8c8" stroke-width="1.6" stroke-dasharray="10 12"/>
<line x1="20" y1="1101.75" x2="2077" y2="1101.75" stroke="#ff8080" stroke-width="1.6" stroke-dasharray="10 12"/>
<line x1="20" y1="1118" x2="2077" y2="1118" stroke="#ff6060" stroke-width="1.6" stroke-dasharray="10 12"/>
<line x1="20" y1="1135" x2="2077" y2="1135" stroke="#ff0000" stroke-width="1.6" stroke-dasharray="10 12"/>
<line x1="20" y1="1150.75" x2="2077" y2="1150.75" stroke="#ff0000" stroke-width="1.6" stroke-dasharray="10 12"/>
<text x="927.8" y="1007.5" font-size="21.6" text-anchor="middle" fill="#000" textLength="161" lengthAdjust="spacingAndGlyphs">ICE DNA Code</text>
</g>
<g clip-path="url(#c3)">
<text x="929" y="1180.3" font-size="21.6" text-anchor="middle" fill="#000" textLength="318.5" lengthAdjust="spacingAndGlyphs">ICE Trading Deluxe Big Point</text>
<circle cx="19.3" cy="1192" r="5.6" fill="#000000" />
<circle cx="30.7" cy="1192" r="5.6" fill="#000000" />
<circle cx="42.1" cy="1192" r="5.6" fill="#000000" />
<circle cx="53.4" cy="1192" r="5.6" fill="#000000" />
<circle cx="64.8" cy="1192" r="5.6" fill="#000000" />
<circle cx="76.2" cy="1192" r="5.2" fill="#00ff00" />
<circle cx="87.6" cy="1192" r="5.6" fill="#000000" />
<circle cx="98.9" cy="1192" r="5.6" fill="#000000" />
<circle cx="110.3" cy="1192" r="5.2" fill="#00ff00" />
<circle cx="121.7" cy="1192" r="8" fill="#008000" />
<circle cx="133.1" cy="1192" r="8" fill="#008000" />
<circle cx="144.4" cy="1192" r="5.2" fill="#00ff00" />
<circle cx="155.8" cy="1192" r="8" fill="#008000" />
<circle cx="167.2" cy="1192" r="8" fill="#008000" />
<circle cx="178.5" cy="1192" r="5.6" fill="#000000" />
<circle cx="189.9" cy="1192" r="5.6" fill="#000000" />
<circle cx="201.3" cy="1192" r="5.6" fill="#000000" />
<circle cx="212.7" cy="1192" r="5.6" fill="#000000" />
<circle cx="224" cy="1192" r="5.6" fill="#000000" />
<circle cx="235.4" cy="1192" r="5.6" fill="#000000" />
<circle cx="246.8" cy="1192" r="5.6" fill="#000000" />
<circle cx="258.1" cy="1192" r="5.6" fill="#000000" />
<circle cx="269.5" cy="1192" r="5.6" fill="#000000" />
<circle cx="280.9" cy="1192" r="5.6" fill="#000000" />
<circle cx="292.3" cy="1192" r="5.2" fill="#00ff00" />
<circle cx="303.6" cy="1192" r="8" fill="#008000" />
<circle cx="315" cy="1192" r="8" fill="#008000" />
<circle cx="326.4" cy="1192" r="8" fill="#008000" />
<circle cx="337.7" cy="1192" r="8" fill="#008000" />
<circle cx="349.1" cy="1192" r="8" fill="#008000" />
<circle cx="360.5" cy="1192" r="8" fill="#008000" />
<circle cx="371.9" cy="1192" r="8" fill="#008000" />
<circle cx="383.2" cy="1192" r="8" fill="#008000" />
<circle cx="394.6" cy="1192" r="8" fill="#008000" />
<circle cx="406" cy="1192" r="8" fill="#008000" />
<circle cx="417.3" cy="1192" r="8" fill="#008000" />
<circle cx="428.7" cy="1192" r="8" fill="#008000" />
<circle cx="440.1" cy="1192" r="5.2" fill="#00ff00" />
<circle cx="451.5" cy="1192" r="5.2" fill="#00ff00" />
<circle cx="462.8" cy="1192" r="5.2" fill="#00ff00" />
<circle cx="474.2" cy="1192" r="5.2" fill="#00ff00" />
<circle cx="485.6" cy="1192" r="5.2" fill="#00ff00" />
<circle cx="497" cy="1192" r="5.2" fill="#00ff00" />
<circle cx="508.3" cy="1192" r="5.2" fill="#00ff00" />
<circle cx="519.7" cy="1192" r="5.2" fill="#00ff00" />
<circle cx="531.1" cy="1192" r="5.2" fill="#00ff00" />
<circle cx="542.4" cy="1192" r="5.2" fill="#00ff00" />
<circle cx="553.8" cy="1192" r="5.2" fill="#00ff00" />
<circle cx="565.2" cy="1192" r="5.2" fill="#00ff00" />
<circle cx="576.6" cy="1192" r="5.2" fill="#00ff00" />
<circle cx="587.9" cy="1192" r="5.2" fill="#00ff00" />
<circle cx="599.3" cy="1192" r="5.2" fill="#00ff00" />
<circle cx="610.7" cy="1192" r="5.6" fill="#000000" />
<circle cx="622" cy="1192" r="5.6" fill="#000000" />
<circle cx="633.4" cy="1192" r="5.2" fill="#00ff00" />
<circle cx="644.8" cy="1192" r="5.6" fill="#000000" />
<circle cx="656.2" cy="1192" r="5.6" fill="#000000" />
<circle cx="667.5" cy="1192" r="5.6" fill="#000000" />
<circle cx="678.9" cy="1192" r="5.6" fill="#000000" />
<circle cx="690.3" cy="1192" r="5.2" fill="#ff0000" />
<circle cx="701.6" cy="1192" r="5.2" fill="#ff0000" />
<circle cx="713" cy="1192" r="5.2" fill="#ff0000" />
<circle cx="724.4" cy="1192" r="5.2" fill="#ff0000" />
<circle cx="735.8" cy="1192" r="8" fill="#800000" />
<circle cx="747.1" cy="1192" r="5.2" fill="#ff0000" />
<circle cx="758.5" cy="1192" r="5.2" fill="#ff0000" />
<circle cx="769.9" cy="1192" r="5.2" fill="#ff0000" />
<circle cx="781.3" cy="1192" r="8" fill="#800000" />
<circle cx="792.6" cy="1192" r="8" fill="#800000" />
<circle cx="804" cy="1192" r="5.2" fill="#ff0000" />
<circle cx="815.4" cy="1192" r="5.2" fill="#ff0000" />
<circle cx="826.7" cy="1192" r="8" fill="#800000" />
<circle cx="838.1" cy="1192" r="8" fill="#800000" />
<circle cx="849.5" cy="1192" r="8" fill="#800000" />
<circle cx="860.9" cy="1192" r="5.2" fill="#ff0000" />
<circle cx="872.2" cy="1192" r="5.2" fill="#ff0000" />
<circle cx="883.6" cy="1192" r="5.2" fill="#ff0000" />
<circle cx="895" cy="1192" r="5.2" fill="#ff0000" />
<circle cx="906.3" cy="1192" r="5.2" fill="#ff0000" />
<circle cx="917.7" cy="1192" r="5.2" fill="#ff0000" />
<circle cx="929.1" cy="1192" r="5.6" fill="#000000" />
<circle cx="940.5" cy="1192" r="5.6" fill="#000000" />
<circle cx="951.8" cy="1192" r="5.6" fill="#000000" />
<circle cx="963.2" cy="1192" r="5.6" fill="#000000" />
<circle cx="974.6" cy="1192" r="5.6" fill="#000000" />
<circle cx="986" cy="1192" r="5.6" fill="#000000" />
<circle cx="997.3" cy="1192" r="5.6" fill="#000000" />
<circle cx="1008.7" cy="1192" r="5.2" fill="#ff0000" />
<circle cx="1020.1" cy="1192" r="5.6" fill="#000000" />
<circle cx="1031.4" cy="1192" r="5.6" fill="#000000" />
<circle cx="1042.8" cy="1192" r="5.6" fill="#000000" />
<circle cx="1054.2" cy="1192" r="5.6" fill="#000000" />
<circle cx="1065.6" cy="1192" r="5.2" fill="#00ff00" />
<circle cx="1076.9" cy="1192" r="5.2" fill="#00ff00" />
<circle cx="1088.3" cy="1192" r="5.2" fill="#00ff00" />
<circle cx="1099.7" cy="1192" r="5.2" fill="#00ff00" />
<circle cx="1111" cy="1192" r="5.2" fill="#00ff00" />
<circle cx="1122.4" cy="1192" r="5.2" fill="#00ff00" />
<circle cx="1133.8" cy="1192" r="5.2" fill="#00ff00" />
<circle cx="1145.2" cy="1192" r="5.6" fill="#000000" />
<circle cx="1156.5" cy="1192" r="5.6" fill="#000000" />
<circle cx="1167.9" cy="1192" r="5.6" fill="#000000" />
<circle cx="1179.3" cy="1192" r="5.6" fill="#000000" />
<circle cx="1190.6" cy="1192" r="5.6" fill="#000000" />
<circle cx="1202" cy="1192" r="5.6" fill="#000000" />
<circle cx="1213.4" cy="1192" r="5.6" fill="#000000" />
<circle cx="1224.8" cy="1192" r="5.6" fill="#000000" />
<circle cx="1236.1" cy="1192" r="5.6" fill="#000000" />
<circle cx="1247.5" cy="1192" r="5.6" fill="#000000" />
<circle cx="1258.9" cy="1192" r="5.6" fill="#000000" />
<circle cx="1270.2" cy="1192" r="5.2" fill="#00ff00" />
<circle cx="1281.6" cy="1192" r="5.2" fill="#00ff00" />
<circle cx="1293" cy="1192" r="5.6" fill="#000000" />
<circle cx="1304.4" cy="1192" r="5.6" fill="#000000" />
<circle cx="1315.7" cy="1192" r="5.6" fill="#000000" />
<circle cx="1327.1" cy="1192" r="5.6" fill="#000000" />
<circle cx="1338.5" cy="1192" r="5.6" fill="#000000" />
<circle cx="1349.9" cy="1192" r="5.6" fill="#000000" />
<circle cx="1361.2" cy="1192" r="5.6" fill="#000000" />
<circle cx="1372.6" cy="1192" r="5.2" fill="#ff0000" />
<circle cx="1384" cy="1192" r="5.6" fill="#000000" />
<circle cx="1395.3" cy="1192" r="5.6" fill="#000000" />
<circle cx="1406.7" cy="1192" r="5.6" fill="#000000" />
<circle cx="1418.1" cy="1192" r="5.6" fill="#000000" />
<circle cx="1429.5" cy="1192" r="5.6" fill="#000000" />
<circle cx="1440.8" cy="1192" r="5.2" fill="#ff0000" />
<circle cx="1452.2" cy="1192" r="8" fill="#800000" />
<circle cx="1463.6" cy="1192" r="8" fill="#800000" />
<circle cx="1474.9" cy="1192" r="8" fill="#800000" />
<circle cx="1486.3" cy="1192" r="8" fill="#800000" />
<circle cx="1497.7" cy="1192" r="8" fill="#800000" />
<circle cx="1509.1" cy="1192" r="5.2" fill="#ff0000" />
<circle cx="1520.4" cy="1192" r="5.2" fill="#ff0000" />
<circle cx="1531.8" cy="1192" r="5.2" fill="#ff0000" />
<circle cx="1543.2" cy="1192" r="5.6" fill="#000000" />
<circle cx="1554.5" cy="1192" r="5.6" fill="#000000" />
<circle cx="1565.9" cy="1192" r="8" fill="#800000" />
<circle cx="1577.3" cy="1192" r="8" fill="#800000" />
<circle cx="1588.7" cy="1192" r="8" fill="#800000" />
<circle cx="1600" cy="1192" r="8" fill="#800000" />
<circle cx="1611.4" cy="1192" r="8" fill="#800000" />
<circle cx="1622.8" cy="1192" r="8" fill="#800000" />
<circle cx="1634.2" cy="1192" r="8" fill="#800000" />
<circle cx="1645.5" cy="1192" r="8" fill="#800000" />
<circle cx="1656.9" cy="1192" r="8" fill="#800000" />
<circle cx="1668.3" cy="1192" r="8" fill="#800000" />
<circle cx="1679.6" cy="1192" r="8" fill="#800000" />
<circle cx="1691" cy="1192" r="5.2" fill="#ff0000" />
<circle cx="30.7" cy="1230" r="8" fill="#ffff00" />
<circle cx="42.1" cy="1230" r="8" fill="#ffff00" />
<circle cx="53.4" cy="1230" r="8" fill="#ffff00" />
<circle cx="189.9" cy="1230" r="8" fill="#ffff00" />
<circle cx="201.3" cy="1230" r="8" fill="#ffff00" />
<circle cx="212.7" cy="1230" r="8" fill="#ffff00" />
<circle cx="224" cy="1230" r="8" fill="#ffff00" />
<circle cx="235.4" cy="1230" r="8" fill="#ffff00" />
<circle cx="246.8" cy="1230" r="8" fill="#ffff00" />
<circle cx="269.5" cy="1230" r="8" fill="#ffff00" />
<circle cx="610.7" cy="1230" r="8" fill="#ffff00" />
<circle cx="622" cy="1230" r="8" fill="#ffff00" />
<circle cx="656.2" cy="1230" r="8" fill="#ffff00" />
<circle cx="667.5" cy="1230" r="8" fill="#ffff00" />
<circle cx="678.9" cy="1230" r="8" fill="#ffff00" />
<circle cx="929.1" cy="1230" r="8" fill="#ffff00" />
<circle cx="940.5" cy="1230" r="8" fill="#ffff00" />
<circle cx="951.8" cy="1230" r="8" fill="#ffff00" />
<circle cx="963.2" cy="1230" r="8" fill="#ffff00" />
<circle cx="974.6" cy="1230" r="8" fill="#ffff00" />
<circle cx="986" cy="1230" r="8" fill="#ffff00" />
<circle cx="1020.1" cy="1230" r="8" fill="#ffff00" />
<circle cx="1031.4" cy="1230" r="8" fill="#ffff00" />
<circle cx="1054.2" cy="1230" r="8" fill="#ffff00" />
<circle cx="1145.2" cy="1230" r="8" fill="#ffff00" />
<circle cx="1156.5" cy="1230" r="8" fill="#ffff00" />
<circle cx="1167.9" cy="1230" r="8" fill="#ffff00" />
<circle cx="1179.3" cy="1230" r="8" fill="#ffff00" />
<circle cx="1190.6" cy="1230" r="8" fill="#ffff00" />
<circle cx="1202" cy="1230" r="8" fill="#ffff00" />
<circle cx="1224.8" cy="1230" r="8" fill="#ffff00" />
<circle cx="1327.1" cy="1230" r="8" fill="#ffff00" />
<circle cx="1338.5" cy="1230" r="8" fill="#ffff00" />
<circle cx="1349.9" cy="1230" r="8" fill="#ffff00" />
<circle cx="1395.3" cy="1230" r="8" fill="#ffff00" />
<circle cx="1406.7" cy="1230" r="8" fill="#ffff00" />
<circle cx="1520.4" cy="1230" r="8" fill="#ffff00" />
<circle cx="1531.8" cy="1230" r="8" fill="#ffff00" />
<circle cx="1543.2" cy="1230" r="8" fill="#ffff00" />
<circle cx="1554.5" cy="1230" r="8" fill="#ffff00" />
<circle cx="1691" cy="1230" r="8" fill="#ffff00" />
<circle cx="19.3" cy="1230" r="8" fill="#00ff00" />
<circle cx="64.8" cy="1230" r="8" fill="#00ff00" />
<circle cx="76.2" cy="1230" r="8" fill="#00ff00" />
<circle cx="87.6" cy="1230" r="8" fill="#00ff00" />
<circle cx="98.9" cy="1230" r="8" fill="#00ff00" />
<circle cx="110.3" cy="1230" r="8" fill="#00ff00" />
<circle cx="121.7" cy="1230" r="8" fill="#00ff00" />
<circle cx="133.1" cy="1230" r="8" fill="#00ff00" />
<circle cx="144.4" cy="1230" r="8" fill="#00ff00" />
<circle cx="155.8" cy="1230" r="8" fill="#00ff00" />
<circle cx="167.2" cy="1230" r="8" fill="#00ff00" />
<circle cx="178.5" cy="1230" r="8" fill="#00ff00" />
<circle cx="280.9" cy="1230" r="8" fill="#00ff00" />
<circle cx="292.3" cy="1230" r="8" fill="#00ff00" />
<circle cx="303.6" cy="1230" r="8" fill="#00ff00" />
<circle cx="315" cy="1230" r="8" fill="#00ff00" />
<circle cx="326.4" cy="1230" r="8" fill="#00ff00" />
<circle cx="337.7" cy="1230" r="8" fill="#00ff00" />
<circle cx="349.1" cy="1230" r="8" fill="#00ff00" />
<circle cx="360.5" cy="1230" r="8" fill="#00ff00" />
<circle cx="371.9" cy="1230" r="8" fill="#00ff00" />
<circle cx="383.2" cy="1230" r="8" fill="#00ff00" />
<circle cx="394.6" cy="1230" r="8" fill="#00ff00" />
<circle cx="406" cy="1230" r="8" fill="#00ff00" />
<circle cx="417.3" cy="1230" r="8" fill="#00ff00" />
<circle cx="428.7" cy="1230" r="8" fill="#00ff00" />
<circle cx="440.1" cy="1230" r="8" fill="#00ff00" />
<circle cx="451.5" cy="1230" r="8" fill="#00ff00" />
<circle cx="462.8" cy="1230" r="8" fill="#00ff00" />
<circle cx="474.2" cy="1230" r="8" fill="#00ff00" />
<circle cx="485.6" cy="1230" r="8" fill="#00ff00" />
<circle cx="497" cy="1230" r="8" fill="#00ff00" />
<circle cx="508.3" cy="1230" r="8" fill="#00ff00" />
<circle cx="519.7" cy="1230" r="8" fill="#00ff00" />
<circle cx="531.1" cy="1230" r="8" fill="#00ff00" />
<circle cx="542.4" cy="1230" r="8" fill="#00ff00" />
<circle cx="553.8" cy="1230" r="8" fill="#00ff00" />
<circle cx="565.2" cy="1230" r="8" fill="#00ff00" />
<circle cx="576.6" cy="1230" r="8" fill="#00ff00" />
<circle cx="587.9" cy="1230" r="8" fill="#00ff00" />
<circle cx="599.3" cy="1230" r="8" fill="#00ff00" />
<circle cx="633.4" cy="1230" r="8" fill="#00ff00" />
<circle cx="644.8" cy="1230" r="8" fill="#00ff00" />
<circle cx="1065.6" cy="1230" r="8" fill="#00ff00" />
<circle cx="1076.9" cy="1230" r="8" fill="#00ff00" />
<circle cx="1088.3" cy="1230" r="8" fill="#00ff00" />
<circle cx="1099.7" cy="1230" r="8" fill="#00ff00" />
<circle cx="1111" cy="1230" r="8" fill="#00ff00" />
<circle cx="1122.4" cy="1230" r="8" fill="#00ff00" />
<circle cx="1133.8" cy="1230" r="8" fill="#00ff00" />
<circle cx="1258.9" cy="1230" r="8" fill="#00ff00" />
<circle cx="1270.2" cy="1230" r="8" fill="#00ff00" />
<circle cx="1281.6" cy="1230" r="8" fill="#00ff00" />
<circle cx="1293" cy="1230" r="8" fill="#00ff00" />
<circle cx="1304.4" cy="1230" r="8" fill="#00ff00" />
<circle cx="1315.7" cy="1230" r="8" fill="#00ff00" />
<circle cx="258.1" cy="1230" r="8" fill="#ff0000" />
<circle cx="690.3" cy="1230" r="8" fill="#ff0000" />
<circle cx="701.6" cy="1230" r="8" fill="#ff0000" />
<circle cx="713" cy="1230" r="8" fill="#ff0000" />
<circle cx="724.4" cy="1230" r="8" fill="#ff0000" />
<circle cx="735.8" cy="1230" r="8" fill="#ff0000" />
<circle cx="747.1" cy="1230" r="8" fill="#ff0000" />
<circle cx="758.5" cy="1230" r="8" fill="#ff0000" />
<circle cx="769.9" cy="1230" r="8" fill="#ff0000" />
<circle cx="781.3" cy="1230" r="8" fill="#ff0000" />
<circle cx="792.6" cy="1230" r="8" fill="#ff0000" />
<circle cx="804" cy="1230" r="8" fill="#ff0000" />
<circle cx="815.4" cy="1230" r="8" fill="#ff0000" />
<circle cx="826.7" cy="1230" r="8" fill="#ff0000" />
<circle cx="838.1" cy="1230" r="8" fill="#ff0000" />
<circle cx="849.5" cy="1230" r="8" fill="#ff0000" />
<circle cx="860.9" cy="1230" r="8" fill="#ff0000" />
<circle cx="872.2" cy="1230" r="8" fill="#ff0000" />
<circle cx="883.6" cy="1230" r="8" fill="#ff0000" />
<circle cx="895" cy="1230" r="8" fill="#ff0000" />
<circle cx="906.3" cy="1230" r="8" fill="#ff0000" />
<circle cx="917.7" cy="1230" r="8" fill="#ff0000" />
<circle cx="997.3" cy="1230" r="8" fill="#ff0000" />
<circle cx="1008.7" cy="1230" r="8" fill="#ff0000" />
<circle cx="1042.8" cy="1230" r="8" fill="#ff0000" />
<circle cx="1213.4" cy="1230" r="8" fill="#ff0000" />
<circle cx="1236.1" cy="1230" r="8" fill="#ff0000" />
<circle cx="1247.5" cy="1230" r="8" fill="#ff0000" />
<circle cx="1361.2" cy="1230" r="8" fill="#ff0000" />
<circle cx="1372.6" cy="1230" r="8" fill="#ff0000" />
<circle cx="1384" cy="1230" r="8" fill="#ff0000" />
<circle cx="1418.1" cy="1230" r="8" fill="#ff0000" />
<circle cx="1429.5" cy="1230" r="8" fill="#ff0000" />
<circle cx="1440.8" cy="1230" r="8" fill="#ff0000" />
<circle cx="1452.2" cy="1230" r="8" fill="#ff0000" />
<circle cx="1463.6" cy="1230" r="8" fill="#ff0000" />
<circle cx="1474.9" cy="1230" r="8" fill="#ff0000" />
<circle cx="1486.3" cy="1230" r="8" fill="#ff0000" />
<circle cx="1497.7" cy="1230" r="8" fill="#ff0000" />
<circle cx="1509.1" cy="1230" r="8" fill="#ff0000" />
<circle cx="1565.9" cy="1230" r="8" fill="#ff0000" />
<circle cx="1577.3" cy="1230" r="8" fill="#ff0000" />
<circle cx="1588.7" cy="1230" r="8" fill="#ff0000" />
<circle cx="1600" cy="1230" r="8" fill="#ff0000" />
<circle cx="1611.4" cy="1230" r="8" fill="#ff0000" />
<circle cx="1622.8" cy="1230" r="8" fill="#ff0000" />
<circle cx="1634.2" cy="1230" r="8" fill="#ff0000" />
<circle cx="1645.5" cy="1230" r="8" fill="#ff0000" />
<circle cx="1656.9" cy="1230" r="8" fill="#ff0000" />
<circle cx="1668.3" cy="1230" r="8" fill="#ff0000" />
<circle cx="1679.6" cy="1230" r="8" fill="#ff0000" />
<circle cx="110.3" cy="1245" r="8" fill="#00ff00" />
<circle cx="121.7" cy="1245" r="8" fill="#00ff00" />
<circle cx="133.1" cy="1245" r="8" fill="#00ff00" />
<circle cx="144.4" cy="1245" r="8" fill="#00ff00" />
<circle cx="155.8" cy="1245" r="8" fill="#00ff00" />
<circle cx="167.2" cy="1245" r="8" fill="#00ff00" />
<circle cx="280.9" cy="1245" r="8" fill="#00ff00" />
<circle cx="292.3" cy="1245" r="8" fill="#00ff00" />
<circle cx="303.6" cy="1245" r="8" fill="#00ff00" />
<circle cx="315" cy="1245" r="8" fill="#00ff00" />
<circle cx="326.4" cy="1245" r="8" fill="#00ff00" />
<circle cx="337.7" cy="1245" r="8" fill="#00ff00" />
<circle cx="349.1" cy="1245" r="8" fill="#00ff00" />
<circle cx="428.7" cy="1245" r="8" fill="#00ff00" />
<circle cx="440.1" cy="1245" r="8" fill="#00ff00" />
<circle cx="508.3" cy="1245" r="8" fill="#00ff00" />
<circle cx="519.7" cy="1245" r="8" fill="#00ff00" />
<circle cx="553.8" cy="1245" r="8" fill="#00ff00" />
<circle cx="565.2" cy="1245" r="8" fill="#00ff00" />
<circle cx="895" cy="1245" r="8" fill="#00ff00" />
<circle cx="906.3" cy="1245" r="8" fill="#00ff00" />
<circle cx="917.7" cy="1245" r="8" fill="#00ff00" />
<circle cx="929.1" cy="1245" r="8" fill="#00ff00" />
<circle cx="940.5" cy="1245" r="8" fill="#00ff00" />
<circle cx="951.8" cy="1245" r="8" fill="#00ff00" />
<circle cx="963.2" cy="1245" r="8" fill="#00ff00" />
<circle cx="974.6" cy="1245" r="8" fill="#00ff00" />
<circle cx="1031.4" cy="1245" r="8" fill="#00ff00" />
<circle cx="1042.8" cy="1245" r="8" fill="#00ff00" />
<circle cx="1054.2" cy="1245" r="8" fill="#00ff00" />
<circle cx="1065.6" cy="1245" r="8" fill="#00ff00" />
<circle cx="1076.9" cy="1245" r="8" fill="#00ff00" />
<circle cx="1088.3" cy="1245" r="8" fill="#00ff00" />
<circle cx="1224.8" cy="1245" r="8" fill="#00ff00" />
<circle cx="1258.9" cy="1245" r="8" fill="#00ff00" />
<circle cx="1270.2" cy="1245" r="8" fill="#00ff00" />
<circle cx="1281.6" cy="1245" r="8" fill="#00ff00" />
<circle cx="1293" cy="1245" r="8" fill="#00ff00" />
<circle cx="1429.5" cy="1245" r="8" fill="#00ff00" />
<circle cx="1520.4" cy="1245" r="8" fill="#00ff00" />
<circle cx="1531.8" cy="1245" r="8" fill="#00ff00" />
<circle cx="1543.2" cy="1245" r="8" fill="#00ff00" />
<circle cx="1554.5" cy="1245" r="8" fill="#00ff00" />
<circle cx="1691" cy="1245" r="8" fill="#00ff00" />
<circle cx="53.4" cy="1245" r="8" fill="#000000" />
<circle cx="64.8" cy="1245" r="8" fill="#000000" />
<circle cx="76.2" cy="1245" r="8" fill="#000000" />
<circle cx="87.6" cy="1245" r="8" fill="#000000" />
<circle cx="98.9" cy="1245" r="8" fill="#000000" />
<circle cx="235.4" cy="1245" r="8" fill="#000000" />
<circle cx="246.8" cy="1245" r="8" fill="#000000" />
<circle cx="258.1" cy="1245" r="8" fill="#000000" />
<circle cx="269.5" cy="1245" r="8" fill="#000000" />
<circle cx="360.5" cy="1245" r="8" fill="#000000" />
<circle cx="371.9" cy="1245" r="8" fill="#000000" />
<circle cx="383.2" cy="1245" r="8" fill="#000000" />
<circle cx="394.6" cy="1245" r="8" fill="#000000" />
<circle cx="417.3" cy="1245" r="8" fill="#000000" />
<circle cx="462.8" cy="1245" r="8" fill="#000000" />
<circle cx="542.4" cy="1245" r="8" fill="#000000" />
<circle cx="656.2" cy="1245" r="8" fill="#000000" />
<circle cx="667.5" cy="1245" r="8" fill="#000000" />
<circle cx="678.9" cy="1245" r="8" fill="#000000" />
<circle cx="747.1" cy="1245" r="8" fill="#000000" />
<circle cx="758.5" cy="1245" r="8" fill="#000000" />
<circle cx="769.9" cy="1245" r="8" fill="#000000" />
<circle cx="781.3" cy="1245" r="8" fill="#000000" />
<circle cx="792.6" cy="1245" r="8" fill="#000000" />
<circle cx="804" cy="1245" r="8" fill="#000000" />
<circle cx="883.6" cy="1245" r="8" fill="#000000" />
<circle cx="986" cy="1245" r="8" fill="#000000" />
<circle cx="997.3" cy="1245" r="8" fill="#000000" />
<circle cx="1008.7" cy="1245" r="8" fill="#000000" />
<circle cx="1020.1" cy="1245" r="8" fill="#000000" />
<circle cx="1099.7" cy="1245" r="8" fill="#000000" />
<circle cx="1111" cy="1245" r="8" fill="#000000" />
<circle cx="1122.4" cy="1245" r="8" fill="#000000" />
<circle cx="1133.8" cy="1245" r="8" fill="#000000" />
<circle cx="1190.6" cy="1245" r="8" fill="#000000" />
<circle cx="1202" cy="1245" r="8" fill="#000000" />
<circle cx="1213.4" cy="1245" r="8" fill="#000000" />
<circle cx="1304.4" cy="1245" r="8" fill="#000000" />
<circle cx="1315.7" cy="1245" r="8" fill="#000000" />
<circle cx="1384" cy="1245" r="8" fill="#000000" />
<circle cx="1395.3" cy="1245" r="8" fill="#000000" />
<circle cx="1406.7" cy="1245" r="8" fill="#000000" />
<circle cx="1418.1" cy="1245" r="8" fill="#000000" />
<circle cx="1497.7" cy="1245" r="8" fill="#000000" />
<circle cx="1509.1" cy="1245" r="8" fill="#000000" />
<circle cx="1622.8" cy="1245" r="8" fill="#000000" />
<circle cx="1634.2" cy="1245" r="8" fill="#000000" />
<circle cx="1645.5" cy="1245" r="8" fill="#000000" />
<circle cx="1656.9" cy="1245" r="8" fill="#000000" />
<circle cx="1668.3" cy="1245" r="8" fill="#000000" />
<circle cx="1679.6" cy="1245" r="8" fill="#000000" />
<circle cx="19.3" cy="1245" r="8" fill="#ff0000" />
<circle cx="30.7" cy="1245" r="8" fill="#ff0000" />
<circle cx="42.1" cy="1245" r="8" fill="#ff0000" />
<circle cx="178.5" cy="1245" r="8" fill="#ff0000" />
<circle cx="189.9" cy="1245" r="8" fill="#ff0000" />
<circle cx="201.3" cy="1245" r="8" fill="#ff0000" />
<circle cx="212.7" cy="1245" r="8" fill="#ff0000" />
<circle cx="224" cy="1245" r="8" fill="#ff0000" />
<circle cx="406" cy="1245" r="8" fill="#ff0000" />
<circle cx="451.5" cy="1245" r="8" fill="#ff0000" />
<circle cx="474.2" cy="1245" r="8" fill="#ff0000" />
<circle cx="485.6" cy="1245" r="8" fill="#ff0000" />
<circle cx="497" cy="1245" r="8" fill="#ff0000" />
<circle cx="531.1" cy="1245" r="8" fill="#ff0000" />
<circle cx="576.6" cy="1245" r="8" fill="#ff0000" />
<circle cx="587.9" cy="1245" r="8" fill="#ff0000" />
<circle cx="599.3" cy="1245" r="8" fill="#ff0000" />
<circle cx="610.7" cy="1245" r="8" fill="#ff0000" />
<circle cx="622" cy="1245" r="8" fill="#ff0000" />
<circle cx="633.4" cy="1245" r="8" fill="#ff0000" />
<circle cx="644.8" cy="1245" r="8" fill="#ff0000" />
<circle cx="690.3" cy="1245" r="8" fill="#ff0000" />
<circle cx="701.6" cy="1245" r="8" fill="#ff0000" />
<circle cx="713" cy="1245" r="8" fill="#ff0000" />
<circle cx="724.4" cy="1245" r="8" fill="#ff0000" />
<circle cx="735.8" cy="1245" r="8" fill="#ff0000" />
<circle cx="815.4" cy="1245" r="8" fill="#ff0000" />
<circle cx="826.7" cy="1245" r="8" fill="#ff0000" />
<circle cx="838.1" cy="1245" r="8" fill="#ff0000" />
<circle cx="849.5" cy="1245" r="8" fill="#ff0000" />
<circle cx="860.9" cy="1245" r="8" fill="#ff0000" />
<circle cx="872.2" cy="1245" r="8" fill="#ff0000" />
<circle cx="1145.2" cy="1245" r="8" fill="#ff0000" />
<circle cx="1156.5" cy="1245" r="8" fill="#ff0000" />
<circle cx="1167.9" cy="1245" r="8" fill="#ff0000" />
<circle cx="1179.3" cy="1245" r="8" fill="#ff0000" />
<circle cx="1236.1" cy="1245" r="8" fill="#ff0000" />
<circle cx="1247.5" cy="1245" r="8" fill="#ff0000" />
<circle cx="1327.1" cy="1245" r="8" fill="#ff0000" />
<circle cx="1338.5" cy="1245" r="8" fill="#ff0000" />
<circle cx="1349.9" cy="1245" r="8" fill="#ff0000" />
<circle cx="1361.2" cy="1245" r="8" fill="#ff0000" />
<circle cx="1372.6" cy="1245" r="8" fill="#ff0000" />
<circle cx="1440.8" cy="1245" r="8" fill="#ff0000" />
<circle cx="1452.2" cy="1245" r="8" fill="#ff0000" />
<circle cx="1463.6" cy="1245" r="8" fill="#ff0000" />
<circle cx="1474.9" cy="1245" r="8" fill="#ff0000" />
<circle cx="1486.3" cy="1245" r="8" fill="#ff0000" />
<circle cx="1565.9" cy="1245" r="8" fill="#ff0000" />
<circle cx="1577.3" cy="1245" r="8" fill="#ff0000" />
<circle cx="1588.7" cy="1245" r="8" fill="#ff0000" />
<circle cx="1600" cy="1245" r="8" fill="#ff0000" />
<circle cx="1611.4" cy="1245" r="8" fill="#ff0000" />
<circle cx="19.3" cy="1260" r="8" fill="#00ff00" />
<circle cx="30.7" cy="1260" r="8" fill="#00ff00" />
<circle cx="42.1" cy="1260" r="8" fill="#00ff00" />
<circle cx="53.4" cy="1260" r="8" fill="#00ff00" />
<circle cx="64.8" cy="1260" r="8" fill="#00ff00" />
<circle cx="76.2" cy="1260" r="8" fill="#00ff00" />
<circle cx="87.6" cy="1260" r="8" fill="#00ff00" />
<circle cx="98.9" cy="1260" r="8" fill="#00ff00" />
<circle cx="110.3" cy="1260" r="8" fill="#00ff00" />
<circle cx="121.7" cy="1260" r="8" fill="#00ff00" />
<circle cx="133.1" cy="1260" r="8" fill="#00ff00" />
<circle cx="144.4" cy="1260" r="8" fill="#00ff00" />
<circle cx="155.8" cy="1260" r="8" fill="#00ff00" />
<circle cx="167.2" cy="1260" r="8" fill="#00ff00" />
<circle cx="178.5" cy="1260" r="8" fill="#00ff00" />
<circle cx="189.9" cy="1260" r="8" fill="#00ff00" />
<circle cx="201.3" cy="1260" r="8" fill="#00ff00" />
<circle cx="212.7" cy="1260" r="8" fill="#00ff00" />
<circle cx="224" cy="1260" r="8" fill="#00ff00" />
<circle cx="235.4" cy="1260" r="8" fill="#00ff00" />
<circle cx="246.8" cy="1260" r="8" fill="#00ff00" />
<circle cx="258.1" cy="1260" r="8" fill="#00ff00" />
<circle cx="269.5" cy="1260" r="8" fill="#00ff00" />
<circle cx="280.9" cy="1260" r="8" fill="#00ff00" />
<circle cx="292.3" cy="1260" r="8" fill="#00ff00" />
<circle cx="303.6" cy="1260" r="8" fill="#00ff00" />
<circle cx="315" cy="1260" r="8" fill="#00ff00" />
<circle cx="326.4" cy="1260" r="8" fill="#00ff00" />
<circle cx="337.7" cy="1260" r="8" fill="#00ff00" />
<circle cx="349.1" cy="1260" r="8" fill="#00ff00" />
<circle cx="360.5" cy="1260" r="8" fill="#00ff00" />
<circle cx="371.9" cy="1260" r="8" fill="#00ff00" />
<circle cx="383.2" cy="1260" r="8" fill="#00ff00" />
<circle cx="394.6" cy="1260" r="8" fill="#00ff00" />
<circle cx="406" cy="1260" r="8" fill="#00ff00" />
<circle cx="417.3" cy="1260" r="8" fill="#00ff00" />
<circle cx="428.7" cy="1260" r="8" fill="#00ff00" />
<circle cx="440.1" cy="1260" r="8" fill="#00ff00" />
<circle cx="451.5" cy="1260" r="8" fill="#00ff00" />
<circle cx="462.8" cy="1260" r="8" fill="#00ff00" />
<circle cx="474.2" cy="1260" r="8" fill="#00ff00" />
<circle cx="485.6" cy="1260" r="8" fill="#00ff00" />
<circle cx="497" cy="1260" r="8" fill="#00ff00" />
<circle cx="508.3" cy="1260" r="8" fill="#00ff00" />
<circle cx="519.7" cy="1260" r="8" fill="#00ff00" />
<circle cx="531.1" cy="1260" r="8" fill="#00ff00" />
<circle cx="542.4" cy="1260" r="8" fill="#00ff00" />
<circle cx="553.8" cy="1260" r="8" fill="#00ff00" />
<circle cx="565.2" cy="1260" r="8" fill="#00ff00" />
<circle cx="576.6" cy="1260" r="8" fill="#00ff00" />
<circle cx="587.9" cy="1260" r="8" fill="#00ff00" />
<circle cx="599.3" cy="1260" r="8" fill="#00ff00" />
<circle cx="610.7" cy="1260" r="8" fill="#00ff00" />
<circle cx="622" cy="1260" r="8" fill="#00ff00" />
<circle cx="633.4" cy="1260" r="8" fill="#00ff00" />
<circle cx="644.8" cy="1260" r="8" fill="#00ff00" />
<circle cx="656.2" cy="1260" r="8" fill="#00ff00" />
<circle cx="667.5" cy="1260" r="8" fill="#00ff00" />
<circle cx="678.9" cy="1260" r="8" fill="#00ff00" />
<circle cx="690.3" cy="1260" r="8" fill="#00ff00" />
<circle cx="701.6" cy="1260" r="8" fill="#00ff00" />
<circle cx="713" cy="1260" r="8" fill="#00ff00" />
<circle cx="724.4" cy="1260" r="8" fill="#00ff00" />
<circle cx="735.8" cy="1260" r="8" fill="#00ff00" />
<circle cx="747.1" cy="1260" r="8" fill="#00ff00" />
<circle cx="758.5" cy="1260" r="8" fill="#00ff00" />
<circle cx="769.9" cy="1260" r="8" fill="#00ff00" />
<circle cx="781.3" cy="1260" r="8" fill="#00ff00" />
<circle cx="792.6" cy="1260" r="8" fill="#00ff00" />
<circle cx="804" cy="1260" r="8" fill="#00ff00" />
<circle cx="815.4" cy="1260" r="8" fill="#00ff00" />
<circle cx="1349.9" cy="1260" r="8" fill="#00ff00" />
<circle cx="1361.2" cy="1260" r="8" fill="#00ff00" />
<circle cx="1372.6" cy="1260" r="8" fill="#00ff00" />
<circle cx="826.7" cy="1260" r="8" fill="#ff0000" />
<circle cx="838.1" cy="1260" r="8" fill="#ff0000" />
<circle cx="849.5" cy="1260" r="8" fill="#ff0000" />
<circle cx="860.9" cy="1260" r="8" fill="#ff0000" />
<circle cx="872.2" cy="1260" r="8" fill="#ff0000" />
<circle cx="883.6" cy="1260" r="8" fill="#ff0000" />
<circle cx="895" cy="1260" r="8" fill="#ff0000" />
<circle cx="906.3" cy="1260" r="8" fill="#ff0000" />
<circle cx="917.7" cy="1260" r="8" fill="#ff0000" />
<circle cx="929.1" cy="1260" r="8" fill="#ff0000" />
<circle cx="940.5" cy="1260" r="8" fill="#ff0000" />
<circle cx="951.8" cy="1260" r="8" fill="#ff0000" />
<circle cx="963.2" cy="1260" r="8" fill="#ff0000" />
<circle cx="974.6" cy="1260" r="8" fill="#ff0000" />
<circle cx="986" cy="1260" r="8" fill="#ff0000" />
<circle cx="997.3" cy="1260" r="8" fill="#ff0000" />
<circle cx="1008.7" cy="1260" r="8" fill="#ff0000" />
<circle cx="1020.1" cy="1260" r="8" fill="#ff0000" />
<circle cx="1031.4" cy="1260" r="8" fill="#ff0000" />
<circle cx="1042.8" cy="1260" r="8" fill="#ff0000" />
<circle cx="1054.2" cy="1260" r="8" fill="#ff0000" />
<circle cx="1065.6" cy="1260" r="8" fill="#ff0000" />
<circle cx="1076.9" cy="1260" r="8" fill="#ff0000" />
<circle cx="1088.3" cy="1260" r="8" fill="#ff0000" />
<circle cx="1099.7" cy="1260" r="8" fill="#ff0000" />
<circle cx="1111" cy="1260" r="8" fill="#ff0000" />
<circle cx="1122.4" cy="1260" r="8" fill="#ff0000" />
<circle cx="1133.8" cy="1260" r="8" fill="#ff0000" />
<circle cx="1145.2" cy="1260" r="8" fill="#ff0000" />
<circle cx="1156.5" cy="1260" r="8" fill="#ff0000" />
<circle cx="1167.9" cy="1260" r="8" fill="#ff0000" />
<circle cx="1179.3" cy="1260" r="8" fill="#ff0000" />
<circle cx="1190.6" cy="1260" r="8" fill="#ff0000" />
<circle cx="1202" cy="1260" r="8" fill="#ff0000" />
<circle cx="1213.4" cy="1260" r="8" fill="#ff0000" />
<circle cx="1224.8" cy="1260" r="8" fill="#ff0000" />
<circle cx="1236.1" cy="1260" r="8" fill="#ff0000" />
<circle cx="1247.5" cy="1260" r="8" fill="#ff0000" />
<circle cx="1258.9" cy="1260" r="8" fill="#ff0000" />
<circle cx="1270.2" cy="1260" r="8" fill="#ff0000" />
<circle cx="1281.6" cy="1260" r="8" fill="#ff0000" />
<circle cx="1293" cy="1260" r="8" fill="#ff0000" />
<circle cx="1304.4" cy="1260" r="8" fill="#ff0000" />
<circle cx="1315.7" cy="1260" r="8" fill="#ff0000" />
<circle cx="1327.1" cy="1260" r="8" fill="#ff0000" />
<circle cx="1338.5" cy="1260" r="8" fill="#ff0000" />
<circle cx="1384" cy="1260" r="8" fill="#ff0000" />
<circle cx="1395.3" cy="1260" r="8" fill="#ff0000" />
<circle cx="1406.7" cy="1260" r="8" fill="#ff0000" />
<circle cx="1418.1" cy="1260" r="8" fill="#ff0000" />
<circle cx="1429.5" cy="1260" r="8" fill="#ff0000" />
<circle cx="1440.8" cy="1260" r="8" fill="#ff0000" />
<circle cx="1452.2" cy="1260" r="8" fill="#ff0000" />
<circle cx="1463.6" cy="1260" r="8" fill="#ff0000" />
<circle cx="1474.9" cy="1260" r="8" fill="#ff0000" />
<circle cx="1486.3" cy="1260" r="8" fill="#ff0000" />
<circle cx="1497.7" cy="1260" r="8" fill="#ff0000" />
<circle cx="1509.1" cy="1260" r="8" fill="#ff0000" />
<circle cx="1520.4" cy="1260" r="8" fill="#ff0000" />
<circle cx="1531.8" cy="1260" r="8" fill="#ff0000" />
<circle cx="1543.2" cy="1260" r="8" fill="#ff0000" />
<circle cx="1554.5" cy="1260" r="8" fill="#ff0000" />
<circle cx="1565.9" cy="1260" r="8" fill="#ff0000" />
<circle cx="1577.3" cy="1260" r="8" fill="#ff0000" />
<circle cx="1588.7" cy="1260" r="8" fill="#ff0000" />
<circle cx="1600" cy="1260" r="8" fill="#ff0000" />
<circle cx="1611.4" cy="1260" r="8" fill="#ff0000" />
<circle cx="1622.8" cy="1260" r="8" fill="#ff0000" />
<circle cx="1634.2" cy="1260" r="8" fill="#ff0000" />
<circle cx="1645.5" cy="1260" r="8" fill="#ff0000" />
<circle cx="1656.9" cy="1260" r="8" fill="#ff0000" />
<circle cx="1668.3" cy="1260" r="8" fill="#ff0000" />
<circle cx="1679.6" cy="1260" r="8" fill="#ff0000" />
<circle cx="1691" cy="1260" r="8" fill="#ff0000" />
<circle cx="19.3" cy="1275" r="8" fill="#000000" />
<circle cx="30.7" cy="1275" r="8" fill="#000000" />
<circle cx="42.1" cy="1275" r="8" fill="#000000" />
<circle cx="53.4" cy="1275" r="8" fill="#000000" />
<circle cx="64.8" cy="1275" r="8" fill="#000000" />
<circle cx="76.2" cy="1275" r="8" fill="#000000" />
<circle cx="87.6" cy="1275" r="8" fill="#000000" />
<circle cx="98.9" cy="1275" r="8" fill="#000000" />
<circle cx="110.3" cy="1275" r="8" fill="#000000" />
<circle cx="189.9" cy="1275" r="8" fill="#000000" />
<circle cx="201.3" cy="1275" r="8" fill="#000000" />
<circle cx="212.7" cy="1275" r="8" fill="#000000" />
<circle cx="224" cy="1275" r="8" fill="#000000" />
<circle cx="235.4" cy="1275" r="8" fill="#000000" />
<circle cx="246.8" cy="1275" r="8" fill="#000000" />
<circle cx="258.1" cy="1275" r="8" fill="#000000" />
<circle cx="269.5" cy="1275" r="8" fill="#000000" />
<circle cx="280.9" cy="1275" r="8" fill="#000000" />
<circle cx="292.3" cy="1275" r="8" fill="#000000" />
<circle cx="485.6" cy="1275" r="8" fill="#000000" />
<circle cx="497" cy="1275" r="8" fill="#000000" />
<circle cx="587.9" cy="1275" r="8" fill="#000000" />
<circle cx="599.3" cy="1275" r="8" fill="#000000" />
<circle cx="610.7" cy="1275" r="8" fill="#000000" />
<circle cx="622" cy="1275" r="8" fill="#000000" />
<circle cx="633.4" cy="1275" r="8" fill="#000000" />
<circle cx="644.8" cy="1275" r="8" fill="#000000" />
<circle cx="656.2" cy="1275" r="8" fill="#000000" />
<circle cx="667.5" cy="1275" r="8" fill="#000000" />
<circle cx="678.9" cy="1275" r="8" fill="#000000" />
<circle cx="690.3" cy="1275" r="8" fill="#000000" />
<circle cx="701.6" cy="1275" r="8" fill="#000000" />
<circle cx="929.1" cy="1275" r="8" fill="#000000" />
<circle cx="940.5" cy="1275" r="8" fill="#000000" />
<circle cx="951.8" cy="1275" r="8" fill="#000000" />
<circle cx="963.2" cy="1275" r="8" fill="#000000" />
<circle cx="974.6" cy="1275" r="8" fill="#000000" />
<circle cx="986" cy="1275" r="8" fill="#000000" />
<circle cx="997.3" cy="1275" r="8" fill="#000000" />
<circle cx="1008.7" cy="1275" r="8" fill="#000000" />
<circle cx="1020.1" cy="1275" r="8" fill="#000000" />
<circle cx="1031.4" cy="1275" r="8" fill="#000000" />
<circle cx="1042.8" cy="1275" r="8" fill="#000000" />
<circle cx="1054.2" cy="1275" r="8" fill="#000000" />
<circle cx="1065.6" cy="1275" r="8" fill="#000000" />
<circle cx="1076.9" cy="1275" r="8" fill="#000000" />
<circle cx="1088.3" cy="1275" r="8" fill="#000000" />
<circle cx="1167.9" cy="1275" r="8" fill="#000000" />
<circle cx="1179.3" cy="1275" r="8" fill="#000000" />
<circle cx="1190.6" cy="1275" r="8" fill="#000000" />
<circle cx="1202" cy="1275" r="8" fill="#000000" />
<circle cx="1213.4" cy="1275" r="8" fill="#000000" />
<circle cx="1224.8" cy="1275" r="8" fill="#000000" />
<circle cx="1236.1" cy="1275" r="8" fill="#000000" />
<circle cx="1247.5" cy="1275" r="8" fill="#000000" />
<circle cx="1258.9" cy="1275" r="8" fill="#000000" />
<circle cx="1338.5" cy="1275" r="8" fill="#000000" />
<circle cx="1349.9" cy="1275" r="8" fill="#000000" />
<circle cx="1361.2" cy="1275" r="8" fill="#000000" />
<circle cx="1372.6" cy="1275" r="8" fill="#000000" />
<circle cx="1543.2" cy="1275" r="8" fill="#000000" />
<circle cx="1554.5" cy="1275" r="8" fill="#000000" />
<circle cx="1565.9" cy="1275" r="8" fill="#000000" />
<circle cx="121.7" cy="1275" r="8" fill="#00ff00" />
<circle cx="133.1" cy="1275" r="8" fill="#00ff00" />
<circle cx="144.4" cy="1275" r="8" fill="#00ff00" />
<circle cx="155.8" cy="1275" r="8" fill="#00ff00" />
<circle cx="167.2" cy="1275" r="8" fill="#00ff00" />
<circle cx="178.5" cy="1275" r="8" fill="#00ff00" />
<circle cx="303.6" cy="1275" r="8" fill="#00ff00" />
<circle cx="315" cy="1275" r="8" fill="#00ff00" />
<circle cx="326.4" cy="1275" r="8" fill="#00ff00" />
<circle cx="337.7" cy="1275" r="8" fill="#00ff00" />
<circle cx="349.1" cy="1275" r="8" fill="#00ff00" />
<circle cx="360.5" cy="1275" r="8" fill="#00ff00" />
<circle cx="371.9" cy="1275" r="8" fill="#00ff00" />
<circle cx="383.2" cy="1275" r="8" fill="#00ff00" />
<circle cx="394.6" cy="1275" r="8" fill="#00ff00" />
<circle cx="406" cy="1275" r="8" fill="#00ff00" />
<circle cx="417.3" cy="1275" r="8" fill="#00ff00" />
<circle cx="428.7" cy="1275" r="8" fill="#00ff00" />
<circle cx="440.1" cy="1275" r="8" fill="#00ff00" />
<circle cx="451.5" cy="1275" r="8" fill="#00ff00" />
<circle cx="462.8" cy="1275" r="8" fill="#00ff00" />
<circle cx="474.2" cy="1275" r="8" fill="#00ff00" />
<circle cx="508.3" cy="1275" r="8" fill="#00ff00" />
<circle cx="519.7" cy="1275" r="8" fill="#00ff00" />
<circle cx="531.1" cy="1275" r="8" fill="#00ff00" />
<circle cx="542.4" cy="1275" r="8" fill="#00ff00" />
<circle cx="553.8" cy="1275" r="8" fill="#00ff00" />
<circle cx="565.2" cy="1275" r="8" fill="#00ff00" />
<circle cx="576.6" cy="1275" r="8" fill="#00ff00" />
<circle cx="1099.7" cy="1275" r="8" fill="#00ff00" />
<circle cx="1111" cy="1275" r="8" fill="#00ff00" />
<circle cx="1122.4" cy="1275" r="8" fill="#00ff00" />
<circle cx="1133.8" cy="1275" r="8" fill="#00ff00" />
<circle cx="1145.2" cy="1275" r="8" fill="#00ff00" />
<circle cx="1156.5" cy="1275" r="8" fill="#00ff00" />
<circle cx="1270.2" cy="1275" r="8" fill="#00ff00" />
<circle cx="1281.6" cy="1275" r="8" fill="#00ff00" />
<circle cx="1293" cy="1275" r="8" fill="#00ff00" />
<circle cx="1304.4" cy="1275" r="8" fill="#00ff00" />
<circle cx="1315.7" cy="1275" r="8" fill="#00ff00" />
<circle cx="1327.1" cy="1275" r="8" fill="#00ff00" />
<circle cx="713" cy="1275" r="8" fill="#ff0000" />
<circle cx="724.4" cy="1275" r="8" fill="#ff0000" />
<circle cx="735.8" cy="1275" r="8" fill="#ff0000" />
<circle cx="747.1" cy="1275" r="8" fill="#ff0000" />
<circle cx="758.5" cy="1275" r="8" fill="#ff0000" />
<circle cx="769.9" cy="1275" r="8" fill="#ff0000" />
<circle cx="781.3" cy="1275" r="8" fill="#ff0000" />
<circle cx="792.6" cy="1275" r="8" fill="#ff0000" />
<circle cx="804" cy="1275" r="8" fill="#ff0000" />
<circle cx="815.4" cy="1275" r="8" fill="#ff0000" />
<circle cx="826.7" cy="1275" r="8" fill="#ff0000" />
<circle cx="838.1" cy="1275" r="8" fill="#ff0000" />
<circle cx="849.5" cy="1275" r="8" fill="#ff0000" />
<circle cx="860.9" cy="1275" r="8" fill="#ff0000" />
<circle cx="872.2" cy="1275" r="8" fill="#ff0000" />
<circle cx="883.6" cy="1275" r="8" fill="#ff0000" />
<circle cx="895" cy="1275" r="8" fill="#ff0000" />
<circle cx="906.3" cy="1275" r="8" fill="#ff0000" />
<circle cx="917.7" cy="1275" r="8" fill="#ff0000" />
<circle cx="1384" cy="1275" r="8" fill="#ff0000" />
<circle cx="1395.3" cy="1275" r="8" fill="#ff0000" />
<circle cx="1406.7" cy="1275" r="8" fill="#ff0000" />
<circle cx="1418.1" cy="1275" r="8" fill="#ff0000" />
<circle cx="1429.5" cy="1275" r="8" fill="#ff0000" />
<circle cx="1440.8" cy="1275" r="8" fill="#ff0000" />
<circle cx="1452.2" cy="1275" r="8" fill="#ff0000" />
<circle cx="1463.6" cy="1275" r="8" fill="#ff0000" />
<circle cx="1474.9" cy="1275" r="8" fill="#ff0000" />
<circle cx="1486.3" cy="1275" r="8" fill="#ff0000" />
<circle cx="1497.7" cy="1275" r="8" fill="#ff0000" />
<circle cx="1509.1" cy="1275" r="8" fill="#ff0000" />
<circle cx="1520.4" cy="1275" r="8" fill="#ff0000" />
<circle cx="1531.8" cy="1275" r="8" fill="#ff0000" />
<circle cx="1577.3" cy="1275" r="8" fill="#ff0000" />
<circle cx="1588.7" cy="1275" r="8" fill="#ff0000" />
<circle cx="1600" cy="1275" r="8" fill="#ff0000" />
<circle cx="1611.4" cy="1275" r="8" fill="#ff0000" />
<circle cx="1622.8" cy="1275" r="8" fill="#ff0000" />
<circle cx="1634.2" cy="1275" r="8" fill="#ff0000" />
<circle cx="1645.5" cy="1275" r="8" fill="#ff0000" />
<circle cx="1656.9" cy="1275" r="8" fill="#ff0000" />
<circle cx="1668.3" cy="1275" r="8" fill="#ff0000" />
<circle cx="1679.6" cy="1275" r="8" fill="#ff0000" />
<circle cx="1691" cy="1275" r="8" fill="#ff0000" />
<circle cx="42.1" cy="1290.5" r="8" fill="#000000" />
<circle cx="53.4" cy="1290.5" r="8" fill="#000000" />
<circle cx="64.8" cy="1290.5" r="8" fill="#000000" />
<circle cx="76.2" cy="1290.5" r="8" fill="#000000" />
<circle cx="87.6" cy="1290.5" r="8" fill="#000000" />
<circle cx="98.9" cy="1290.5" r="8" fill="#000000" />
<circle cx="110.3" cy="1290.5" r="8" fill="#000000" />
<circle cx="189.9" cy="1290.5" r="8" fill="#000000" />
<circle cx="201.3" cy="1290.5" r="8" fill="#000000" />
<circle cx="212.7" cy="1290.5" r="8" fill="#000000" />
<circle cx="224" cy="1290.5" r="8" fill="#000000" />
<circle cx="292.3" cy="1290.5" r="8" fill="#000000" />
<circle cx="417.3" cy="1290.5" r="8" fill="#000000" />
<circle cx="428.7" cy="1290.5" r="8" fill="#000000" />
<circle cx="440.1" cy="1290.5" r="8" fill="#000000" />
<circle cx="451.5" cy="1290.5" r="8" fill="#000000" />
<circle cx="462.8" cy="1290.5" r="8" fill="#000000" />
<circle cx="474.2" cy="1290.5" r="8" fill="#000000" />
<circle cx="485.6" cy="1290.5" r="8" fill="#000000" />
<circle cx="497" cy="1290.5" r="8" fill="#000000" />
<circle cx="508.3" cy="1290.5" r="8" fill="#000000" />
<circle cx="519.7" cy="1290.5" r="8" fill="#000000" />
<circle cx="531.1" cy="1290.5" r="8" fill="#000000" />
<circle cx="542.4" cy="1290.5" r="8" fill="#000000" />
<circle cx="553.8" cy="1290.5" r="8" fill="#000000" />
<circle cx="576.6" cy="1290.5" r="8" fill="#000000" />
<circle cx="587.9" cy="1290.5" r="8" fill="#000000" />
<circle cx="599.3" cy="1290.5" r="8" fill="#000000" />
<circle cx="610.7" cy="1290.5" r="8" fill="#000000" />
<circle cx="622" cy="1290.5" r="8" fill="#000000" />
<circle cx="633.4" cy="1290.5" r="8" fill="#000000" />
<circle cx="644.8" cy="1290.5" r="8" fill="#000000" />
<circle cx="656.2" cy="1290.5" r="8" fill="#000000" />
<circle cx="667.5" cy="1290.5" r="8" fill="#000000" />
<circle cx="678.9" cy="1290.5" r="8" fill="#000000" />
<circle cx="804" cy="1290.5" r="8" fill="#000000" />
<circle cx="815.4" cy="1290.5" r="8" fill="#000000" />
<circle cx="838.1" cy="1290.5" r="8" fill="#000000" />
<circle cx="849.5" cy="1290.5" r="8" fill="#000000" />
<circle cx="895" cy="1290.5" r="8" fill="#000000" />
<circle cx="906.3" cy="1290.5" r="8" fill="#000000" />
<circle cx="917.7" cy="1290.5" r="8" fill="#000000" />
<circle cx="929.1" cy="1290.5" r="8" fill="#000000" />
<circle cx="940.5" cy="1290.5" r="8" fill="#000000" />
<circle cx="951.8" cy="1290.5" r="8" fill="#000000" />
<circle cx="963.2" cy="1290.5" r="8" fill="#000000" />
<circle cx="1020.1" cy="1290.5" r="8" fill="#000000" />
<circle cx="1031.4" cy="1290.5" r="8" fill="#000000" />
<circle cx="1145.2" cy="1290.5" r="8" fill="#000000" />
<circle cx="1156.5" cy="1290.5" r="8" fill="#000000" />
<circle cx="1167.9" cy="1290.5" r="8" fill="#000000" />
<circle cx="1179.3" cy="1290.5" r="8" fill="#000000" />
<circle cx="1270.2" cy="1290.5" r="8" fill="#000000" />
<circle cx="1349.9" cy="1290.5" r="8" fill="#000000" />
<circle cx="1361.2" cy="1290.5" r="8" fill="#000000" />
<circle cx="1531.8" cy="1290.5" r="8" fill="#000000" />
<circle cx="1543.2" cy="1290.5" r="8" fill="#000000" />
<circle cx="1554.5" cy="1290.5" r="8" fill="#000000" />
<circle cx="1565.9" cy="1290.5" r="8" fill="#000000" />
<circle cx="19.3" cy="1290.5" r="8" fill="#00ff00" />
<circle cx="30.7" cy="1290.5" r="8" fill="#00ff00" />
<circle cx="121.7" cy="1290.5" r="8" fill="#00ff00" />
<circle cx="133.1" cy="1290.5" r="8" fill="#00ff00" />
<circle cx="144.4" cy="1290.5" r="8" fill="#00ff00" />
<circle cx="155.8" cy="1290.5" r="8" fill="#00ff00" />
<circle cx="167.2" cy="1290.5" r="8" fill="#00ff00" />
<circle cx="178.5" cy="1290.5" r="8" fill="#00ff00" />
<circle cx="303.6" cy="1290.5" r="8" fill="#00ff00" />
<circle cx="315" cy="1290.5" r="8" fill="#00ff00" />
<circle cx="326.4" cy="1290.5" r="8" fill="#00ff00" />
<circle cx="337.7" cy="1290.5" r="8" fill="#00ff00" />
<circle cx="349.1" cy="1290.5" r="8" fill="#00ff00" />
<circle cx="360.5" cy="1290.5" r="8" fill="#00ff00" />
<circle cx="371.9" cy="1290.5" r="8" fill="#00ff00" />
<circle cx="383.2" cy="1290.5" r="8" fill="#00ff00" />
<circle cx="394.6" cy="1290.5" r="8" fill="#00ff00" />
<circle cx="406" cy="1290.5" r="8" fill="#00ff00" />
<circle cx="565.2" cy="1290.5" r="8" fill="#00ff00" />
<circle cx="974.6" cy="1290.5" r="8" fill="#00ff00" />
<circle cx="986" cy="1290.5" r="8" fill="#00ff00" />
<circle cx="997.3" cy="1290.5" r="8" fill="#00ff00" />
<circle cx="1008.7" cy="1290.5" r="8" fill="#00ff00" />
<circle cx="1065.6" cy="1290.5" r="8" fill="#00ff00" />
<circle cx="1076.9" cy="1290.5" r="8" fill="#00ff00" />
<circle cx="1088.3" cy="1290.5" r="8" fill="#00ff00" />
<circle cx="1099.7" cy="1290.5" r="8" fill="#00ff00" />
<circle cx="1111" cy="1290.5" r="8" fill="#00ff00" />
<circle cx="1122.4" cy="1290.5" r="8" fill="#00ff00" />
<circle cx="1133.8" cy="1290.5" r="8" fill="#00ff00" />
<circle cx="1281.6" cy="1290.5" r="8" fill="#00ff00" />
<circle cx="1293" cy="1290.5" r="8" fill="#00ff00" />
<circle cx="1304.4" cy="1290.5" r="8" fill="#00ff00" />
<circle cx="1315.7" cy="1290.5" r="8" fill="#00ff00" />
<circle cx="1327.1" cy="1290.5" r="8" fill="#00ff00" />
<circle cx="1338.5" cy="1290.5" r="8" fill="#00ff00" />
<circle cx="235.4" cy="1290.5" r="8" fill="#ff0000" />
<circle cx="246.8" cy="1290.5" r="8" fill="#ff0000" />
<circle cx="258.1" cy="1290.5" r="8" fill="#ff0000" />
<circle cx="269.5" cy="1290.5" r="8" fill="#ff0000" />
<circle cx="280.9" cy="1290.5" r="8" fill="#ff0000" />
<circle cx="690.3" cy="1290.5" r="8" fill="#ff0000" />
<circle cx="701.6" cy="1290.5" r="8" fill="#ff0000" />
<circle cx="713" cy="1290.5" r="8" fill="#ff0000" />
<circle cx="724.4" cy="1290.5" r="8" fill="#ff0000" />
<circle cx="735.8" cy="1290.5" r="8" fill="#ff0000" />
<circle cx="747.1" cy="1290.5" r="8" fill="#ff0000" />
<circle cx="758.5" cy="1290.5" r="8" fill="#ff0000" />
<circle cx="769.9" cy="1290.5" r="8" fill="#ff0000" />
<circle cx="781.3" cy="1290.5" r="8" fill="#ff0000" />
<circle cx="792.6" cy="1290.5" r="8" fill="#ff0000" />
<circle cx="826.7" cy="1290.5" r="8" fill="#ff0000" />
<circle cx="860.9" cy="1290.5" r="8" fill="#ff0000" />
<circle cx="872.2" cy="1290.5" r="8" fill="#ff0000" />
<circle cx="883.6" cy="1290.5" r="8" fill="#ff0000" />
<circle cx="1042.8" cy="1290.5" r="8" fill="#ff0000" />
<circle cx="1054.2" cy="1290.5" r="8" fill="#ff0000" />
<circle cx="1190.6" cy="1290.5" r="8" fill="#ff0000" />
<circle cx="1202" cy="1290.5" r="8" fill="#ff0000" />
<circle cx="1213.4" cy="1290.5" r="8" fill="#ff0000" />
<circle cx="1224.8" cy="1290.5" r="8" fill="#ff0000" />
<circle cx="1236.1" cy="1290.5" r="8" fill="#ff0000" />
<circle cx="1247.5" cy="1290.5" r="8" fill="#ff0000" />
<circle cx="1258.9" cy="1290.5" r="8" fill="#ff0000" />
<circle cx="1372.6" cy="1290.5" r="8" fill="#ff0000" />
<circle cx="1384" cy="1290.5" r="8" fill="#ff0000" />
<circle cx="1395.3" cy="1290.5" r="8" fill="#ff0000" />
<circle cx="1406.7" cy="1290.5" r="8" fill="#ff0000" />
<circle cx="1418.1" cy="1290.5" r="8" fill="#ff0000" />
<circle cx="1429.5" cy="1290.5" r="8" fill="#ff0000" />
<circle cx="1440.8" cy="1290.5" r="8" fill="#ff0000" />
<circle cx="1452.2" cy="1290.5" r="8" fill="#ff0000" />
<circle cx="1463.6" cy="1290.5" r="8" fill="#ff0000" />
<circle cx="1474.9" cy="1290.5" r="8" fill="#ff0000" />
<circle cx="1486.3" cy="1290.5" r="8" fill="#ff0000" />
<circle cx="1497.7" cy="1290.5" r="8" fill="#ff0000" />
<circle cx="1509.1" cy="1290.5" r="8" fill="#ff0000" />
<circle cx="1520.4" cy="1290.5" r="8" fill="#ff0000" />
<circle cx="1577.3" cy="1290.5" r="8" fill="#ff0000" />
<circle cx="1588.7" cy="1290.5" r="8" fill="#ff0000" />
<circle cx="1600" cy="1290.5" r="8" fill="#ff0000" />
<circle cx="1611.4" cy="1290.5" r="8" fill="#ff0000" />
<circle cx="1622.8" cy="1290.5" r="8" fill="#ff0000" />
<circle cx="1634.2" cy="1290.5" r="8" fill="#ff0000" />
<circle cx="1645.5" cy="1290.5" r="8" fill="#ff0000" />
<circle cx="1656.9" cy="1290.5" r="8" fill="#ff0000" />
<circle cx="1668.3" cy="1290.5" r="8" fill="#ff0000" />
<circle cx="1679.6" cy="1290.5" r="8" fill="#ff0000" />
<circle cx="1691" cy="1290.5" r="8" fill="#ff0000" />
<circle cx="713" cy="1306" r="8" fill="#000000" />
<circle cx="724.4" cy="1306" r="8" fill="#000000" />
<circle cx="1384" cy="1306" r="8" fill="#000000" />
<circle cx="1395.3" cy="1306" r="8" fill="#000000" />
<circle cx="1406.7" cy="1306" r="8" fill="#000000" />
<circle cx="19.3" cy="1306" r="8" fill="#00ff00" />
<circle cx="30.7" cy="1306" r="8" fill="#00ff00" />
<circle cx="42.1" cy="1306" r="8" fill="#00ff00" />
<circle cx="53.4" cy="1306" r="8" fill="#00ff00" />
<circle cx="64.8" cy="1306" r="8" fill="#00ff00" />
<circle cx="76.2" cy="1306" r="8" fill="#00ff00" />
<circle cx="87.6" cy="1306" r="8" fill="#00ff00" />
<circle cx="98.9" cy="1306" r="8" fill="#00ff00" />
<circle cx="110.3" cy="1306" r="8" fill="#00ff00" />
<circle cx="121.7" cy="1306" r="8" fill="#00ff00" />
<circle cx="133.1" cy="1306" r="8" fill="#00ff00" />
<circle cx="144.4" cy="1306" r="8" fill="#00ff00" />
<circle cx="155.8" cy="1306" r="8" fill="#00ff00" />
<circle cx="167.2" cy="1306" r="8" fill="#00ff00" />
<circle cx="178.5" cy="1306" r="8" fill="#00ff00" />
<circle cx="189.9" cy="1306" r="8" fill="#00ff00" />
<circle cx="201.3" cy="1306" r="8" fill="#00ff00" />
<circle cx="212.7" cy="1306" r="8" fill="#00ff00" />
<circle cx="224" cy="1306" r="8" fill="#00ff00" />
<circle cx="235.4" cy="1306" r="8" fill="#00ff00" />
<circle cx="246.8" cy="1306" r="8" fill="#00ff00" />
<circle cx="258.1" cy="1306" r="8" fill="#00ff00" />
<circle cx="269.5" cy="1306" r="8" fill="#00ff00" />
<circle cx="280.9" cy="1306" r="8" fill="#00ff00" />
<circle cx="292.3" cy="1306" r="8" fill="#00ff00" />
<circle cx="303.6" cy="1306" r="8" fill="#00ff00" />
<circle cx="315" cy="1306" r="8" fill="#00ff00" />
<circle cx="326.4" cy="1306" r="8" fill="#00ff00" />
<circle cx="337.7" cy="1306" r="8" fill="#00ff00" />
<circle cx="349.1" cy="1306" r="8" fill="#00ff00" />
<circle cx="360.5" cy="1306" r="8" fill="#00ff00" />
<circle cx="371.9" cy="1306" r="8" fill="#00ff00" />
<circle cx="383.2" cy="1306" r="8" fill="#00ff00" />
<circle cx="394.6" cy="1306" r="8" fill="#00ff00" />
<circle cx="406" cy="1306" r="8" fill="#00ff00" />
<circle cx="417.3" cy="1306" r="8" fill="#00ff00" />
<circle cx="428.7" cy="1306" r="8" fill="#00ff00" />
<circle cx="440.1" cy="1306" r="8" fill="#00ff00" />
<circle cx="451.5" cy="1306" r="8" fill="#00ff00" />
<circle cx="462.8" cy="1306" r="8" fill="#00ff00" />
<circle cx="474.2" cy="1306" r="8" fill="#00ff00" />
<circle cx="485.6" cy="1306" r="8" fill="#00ff00" />
<circle cx="497" cy="1306" r="8" fill="#00ff00" />
<circle cx="508.3" cy="1306" r="8" fill="#00ff00" />
<circle cx="519.7" cy="1306" r="8" fill="#00ff00" />
<circle cx="531.1" cy="1306" r="8" fill="#00ff00" />
<circle cx="542.4" cy="1306" r="8" fill="#00ff00" />
<circle cx="553.8" cy="1306" r="8" fill="#00ff00" />
<circle cx="565.2" cy="1306" r="8" fill="#00ff00" />
<circle cx="576.6" cy="1306" r="8" fill="#00ff00" />
<circle cx="587.9" cy="1306" r="8" fill="#00ff00" />
<circle cx="599.3" cy="1306" r="8" fill="#00ff00" />
<circle cx="610.7" cy="1306" r="8" fill="#00ff00" />
<circle cx="622" cy="1306" r="8" fill="#00ff00" />
<circle cx="633.4" cy="1306" r="8" fill="#00ff00" />
<circle cx="644.8" cy="1306" r="8" fill="#00ff00" />
<circle cx="656.2" cy="1306" r="8" fill="#00ff00" />
<circle cx="667.5" cy="1306" r="8" fill="#00ff00" />
<circle cx="678.9" cy="1306" r="8" fill="#00ff00" />
<circle cx="690.3" cy="1306" r="8" fill="#00ff00" />
<circle cx="701.6" cy="1306" r="8" fill="#00ff00" />
<circle cx="1122.4" cy="1306" r="8" fill="#00ff00" />
<circle cx="1133.8" cy="1306" r="8" fill="#00ff00" />
<circle cx="1145.2" cy="1306" r="8" fill="#00ff00" />
<circle cx="1156.5" cy="1306" r="8" fill="#00ff00" />
<circle cx="1167.9" cy="1306" r="8" fill="#00ff00" />
<circle cx="1179.3" cy="1306" r="8" fill="#00ff00" />
<circle cx="1190.6" cy="1306" r="8" fill="#00ff00" />
<circle cx="1202" cy="1306" r="8" fill="#00ff00" />
<circle cx="1213.4" cy="1306" r="8" fill="#00ff00" />
<circle cx="1224.8" cy="1306" r="8" fill="#00ff00" />
<circle cx="1236.1" cy="1306" r="8" fill="#00ff00" />
<circle cx="1247.5" cy="1306" r="8" fill="#00ff00" />
<circle cx="1258.9" cy="1306" r="8" fill="#00ff00" />
<circle cx="1270.2" cy="1306" r="8" fill="#00ff00" />
<circle cx="1281.6" cy="1306" r="8" fill="#00ff00" />
<circle cx="1293" cy="1306" r="8" fill="#00ff00" />
<circle cx="1304.4" cy="1306" r="8" fill="#00ff00" />
<circle cx="1315.7" cy="1306" r="8" fill="#00ff00" />
<circle cx="1327.1" cy="1306" r="8" fill="#00ff00" />
<circle cx="1338.5" cy="1306" r="8" fill="#00ff00" />
<circle cx="1349.9" cy="1306" r="8" fill="#00ff00" />
<circle cx="1361.2" cy="1306" r="8" fill="#00ff00" />
<circle cx="1372.6" cy="1306" r="8" fill="#00ff00" />
<circle cx="735.8" cy="1306" r="8" fill="#ff0000" />
<circle cx="747.1" cy="1306" r="8" fill="#ff0000" />
<circle cx="758.5" cy="1306" r="8" fill="#ff0000" />
<circle cx="769.9" cy="1306" r="8" fill="#ff0000" />
<circle cx="781.3" cy="1306" r="8" fill="#ff0000" />
<circle cx="792.6" cy="1306" r="8" fill="#ff0000" />
<circle cx="804" cy="1306" r="8" fill="#ff0000" />
<circle cx="815.4" cy="1306" r="8" fill="#ff0000" />
<circle cx="826.7" cy="1306" r="8" fill="#ff0000" />
<circle cx="838.1" cy="1306" r="8" fill="#ff0000" />
<circle cx="849.5" cy="1306" r="8" fill="#ff0000" />
<circle cx="860.9" cy="1306" r="8" fill="#ff0000" />
<circle cx="872.2" cy="1306" r="8" fill="#ff0000" />
<circle cx="883.6" cy="1306" r="8" fill="#ff0000" />
<circle cx="895" cy="1306" r="8" fill="#ff0000" />
<circle cx="906.3" cy="1306" r="8" fill="#ff0000" />
<circle cx="917.7" cy="1306" r="8" fill="#ff0000" />
<circle cx="929.1" cy="1306" r="8" fill="#ff0000" />
<circle cx="940.5" cy="1306" r="8" fill="#ff0000" />
<circle cx="951.8" cy="1306" r="8" fill="#ff0000" />
<circle cx="963.2" cy="1306" r="8" fill="#ff0000" />
<circle cx="974.6" cy="1306" r="8" fill="#ff0000" />
<circle cx="986" cy="1306" r="8" fill="#ff0000" />
<circle cx="997.3" cy="1306" r="8" fill="#ff0000" />
<circle cx="1008.7" cy="1306" r="8" fill="#ff0000" />
<circle cx="1020.1" cy="1306" r="8" fill="#ff0000" />
<circle cx="1031.4" cy="1306" r="8" fill="#ff0000" />
<circle cx="1042.8" cy="1306" r="8" fill="#ff0000" />
<circle cx="1054.2" cy="1306" r="8" fill="#ff0000" />
<circle cx="1065.6" cy="1306" r="8" fill="#ff0000" />
<circle cx="1076.9" cy="1306" r="8" fill="#ff0000" />
<circle cx="1088.3" cy="1306" r="8" fill="#ff0000" />
<circle cx="1418.1" cy="1306" r="8" fill="#ff0000" />
<circle cx="1429.5" cy="1306" r="8" fill="#ff0000" />
<circle cx="1440.8" cy="1306" r="8" fill="#ff0000" />
<circle cx="1452.2" cy="1306" r="8" fill="#ff0000" />
<circle cx="1463.6" cy="1306" r="8" fill="#ff0000" />
<circle cx="1474.9" cy="1306" r="8" fill="#ff0000" />
<circle cx="1486.3" cy="1306" r="8" fill="#ff0000" />
<circle cx="1497.7" cy="1306" r="8" fill="#ff0000" />
<circle cx="1509.1" cy="1306" r="8" fill="#ff0000" />
<circle cx="1520.4" cy="1306" r="8" fill="#ff0000" />
<circle cx="1531.8" cy="1306" r="8" fill="#ff0000" />
<circle cx="1543.2" cy="1306" r="8" fill="#ff0000" />
<circle cx="1554.5" cy="1306" r="8" fill="#ff0000" />
<circle cx="1565.9" cy="1306" r="8" fill="#ff0000" />
<circle cx="1577.3" cy="1306" r="8" fill="#ff0000" />
<circle cx="1588.7" cy="1306" r="8" fill="#ff0000" />
<circle cx="1600" cy="1306" r="8" fill="#ff0000" />
<circle cx="1611.4" cy="1306" r="8" fill="#ff0000" />
<circle cx="1622.8" cy="1306" r="8" fill="#ff0000" />
<circle cx="1634.2" cy="1306" r="8" fill="#ff0000" />
<circle cx="1645.5" cy="1306" r="8" fill="#ff0000" />
<circle cx="1656.9" cy="1306" r="8" fill="#ff0000" />
<circle cx="1668.3" cy="1306" r="8" fill="#ff0000" />
<circle cx="1679.6" cy="1306" r="8" fill="#ff0000" />
<circle cx="1691" cy="1306" r="8" fill="#ff0000" />
<circle cx="1099.7" cy="1306" r="8" fill="#ffff00" />
<circle cx="1111" cy="1306" r="8" fill="#ffff00" />
<text x="929" y="1218" font-size="21.6" text-anchor="middle" fill="#000" textLength="770" lengthAdjust="spacingAndGlyphs">Von oben: Status / Kerzenfarbe / Wolkenfarbe / Trend / Setter / Welle</text>
</g>
<g clip-path="url(#c4)">
<text x="928" y="1324.6" font-size="21.6" text-anchor="middle" fill="#000" textLength="306" lengthAdjust="spacingAndGlyphs">Momentum Status Indikator</text>
<circle cx="19.3" cy="1338.8" r="8" fill="#ff0000" />
<circle cx="30.7" cy="1338.8" r="8" fill="#ff0000" />
<circle cx="42.1" cy="1338.8" r="8" fill="#ff0000" />
<circle cx="53.4" cy="1338.8" r="8" fill="#ff0000" />
<circle cx="64.8" cy="1338.8" r="8" fill="#ff0000" />
<circle cx="76.2" cy="1338.8" r="8" fill="#00ff00" />
<circle cx="87.6" cy="1338.8" r="8" fill="#00ff00" />
<circle cx="98.9" cy="1338.8" r="8" fill="#00ff00" />
<circle cx="110.3" cy="1338.8" r="8" fill="#00ff00" />
<circle cx="110.3" cy="1338.8" r="3.5" fill="#ff0000" />
<circle cx="121.7" cy="1338.8" r="8" fill="#00ff00" />
<circle cx="121.7" cy="1338.8" r="3.5" fill="#ff0000" />
<circle cx="133.1" cy="1338.8" r="8" fill="#ff0000" />
<circle cx="144.4" cy="1338.8" r="8" fill="#ff0000" />
<circle cx="155.8" cy="1338.8" r="8" fill="#00ff00" />
<circle cx="167.2" cy="1338.8" r="8" fill="#ff0000" />
<circle cx="178.5" cy="1338.8" r="8" fill="#ff0000" />
<circle cx="189.9" cy="1338.8" r="8" fill="#ff0000" />
<circle cx="201.3" cy="1338.8" r="8" fill="#ff0000" />
<circle cx="212.7" cy="1338.8" r="8" fill="#ff0000" />
<circle cx="224" cy="1338.8" r="8" fill="#ff0000" />
<circle cx="235.4" cy="1338.8" r="8" fill="#ff0000" />
<circle cx="246.8" cy="1338.8" r="8" fill="#00ff00" />
<circle cx="258.1" cy="1338.8" r="8" fill="#00ff00" />
<circle cx="269.5" cy="1338.8" r="8" fill="#00ff00" />
<circle cx="280.9" cy="1338.8" r="8" fill="#00ff00" />
<circle cx="292.3" cy="1338.8" r="8" fill="#00ff00" />
<circle cx="303.6" cy="1338.8" r="8" fill="#00ff00" />
<circle cx="315" cy="1338.8" r="8" fill="#00ff00" />
<circle cx="326.4" cy="1338.8" r="8" fill="#00ff00" />
<circle cx="337.7" cy="1338.8" r="8" fill="#00ff00" />
<circle cx="337.7" cy="1338.8" r="3.5" fill="#ff0000" />
<circle cx="349.1" cy="1338.8" r="8" fill="#00ff00" />
<circle cx="349.1" cy="1338.8" r="3.5" fill="#ff0000" />
<circle cx="360.5" cy="1338.8" r="8" fill="#00ff00" />
<circle cx="360.5" cy="1338.8" r="3.5" fill="#ff0000" />
<circle cx="371.9" cy="1338.8" r="8" fill="#00ff00" />
<circle cx="371.9" cy="1338.8" r="3.5" fill="#ff0000" />
<circle cx="383.2" cy="1338.8" r="8" fill="#ff0000" />
<circle cx="394.6" cy="1338.8" r="8" fill="#ff0000" />
<circle cx="406" cy="1338.8" r="8" fill="#00ff00" />
<circle cx="406" cy="1338.8" r="3.5" fill="#ff0000" />
<circle cx="417.3" cy="1338.8" r="8" fill="#00ff00" />
<circle cx="417.3" cy="1338.8" r="3.5" fill="#ff0000" />
<circle cx="428.7" cy="1338.8" r="8" fill="#00ff00" />
<circle cx="428.7" cy="1338.8" r="3.5" fill="#ff0000" />
<circle cx="440.1" cy="1338.8" r="8" fill="#00ff00" />
<circle cx="440.1" cy="1338.8" r="3.5" fill="#ff0000" />
<circle cx="451.5" cy="1338.8" r="8" fill="#ff0000" />
<circle cx="462.8" cy="1338.8" r="8" fill="#ff0000" />
<circle cx="474.2" cy="1338.8" r="8" fill="#ff0000" />
<circle cx="485.6" cy="1338.8" r="8" fill="#ff0000" />
<circle cx="497" cy="1338.8" r="8" fill="#ff0000" />
<circle cx="508.3" cy="1338.8" r="8" fill="#00ff00" />
<circle cx="508.3" cy="1338.8" r="3.5" fill="#ff0000" />
<circle cx="519.7" cy="1338.8" r="8" fill="#00ff00" />
<circle cx="519.7" cy="1338.8" r="3.5" fill="#ff0000" />
<circle cx="531.1" cy="1338.8" r="8" fill="#00ff00" />
<circle cx="531.1" cy="1338.8" r="3.5" fill="#ff0000" />
<circle cx="542.4" cy="1338.8" r="8" fill="#00ff00" />
<circle cx="542.4" cy="1338.8" r="3.5" fill="#ff0000" />
<circle cx="553.8" cy="1338.8" r="8" fill="#00ff00" />
<circle cx="553.8" cy="1338.8" r="3.5" fill="#ff0000" />
<circle cx="565.2" cy="1338.8" r="8" fill="#00ff00" />
<circle cx="565.2" cy="1338.8" r="3.5" fill="#ff0000" />
<circle cx="576.6" cy="1338.8" r="8" fill="#ff0000" />
<circle cx="587.9" cy="1338.8" r="8" fill="#ff0000" />
<circle cx="599.3" cy="1338.8" r="8" fill="#ff0000" />
<circle cx="610.7" cy="1338.8" r="8" fill="#ff0000" />
<circle cx="622" cy="1338.8" r="8" fill="#ff0000" />
<circle cx="633.4" cy="1338.8" r="8" fill="#ff0000" />
<circle cx="644.8" cy="1338.8" r="8" fill="#ff0000" />
<circle cx="656.2" cy="1338.8" r="8" fill="#ff0000" />
<circle cx="667.5" cy="1338.8" r="8" fill="#00ff00" />
<circle cx="678.9" cy="1338.8" r="8" fill="#00ff00" />
<circle cx="690.3" cy="1338.8" r="8" fill="#ff0000" />
<circle cx="701.6" cy="1338.8" r="8" fill="#ff0000" />
<circle cx="713" cy="1338.8" r="8" fill="#ff0000" />
<circle cx="713" cy="1338.8" r="3.5" fill="#00ff00" />
<circle cx="724.4" cy="1338.8" r="8" fill="#ff0000" />
<circle cx="724.4" cy="1338.8" r="3.5" fill="#00ff00" />
<circle cx="735.8" cy="1338.8" r="8" fill="#ff0000" />
<circle cx="735.8" cy="1338.8" r="3.5" fill="#00ff00" />
<circle cx="747.1" cy="1338.8" r="8" fill="#00ff00" />
<circle cx="758.5" cy="1338.8" r="8" fill="#00ff00" />
<circle cx="769.9" cy="1338.8" r="8" fill="#00ff00" />
<circle cx="781.3" cy="1338.8" r="8" fill="#ff0000" />
<circle cx="792.6" cy="1338.8" r="8" fill="#00ff00" />
<circle cx="804" cy="1338.8" r="8" fill="#00ff00" />
<circle cx="815.4" cy="1338.8" r="8" fill="#ff0000" />
<circle cx="826.7" cy="1338.8" r="8" fill="#00ff00" />
<circle cx="838.1" cy="1338.8" r="8" fill="#00ff00" />
<circle cx="849.5" cy="1338.8" r="8" fill="#ff0000" />
<circle cx="849.5" cy="1338.8" r="3.5" fill="#00ff00" />
<circle cx="860.9" cy="1338.8" r="8" fill="#ff0000" />
<circle cx="860.9" cy="1338.8" r="3.5" fill="#00ff00" />
<circle cx="872.2" cy="1338.8" r="8" fill="#ff0000" />
<circle cx="872.2" cy="1338.8" r="3.5" fill="#00ff00" />
<circle cx="883.6" cy="1338.8" r="8" fill="#ff0000" />
<circle cx="883.6" cy="1338.8" r="3.5" fill="#00ff00" />
<circle cx="895" cy="1338.8" r="8" fill="#00ff00" />
<circle cx="906.3" cy="1338.8" r="8" fill="#00ff00" />
<circle cx="917.7" cy="1338.8" r="8" fill="#00ff00" />
<circle cx="929.1" cy="1338.8" r="8" fill="#00ff00" />
<circle cx="940.5" cy="1338.8" r="8" fill="#00ff00" />
<circle cx="951.8" cy="1338.8" r="8" fill="#00ff00" />
<circle cx="963.2" cy="1338.8" r="8" fill="#00ff00" />
<circle cx="974.6" cy="1338.8" r="8" fill="#00ff00" />
<circle cx="986" cy="1338.8" r="8" fill="#00ff00" />
<circle cx="997.3" cy="1338.8" r="8" fill="#ff0000" />
<circle cx="1008.7" cy="1338.8" r="8" fill="#ff0000" />
<circle cx="1020.1" cy="1338.8" r="8" fill="#ff0000" />
<circle cx="1031.4" cy="1338.8" r="8" fill="#ff0000" />
<circle cx="1042.8" cy="1338.8" r="8" fill="#ff0000" />
<circle cx="1054.2" cy="1338.8" r="8" fill="#00ff00" />
<circle cx="1065.6" cy="1338.8" r="8" fill="#00ff00" />
<circle cx="1076.9" cy="1338.8" r="8" fill="#00ff00" />
<circle cx="1076.9" cy="1338.8" r="3.5" fill="#ff0000" />
<circle cx="1088.3" cy="1338.8" r="8" fill="#00ff00" />
<circle cx="1088.3" cy="1338.8" r="3.5" fill="#ff0000" />
<circle cx="1099.7" cy="1338.8" r="8" fill="#ff0000" />
<circle cx="1111" cy="1338.8" r="8" fill="#ff0000" />
<circle cx="1122.4" cy="1338.8" r="8" fill="#ff0000" />
<circle cx="1133.8" cy="1338.8" r="8" fill="#ff0000" />
<circle cx="1145.2" cy="1338.8" r="8" fill="#ff0000" />
<circle cx="1156.5" cy="1338.8" r="8" fill="#ff0000" />
<circle cx="1167.9" cy="1338.8" r="8" fill="#ff0000" />
<circle cx="1179.3" cy="1338.8" r="8" fill="#ff0000" />
<circle cx="1190.6" cy="1338.8" r="8" fill="#ff0000" />
<circle cx="1202" cy="1338.8" r="8" fill="#00ff00" />
<circle cx="1213.4" cy="1338.8" r="8" fill="#00ff00" />
<circle cx="1224.8" cy="1338.8" r="8" fill="#00ff00" />
<circle cx="1236.1" cy="1338.8" r="8" fill="#00ff00" />
<circle cx="1247.5" cy="1338.8" r="8" fill="#00ff00" />
<circle cx="1258.9" cy="1338.8" r="8" fill="#00ff00" />
<circle cx="1270.2" cy="1338.8" r="8" fill="#00ff00" />
<circle cx="1281.6" cy="1338.8" r="8" fill="#00ff00" />
<circle cx="1293" cy="1338.8" r="8" fill="#00ff00" />
<circle cx="1304.4" cy="1338.8" r="8" fill="#00ff00" />
<circle cx="1315.7" cy="1338.8" r="8" fill="#00ff00" />
<circle cx="1327.1" cy="1338.8" r="8" fill="#ff0000" />
<circle cx="1338.5" cy="1338.8" r="8" fill="#ff0000" />
<circle cx="1349.9" cy="1338.8" r="8" fill="#ff0000" />
<circle cx="1361.2" cy="1338.8" r="8" fill="#ff0000" />
<circle cx="1372.6" cy="1338.8" r="8" fill="#ff0000" />
<circle cx="1384" cy="1338.8" r="8" fill="#ff0000" />
<circle cx="1395.3" cy="1338.8" r="8" fill="#00ff00" />
<circle cx="1406.7" cy="1338.8" r="8" fill="#00ff00" />
<circle cx="1418.1" cy="1338.8" r="8" fill="#00ff00" />
<circle cx="1429.5" cy="1338.8" r="8" fill="#00ff00" />
<circle cx="1440.8" cy="1338.8" r="8" fill="#ff0000" />
<circle cx="1452.2" cy="1338.8" r="8" fill="#ff0000" />
<circle cx="1463.6" cy="1338.8" r="8" fill="#ff0000" />
<circle cx="1463.6" cy="1338.8" r="3.5" fill="#00ff00" />
<circle cx="1474.9" cy="1338.8" r="8" fill="#ff0000" />
<circle cx="1474.9" cy="1338.8" r="3.5" fill="#00ff00" />
<circle cx="1486.3" cy="1338.8" r="8" fill="#ff0000" />
<circle cx="1486.3" cy="1338.8" r="3.5" fill="#00ff00" />
<circle cx="1497.7" cy="1338.8" r="8" fill="#00ff00" />
<circle cx="1509.1" cy="1338.8" r="8" fill="#00ff00" />
<circle cx="1520.4" cy="1338.8" r="8" fill="#00ff00" />
<circle cx="1531.8" cy="1338.8" r="8" fill="#00ff00" />
<circle cx="1543.2" cy="1338.8" r="8" fill="#00ff00" />
<circle cx="1554.5" cy="1338.8" r="8" fill="#00ff00" />
<circle cx="1565.9" cy="1338.8" r="8" fill="#ff0000" />
<circle cx="1577.3" cy="1338.8" r="8" fill="#ff0000" />
<circle cx="1588.7" cy="1338.8" r="8" fill="#ff0000" />
<circle cx="1600" cy="1338.8" r="8" fill="#ff0000" />
<circle cx="1600" cy="1338.8" r="3.5" fill="#00ff00" />
<circle cx="1611.4" cy="1338.8" r="8" fill="#ff0000" />
<circle cx="1611.4" cy="1338.8" r="3.5" fill="#00ff00" />
<circle cx="1622.8" cy="1338.8" r="8" fill="#ff0000" />
<circle cx="1622.8" cy="1338.8" r="3.5" fill="#00ff00" />
<circle cx="1634.2" cy="1338.8" r="8" fill="#ff0000" />
<circle cx="1634.2" cy="1338.8" r="3.5" fill="#00ff00" />
<circle cx="1645.5" cy="1338.8" r="8" fill="#ff0000" />
<circle cx="1645.5" cy="1338.8" r="3.5" fill="#00ff00" />
<circle cx="1656.9" cy="1338.8" r="8" fill="#00ff00" />
<circle cx="1668.3" cy="1338.8" r="8" fill="#00ff00" />
<circle cx="1679.6" cy="1338.8" r="8" fill="#00ff00" />
<circle cx="1691" cy="1338.8" r="8" fill="#00ff00" />
<circle cx="19.3" cy="1359.5" r="8" fill="#00ff00" />
<circle cx="19.3" cy="1359.5" r="3.5" fill="#ff0000" />
<circle cx="30.7" cy="1359.5" r="8" fill="#00ff00" />
<circle cx="30.7" cy="1359.5" r="3.5" fill="#ff0000" />
<circle cx="42.1" cy="1359.5" r="8" fill="#00ff00" />
<circle cx="42.1" cy="1359.5" r="3.5" fill="#ff0000" />
<circle cx="53.4" cy="1359.5" r="8" fill="#ff0000" />
<circle cx="64.8" cy="1359.5" r="8" fill="#ff0000" />
<circle cx="76.2" cy="1359.5" r="8" fill="#ff0000" />
<circle cx="87.6" cy="1359.5" r="8" fill="#ff0000" />
<circle cx="98.9" cy="1359.5" r="8" fill="#ff0000" />
<circle cx="110.3" cy="1359.5" r="8" fill="#ff0000" />
<circle cx="121.7" cy="1359.5" r="8" fill="#ff0000" />
<circle cx="133.1" cy="1359.5" r="8" fill="#ff0000" />
<circle cx="144.4" cy="1359.5" r="8" fill="#ff0000" />
<circle cx="155.8" cy="1359.5" r="8" fill="#00ff00" />
<circle cx="167.2" cy="1359.5" r="8" fill="#ff0000" />
<circle cx="178.5" cy="1359.5" r="8" fill="#ff0000" />
<circle cx="189.9" cy="1359.5" r="8" fill="#ff0000" />
<circle cx="201.3" cy="1359.5" r="8" fill="#ff0000" />
<circle cx="212.7" cy="1359.5" r="8" fill="#ff0000" />
<circle cx="224" cy="1359.5" r="8" fill="#ff0000" />
<circle cx="235.4" cy="1359.5" r="8" fill="#ff0000" />
<circle cx="246.8" cy="1359.5" r="8" fill="#ff0000" />
<circle cx="258.1" cy="1359.5" r="8" fill="#ff0000" />
<circle cx="269.5" cy="1359.5" r="8" fill="#ff0000" />
<circle cx="280.9" cy="1359.5" r="8" fill="#ff0000" />
<circle cx="292.3" cy="1359.5" r="8" fill="#00ff00" />
<circle cx="303.6" cy="1359.5" r="8" fill="#00ff00" />
<circle cx="315" cy="1359.5" r="8" fill="#00ff00" />
<circle cx="326.4" cy="1359.5" r="8" fill="#00ff00" />
<circle cx="337.7" cy="1359.5" r="8" fill="#00ff00" />
<circle cx="349.1" cy="1359.5" r="8" fill="#00ff00" />
<circle cx="360.5" cy="1359.5" r="8" fill="#00ff00" />
<circle cx="371.9" cy="1359.5" r="8" fill="#00ff00" />
<circle cx="383.2" cy="1359.5" r="8" fill="#00ff00" />
<circle cx="383.2" cy="1359.5" r="3.5" fill="#ff0000" />
<circle cx="394.6" cy="1359.5" r="8" fill="#00ff00" />
<circle cx="394.6" cy="1359.5" r="3.5" fill="#ff0000" />
<circle cx="406" cy="1359.5" r="8" fill="#00ff00" />
<circle cx="406" cy="1359.5" r="3.5" fill="#ff0000" />
<circle cx="417.3" cy="1359.5" r="8" fill="#00ff00" />
<circle cx="417.3" cy="1359.5" r="3.5" fill="#ff0000" />
<circle cx="428.7" cy="1359.5" r="8" fill="#00ff00" />
<circle cx="428.7" cy="1359.5" r="3.5" fill="#ff0000" />
<circle cx="440.1" cy="1359.5" r="8" fill="#00ff00" />
<circle cx="440.1" cy="1359.5" r="3.5" fill="#ff0000" />
<circle cx="451.5" cy="1359.5" r="8" fill="#ff0000" />
<circle cx="462.8" cy="1359.5" r="8" fill="#00ff00" />
<circle cx="462.8" cy="1359.5" r="3.5" fill="#ff0000" />
<circle cx="474.2" cy="1359.5" r="8" fill="#00ff00" />
<circle cx="474.2" cy="1359.5" r="3.5" fill="#ff0000" />
<circle cx="485.6" cy="1359.5" r="8" fill="#00ff00" />
<circle cx="485.6" cy="1359.5" r="3.5" fill="#ff0000" />
<circle cx="497" cy="1359.5" r="8" fill="#ff0000" />
<circle cx="508.3" cy="1359.5" r="8" fill="#ff0000" />
<circle cx="519.7" cy="1359.5" r="8" fill="#ff0000" />
<circle cx="531.1" cy="1359.5" r="8" fill="#00ff00" />
<circle cx="531.1" cy="1359.5" r="3.5" fill="#ff0000" />
<circle cx="542.4" cy="1359.5" r="8" fill="#00ff00" />
<circle cx="542.4" cy="1359.5" r="3.5" fill="#ff0000" />
<circle cx="553.8" cy="1359.5" r="8" fill="#00ff00" />
<circle cx="553.8" cy="1359.5" r="3.5" fill="#ff0000" />
<circle cx="565.2" cy="1359.5" r="8" fill="#00ff00" />
<circle cx="565.2" cy="1359.5" r="3.5" fill="#ff0000" />
<circle cx="576.6" cy="1359.5" r="8" fill="#00ff00" />
<circle cx="576.6" cy="1359.5" r="3.5" fill="#ff0000" />
<circle cx="587.9" cy="1359.5" r="8" fill="#00ff00" />
<circle cx="587.9" cy="1359.5" r="3.5" fill="#ff0000" />
<circle cx="599.3" cy="1359.5" r="8" fill="#ff0000" />
<circle cx="610.7" cy="1359.5" r="8" fill="#ff0000" />
<circle cx="622" cy="1359.5" r="8" fill="#ff0000" />
<circle cx="633.4" cy="1359.5" r="8" fill="#ff0000" />
<circle cx="644.8" cy="1359.5" r="8" fill="#ff0000" />
<circle cx="656.2" cy="1359.5" r="8" fill="#ff0000" />
<circle cx="667.5" cy="1359.5" r="8" fill="#ff0000" />
<circle cx="678.9" cy="1359.5" r="8" fill="#ff0000" />
<circle cx="690.3" cy="1359.5" r="8" fill="#ff0000" />
<circle cx="701.6" cy="1359.5" r="8" fill="#ff0000" />
<circle cx="713" cy="1359.5" r="8" fill="#ff0000" />
<circle cx="724.4" cy="1359.5" r="8" fill="#ff0000" />
<circle cx="735.8" cy="1359.5" r="8" fill="#ff0000" />
<circle cx="735.8" cy="1359.5" r="3.5" fill="#00ff00" />
<circle cx="747.1" cy="1359.5" r="8" fill="#ff0000" />
<circle cx="747.1" cy="1359.5" r="3.5" fill="#00ff00" />
<circle cx="758.5" cy="1359.5" r="8" fill="#ff0000" />
<circle cx="758.5" cy="1359.5" r="3.5" fill="#00ff00" />
<circle cx="769.9" cy="1359.5" r="8" fill="#ff0000" />
<circle cx="769.9" cy="1359.5" r="3.5" fill="#00ff00" />
<circle cx="781.3" cy="1359.5" r="8" fill="#ff0000" />
<circle cx="781.3" cy="1359.5" r="3.5" fill="#00ff00" />
<circle cx="792.6" cy="1359.5" r="8" fill="#ff0000" />
<circle cx="792.6" cy="1359.5" r="3.5" fill="#00ff00" />
<circle cx="804" cy="1359.5" r="8" fill="#00ff00" />
<circle cx="815.4" cy="1359.5" r="8" fill="#00ff00" />
<circle cx="826.7" cy="1359.5" r="8" fill="#00ff00" />
<circle cx="838.1" cy="1359.5" r="8" fill="#ff0000" />
<circle cx="838.1" cy="1359.5" r="3.5" fill="#00ff00" />
<circle cx="849.5" cy="1359.5" r="8" fill="#ff0000" />
<circle cx="849.5" cy="1359.5" r="3.5" fill="#00ff00" />
<circle cx="860.9" cy="1359.5" r="8" fill="#ff0000" />
<circle cx="860.9" cy="1359.5" r="3.5" fill="#00ff00" />
<circle cx="872.2" cy="1359.5" r="8" fill="#ff0000" />
<circle cx="872.2" cy="1359.5" r="3.5" fill="#00ff00" />
<circle cx="883.6" cy="1359.5" r="8" fill="#ff0000" />
<circle cx="883.6" cy="1359.5" r="3.5" fill="#00ff00" />
<circle cx="895" cy="1359.5" r="8" fill="#ff0000" />
<circle cx="895" cy="1359.5" r="3.5" fill="#00ff00" />
<circle cx="906.3" cy="1359.5" r="8" fill="#ff0000" />
<circle cx="906.3" cy="1359.5" r="3.5" fill="#00ff00" />
<circle cx="917.7" cy="1359.5" r="8" fill="#ff0000" />
<circle cx="917.7" cy="1359.5" r="3.5" fill="#00ff00" />
<circle cx="929.1" cy="1359.5" r="8" fill="#00ff00" />
<circle cx="940.5" cy="1359.5" r="8" fill="#00ff00" />
<circle cx="951.8" cy="1359.5" r="8" fill="#00ff00" />
<circle cx="963.2" cy="1359.5" r="8" fill="#00ff00" />
<circle cx="974.6" cy="1359.5" r="8" fill="#00ff00" />
<circle cx="986" cy="1359.5" r="8" fill="#00ff00" />
<circle cx="997.3" cy="1359.5" r="8" fill="#00ff00" />
<circle cx="1008.7" cy="1359.5" r="8" fill="#00ff00" />
<circle cx="1020.1" cy="1359.5" r="8" fill="#00ff00" />
<circle cx="1031.4" cy="1359.5" r="8" fill="#00ff00" />
<circle cx="1042.8" cy="1359.5" r="8" fill="#00ff00" />
<circle cx="1054.2" cy="1359.5" r="8" fill="#00ff00" />
<circle cx="1065.6" cy="1359.5" r="8" fill="#00ff00" />
<circle cx="1076.9" cy="1359.5" r="8" fill="#00ff00" />
<circle cx="1088.3" cy="1359.5" r="8" fill="#00ff00" />
<circle cx="1099.7" cy="1359.5" r="8" fill="#00ff00" />
<circle cx="1111" cy="1359.5" r="8" fill="#00ff00" />
<circle cx="1122.4" cy="1359.5" r="8" fill="#00ff00" />
<circle cx="1133.8" cy="1359.5" r="8" fill="#00ff00" />
<circle cx="1145.2" cy="1359.5" r="8" fill="#ff0000" />
<circle cx="1156.5" cy="1359.5" r="8" fill="#ff0000" />
<circle cx="1167.9" cy="1359.5" r="8" fill="#ff0000" />
<circle cx="1179.3" cy="1359.5" r="8" fill="#ff0000" />
<circle cx="1190.6" cy="1359.5" r="8" fill="#ff0000" />
<circle cx="1202" cy="1359.5" r="8" fill="#ff0000" />
<circle cx="1213.4" cy="1359.5" r="8" fill="#ff0000" />
<circle cx="1224.8" cy="1359.5" r="8" fill="#ff0000" />
<circle cx="1236.1" cy="1359.5" r="8" fill="#ff0000" />
<circle cx="1247.5" cy="1359.5" r="8" fill="#ff0000" />
<circle cx="1258.9" cy="1359.5" r="8" fill="#00ff00" />
<circle cx="1270.2" cy="1359.5" r="8" fill="#00ff00" />
<circle cx="1281.6" cy="1359.5" r="8" fill="#00ff00" />
<circle cx="1293" cy="1359.5" r="8" fill="#00ff00" />
<circle cx="1304.4" cy="1359.5" r="8" fill="#00ff00" />
<circle cx="1315.7" cy="1359.5" r="8" fill="#00ff00" />
<circle cx="1327.1" cy="1359.5" r="8" fill="#00ff00" />
<circle cx="1338.5" cy="1359.5" r="8" fill="#00ff00" />
<circle cx="1349.9" cy="1359.5" r="8" fill="#00ff00" />
<circle cx="1361.2" cy="1359.5" r="8" fill="#ff0000" />
<circle cx="1372.6" cy="1359.5" r="8" fill="#ff0000" />
<circle cx="1384" cy="1359.5" r="8" fill="#ff0000" />
<circle cx="1395.3" cy="1359.5" r="8" fill="#ff0000" />
<circle cx="1406.7" cy="1359.5" r="8" fill="#ff0000" />
<circle cx="1418.1" cy="1359.5" r="8" fill="#ff0000" />
<circle cx="1429.5" cy="1359.5" r="8" fill="#ff0000" />
<circle cx="1440.8" cy="1359.5" r="8" fill="#ff0000" />
<circle cx="1452.2" cy="1359.5" r="8" fill="#ff0000" />
<circle cx="1463.6" cy="1359.5" r="8" fill="#ff0000" />
<circle cx="1474.9" cy="1359.5" r="8" fill="#ff0000" />
<circle cx="1486.3" cy="1359.5" r="8" fill="#ff0000" />
<circle cx="1486.3" cy="1359.5" r="3.5" fill="#00ff00" />
<circle cx="1497.7" cy="1359.5" r="8" fill="#ff0000" />
<circle cx="1497.7" cy="1359.5" r="3.5" fill="#00ff00" />
<circle cx="1509.1" cy="1359.5" r="8" fill="#ff0000" />
<circle cx="1509.1" cy="1359.5" r="3.5" fill="#00ff00" />
<circle cx="1520.4" cy="1359.5" r="8" fill="#00ff00" />
<circle cx="1531.8" cy="1359.5" r="8" fill="#00ff00" />
<circle cx="1543.2" cy="1359.5" r="8" fill="#00ff00" />
<circle cx="1554.5" cy="1359.5" r="8" fill="#00ff00" />
<circle cx="1565.9" cy="1359.5" r="8" fill="#00ff00" />
<circle cx="1577.3" cy="1359.5" r="8" fill="#00ff00" />
<circle cx="1588.7" cy="1359.5" r="8" fill="#ff0000" />
<circle cx="1600" cy="1359.5" r="8" fill="#ff0000" />
<circle cx="1611.4" cy="1359.5" r="8" fill="#ff0000" />
<circle cx="1622.8" cy="1359.5" r="8" fill="#ff0000" />
<circle cx="1622.8" cy="1359.5" r="3.5" fill="#00ff00" />
<circle cx="1634.2" cy="1359.5" r="8" fill="#ff0000" />
<circle cx="1634.2" cy="1359.5" r="3.5" fill="#00ff00" />
<circle cx="1645.5" cy="1359.5" r="8" fill="#ff0000" />
<circle cx="1645.5" cy="1359.5" r="3.5" fill="#00ff00" />
<circle cx="1656.9" cy="1359.5" r="8" fill="#ff0000" />
<circle cx="1656.9" cy="1359.5" r="3.5" fill="#00ff00" />
<circle cx="1668.3" cy="1359.5" r="8" fill="#ff0000" />
<circle cx="1668.3" cy="1359.5" r="3.5" fill="#00ff00" />
<circle cx="1679.6" cy="1359.5" r="8" fill="#00ff00" />
<circle cx="1691" cy="1359.5" r="8" fill="#00ff00" />
<circle cx="19.3" cy="1380.5" r="8" fill="#00ff00" />
<circle cx="19.3" cy="1380.5" r="3.5" fill="#ff0000" />
<circle cx="30.7" cy="1380.5" r="8" fill="#00ff00" />
<circle cx="30.7" cy="1380.5" r="3.5" fill="#ff0000" />
<circle cx="42.1" cy="1380.5" r="8" fill="#00ff00" />
<circle cx="42.1" cy="1380.5" r="3.5" fill="#ff0000" />
<circle cx="53.4" cy="1380.5" r="8" fill="#00ff00" />
<circle cx="53.4" cy="1380.5" r="3.5" fill="#ff0000" />
<circle cx="64.8" cy="1380.5" r="8" fill="#00ff00" />
<circle cx="64.8" cy="1380.5" r="3.5" fill="#ff0000" />
<circle cx="76.2" cy="1380.5" r="8" fill="#00ff00" />
<circle cx="76.2" cy="1380.5" r="3.5" fill="#ff0000" />
<circle cx="87.6" cy="1380.5" r="8" fill="#00ff00" />
<circle cx="87.6" cy="1380.5" r="3.5" fill="#ff0000" />
<circle cx="98.9" cy="1380.5" r="8" fill="#00ff00" />
<circle cx="98.9" cy="1380.5" r="3.5" fill="#ff0000" />
<circle cx="110.3" cy="1380.5" r="8" fill="#00ff00" />
<circle cx="110.3" cy="1380.5" r="3.5" fill="#ff0000" />
<circle cx="121.7" cy="1380.5" r="8" fill="#00ff00" />
<circle cx="121.7" cy="1380.5" r="3.5" fill="#ff0000" />
<circle cx="133.1" cy="1380.5" r="8" fill="#00ff00" />
<circle cx="133.1" cy="1380.5" r="3.5" fill="#ff0000" />
<circle cx="144.4" cy="1380.5" r="8" fill="#ff0000" />
<circle cx="155.8" cy="1380.5" r="8" fill="#ff0000" />
<circle cx="167.2" cy="1380.5" r="8" fill="#ff0000" />
<circle cx="178.5" cy="1380.5" r="8" fill="#ff0000" />
<circle cx="189.9" cy="1380.5" r="8" fill="#ff0000" />
<circle cx="201.3" cy="1380.5" r="8" fill="#ff0000" />
<circle cx="212.7" cy="1380.5" r="8" fill="#ff0000" />
<circle cx="224" cy="1380.5" r="8" fill="#ff0000" />
<circle cx="235.4" cy="1380.5" r="8" fill="#ff0000" />
<circle cx="246.8" cy="1380.5" r="8" fill="#ff0000" />
<circle cx="258.1" cy="1380.5" r="8" fill="#ff0000" />
<circle cx="269.5" cy="1380.5" r="8" fill="#ff0000" />
<circle cx="280.9" cy="1380.5" r="8" fill="#ff0000" />
<circle cx="292.3" cy="1380.5" r="8" fill="#ff0000" />
<circle cx="303.6" cy="1380.5" r="8" fill="#ff0000" />
<circle cx="315" cy="1380.5" r="8" fill="#ff0000" />
<circle cx="326.4" cy="1380.5" r="8" fill="#ff0000" />
<circle cx="337.7" cy="1380.5" r="8" fill="#00ff00" />
<circle cx="349.1" cy="1380.5" r="8" fill="#00ff00" />
<circle cx="360.5" cy="1380.5" r="8" fill="#00ff00" />
<circle cx="371.9" cy="1380.5" r="8" fill="#00ff00" />
<circle cx="383.2" cy="1380.5" r="8" fill="#00ff00" />
<circle cx="394.6" cy="1380.5" r="8" fill="#00ff00" />
<circle cx="406" cy="1380.5" r="8" fill="#00ff00" />
<circle cx="417.3" cy="1380.5" r="8" fill="#00ff00" />
<circle cx="417.3" cy="1380.5" r="3.5" fill="#ff0000" />
<circle cx="428.7" cy="1380.5" r="8" fill="#00ff00" />
<circle cx="428.7" cy="1380.5" r="3.5" fill="#ff0000" />
<circle cx="440.1" cy="1380.5" r="8" fill="#00ff00" />
<circle cx="440.1" cy="1380.5" r="3.5" fill="#ff0000" />
<circle cx="451.5" cy="1380.5" r="8" fill="#00ff00" />
<circle cx="451.5" cy="1380.5" r="3.5" fill="#ff0000" />
<circle cx="462.8" cy="1380.5" r="8" fill="#00ff00" />
<circle cx="462.8" cy="1380.5" r="3.5" fill="#ff0000" />
<circle cx="474.2" cy="1380.5" r="8" fill="#00ff00" />
<circle cx="474.2" cy="1380.5" r="3.5" fill="#ff0000" />
<circle cx="485.6" cy="1380.5" r="8" fill="#00ff00" />
<circle cx="485.6" cy="1380.5" r="3.5" fill="#ff0000" />
<circle cx="497" cy="1380.5" r="8" fill="#00ff00" />
<circle cx="497" cy="1380.5" r="3.5" fill="#ff0000" />
<circle cx="508.3" cy="1380.5" r="8" fill="#00ff00" />
<circle cx="508.3" cy="1380.5" r="3.5" fill="#ff0000" />
<circle cx="519.7" cy="1380.5" r="8" fill="#00ff00" />
<circle cx="519.7" cy="1380.5" r="3.5" fill="#ff0000" />
<circle cx="531.1" cy="1380.5" r="8" fill="#00ff00" />
<circle cx="531.1" cy="1380.5" r="3.5" fill="#ff0000" />
<circle cx="542.4" cy="1380.5" r="8" fill="#00ff00" />
<circle cx="542.4" cy="1380.5" r="3.5" fill="#ff0000" />
<circle cx="553.8" cy="1380.5" r="8" fill="#00ff00" />
<circle cx="553.8" cy="1380.5" r="3.5" fill="#ff0000" />
<circle cx="565.2" cy="1380.5" r="8" fill="#00ff00" />
<circle cx="565.2" cy="1380.5" r="3.5" fill="#ff0000" />
<circle cx="576.6" cy="1380.5" r="8" fill="#00ff00" />
<circle cx="576.6" cy="1380.5" r="3.5" fill="#ff0000" />
<circle cx="587.9" cy="1380.5" r="8" fill="#00ff00" />
<circle cx="587.9" cy="1380.5" r="3.5" fill="#ff0000" />
<circle cx="599.3" cy="1380.5" r="8" fill="#00ff00" />
<circle cx="599.3" cy="1380.5" r="3.5" fill="#ff0000" />
<circle cx="610.7" cy="1380.5" r="8" fill="#ff0000" />
<circle cx="622" cy="1380.5" r="8" fill="#ff0000" />
<circle cx="633.4" cy="1380.5" r="8" fill="#ff0000" />
<circle cx="644.8" cy="1380.5" r="8" fill="#ff0000" />
<circle cx="656.2" cy="1380.5" r="8" fill="#ff0000" />
<circle cx="667.5" cy="1380.5" r="8" fill="#ff0000" />
<circle cx="678.9" cy="1380.5" r="8" fill="#ff0000" />
<circle cx="690.3" cy="1380.5" r="8" fill="#ff0000" />
<circle cx="701.6" cy="1380.5" r="8" fill="#ff0000" />
<circle cx="713" cy="1380.5" r="8" fill="#ff0000" />
<circle cx="724.4" cy="1380.5" r="8" fill="#ff0000" />
<circle cx="735.8" cy="1380.5" r="8" fill="#ff0000" />
<circle cx="747.1" cy="1380.5" r="8" fill="#ff0000" />
<circle cx="758.5" cy="1380.5" r="8" fill="#ff0000" />
<circle cx="769.9" cy="1380.5" r="8" fill="#ff0000" />
<circle cx="781.3" cy="1380.5" r="8" fill="#ff0000" />
<circle cx="792.6" cy="1380.5" r="8" fill="#ff0000" />
<circle cx="804" cy="1380.5" r="8" fill="#ff0000" />
<circle cx="804" cy="1380.5" r="3.5" fill="#00ff00" />
<circle cx="815.4" cy="1380.5" r="8" fill="#ff0000" />
<circle cx="815.4" cy="1380.5" r="3.5" fill="#00ff00" />
<circle cx="826.7" cy="1380.5" r="8" fill="#ff0000" />
<circle cx="826.7" cy="1380.5" r="3.5" fill="#00ff00" />
<circle cx="838.1" cy="1380.5" r="8" fill="#ff0000" />
<circle cx="838.1" cy="1380.5" r="3.5" fill="#00ff00" />
<circle cx="849.5" cy="1380.5" r="8" fill="#ff0000" />
<circle cx="849.5" cy="1380.5" r="3.5" fill="#00ff00" />
<circle cx="860.9" cy="1380.5" r="8" fill="#ff0000" />
<circle cx="860.9" cy="1380.5" r="3.5" fill="#00ff00" />
<circle cx="872.2" cy="1380.5" r="8" fill="#ff0000" />
<circle cx="872.2" cy="1380.5" r="3.5" fill="#00ff00" />
<circle cx="883.6" cy="1380.5" r="8" fill="#ff0000" />
<circle cx="883.6" cy="1380.5" r="3.5" fill="#00ff00" />
<circle cx="895" cy="1380.5" r="8" fill="#ff0000" />
<circle cx="895" cy="1380.5" r="3.5" fill="#00ff00" />
<circle cx="906.3" cy="1380.5" r="8" fill="#ff0000" />
<circle cx="906.3" cy="1380.5" r="3.5" fill="#00ff00" />
<circle cx="917.7" cy="1380.5" r="8" fill="#ff0000" />
<circle cx="917.7" cy="1380.5" r="3.5" fill="#00ff00" />
<circle cx="929.1" cy="1380.5" r="8" fill="#ff0000" />
<circle cx="929.1" cy="1380.5" r="3.5" fill="#00ff00" />
<circle cx="940.5" cy="1380.5" r="8" fill="#00ff00" />
<circle cx="951.8" cy="1380.5" r="8" fill="#00ff00" />
<circle cx="963.2" cy="1380.5" r="8" fill="#00ff00" />
<circle cx="974.6" cy="1380.5" r="8" fill="#00ff00" />
<circle cx="986" cy="1380.5" r="8" fill="#00ff00" />
<circle cx="997.3" cy="1380.5" r="8" fill="#00ff00" />
<circle cx="1008.7" cy="1380.5" r="8" fill="#00ff00" />
<circle cx="1020.1" cy="1380.5" r="8" fill="#00ff00" />
<circle cx="1031.4" cy="1380.5" r="8" fill="#00ff00" />
<circle cx="1042.8" cy="1380.5" r="8" fill="#00ff00" />
<circle cx="1054.2" cy="1380.5" r="8" fill="#00ff00" />
<circle cx="1065.6" cy="1380.5" r="8" fill="#00ff00" />
<circle cx="1076.9" cy="1380.5" r="8" fill="#00ff00" />
<circle cx="1088.3" cy="1380.5" r="8" fill="#00ff00" />
<circle cx="1099.7" cy="1380.5" r="8" fill="#00ff00" />
<circle cx="1111" cy="1380.5" r="8" fill="#00ff00" />
<circle cx="1122.4" cy="1380.5" r="8" fill="#00ff00" />
<circle cx="1133.8" cy="1380.5" r="8" fill="#00ff00" />
<circle cx="1145.2" cy="1380.5" r="8" fill="#00ff00" />
<circle cx="1156.5" cy="1380.5" r="8" fill="#00ff00" />
<circle cx="1167.9" cy="1380.5" r="8" fill="#00ff00" />
<circle cx="1179.3" cy="1380.5" r="8" fill="#00ff00" />
<circle cx="1190.6" cy="1380.5" r="8" fill="#00ff00" />
<circle cx="1202" cy="1380.5" r="8" fill="#00ff00" />
<circle cx="1213.4" cy="1380.5" r="8" fill="#ff0000" />
<circle cx="1224.8" cy="1380.5" r="8" fill="#ff0000" />
<circle cx="1236.1" cy="1380.5" r="8" fill="#ff0000" />
<circle cx="1247.5" cy="1380.5" r="8" fill="#ff0000" />
<circle cx="1258.9" cy="1380.5" r="8" fill="#ff0000" />
<circle cx="1270.2" cy="1380.5" r="8" fill="#ff0000" />
<circle cx="1281.6" cy="1380.5" r="8" fill="#ff0000" />
<circle cx="1293" cy="1380.5" r="8" fill="#ff0000" />
<circle cx="1304.4" cy="1380.5" r="8" fill="#00ff00" />
<circle cx="1315.7" cy="1380.5" r="8" fill="#00ff00" />
<circle cx="1327.1" cy="1380.5" r="8" fill="#00ff00" />
<circle cx="1338.5" cy="1380.5" r="8" fill="#00ff00" />
<circle cx="1349.9" cy="1380.5" r="8" fill="#00ff00" />
<circle cx="1361.2" cy="1380.5" r="8" fill="#00ff00" />
<circle cx="1372.6" cy="1380.5" r="8" fill="#00ff00" />
<circle cx="1384" cy="1380.5" r="8" fill="#00ff00" />
<circle cx="1395.3" cy="1380.5" r="8" fill="#00ff00" />
<circle cx="1406.7" cy="1380.5" r="8" fill="#00ff00" />
<circle cx="1418.1" cy="1380.5" r="8" fill="#ff0000" />
<circle cx="1429.5" cy="1380.5" r="8" fill="#ff0000" />
<circle cx="1440.8" cy="1380.5" r="8" fill="#ff0000" />
<circle cx="1452.2" cy="1380.5" r="8" fill="#ff0000" />
<circle cx="1463.6" cy="1380.5" r="8" fill="#ff0000" />
<circle cx="1474.9" cy="1380.5" r="8" fill="#ff0000" />
<circle cx="1486.3" cy="1380.5" r="8" fill="#ff0000" />
<circle cx="1497.7" cy="1380.5" r="8" fill="#ff0000" />
<circle cx="1509.1" cy="1380.5" r="8" fill="#ff0000" />
<circle cx="1520.4" cy="1380.5" r="8" fill="#ff0000" />
<circle cx="1531.8" cy="1380.5" r="8" fill="#ff0000" />
<circle cx="1543.2" cy="1380.5" r="8" fill="#ff0000" />
<circle cx="1554.5" cy="1380.5" r="8" fill="#ff0000" />
<circle cx="1565.9" cy="1380.5" r="8" fill="#ff0000" />
<circle cx="1577.3" cy="1380.5" r="8" fill="#ff0000" />
<circle cx="1588.7" cy="1380.5" r="8" fill="#ff0000" />
<circle cx="1588.7" cy="1380.5" r="3.5" fill="#00ff00" />
<circle cx="1600" cy="1380.5" r="8" fill="#ff0000" />
<circle cx="1600" cy="1380.5" r="3.5" fill="#00ff00" />
<circle cx="1611.4" cy="1380.5" r="8" fill="#ff0000" />
<circle cx="1611.4" cy="1380.5" r="3.5" fill="#00ff00" />
<circle cx="1622.8" cy="1380.5" r="8" fill="#ff0000" />
<circle cx="1622.8" cy="1380.5" r="3.5" fill="#00ff00" />
<circle cx="1634.2" cy="1380.5" r="8" fill="#ff0000" />
<circle cx="1634.2" cy="1380.5" r="3.5" fill="#00ff00" />
<circle cx="1645.5" cy="1380.5" r="8" fill="#ff0000" />
<circle cx="1645.5" cy="1380.5" r="3.5" fill="#00ff00" />
<circle cx="1656.9" cy="1380.5" r="8" fill="#ff0000" />
<circle cx="1656.9" cy="1380.5" r="3.5" fill="#00ff00" />
<circle cx="1668.3" cy="1380.5" r="8" fill="#ff0000" />
<circle cx="1668.3" cy="1380.5" r="3.5" fill="#00ff00" />
<circle cx="1679.6" cy="1380.5" r="8" fill="#ff0000" />
<circle cx="1679.6" cy="1380.5" r="3.5" fill="#00ff00" />
<circle cx="1691" cy="1380.5" r="8" fill="#ff0000" />
<circle cx="1691" cy="1380.5" r="3.5" fill="#00ff00" />
</g>
<rect x="20" y="992" width="2183.5" height="2" fill="#20232c"/>
<rect x="20" y="1167.2" width="2183.5" height="2" fill="#20232c"/>
<rect x="20" y="1320.2" width="2183.5" height="2" fill="#20232c"/>
<text x="2103.5" y="170.8" font-size="24" fill="#b2b5be" font-weight="normal" text-anchor="start" textLength="80.5" lengthAdjust="spacing">24,600</text>
<text x="2103.5" y="280.2" font-size="24" fill="#b2b5be" font-weight="normal" text-anchor="start" textLength="80.5" lengthAdjust="spacing">24,520</text>
<text x="2103.5" y="389.3" font-size="24" fill="#b2b5be" font-weight="normal" text-anchor="start" textLength="80.5" lengthAdjust="spacing">24,440</text>
<text x="2103.5" y="498.1" font-size="24" fill="#b2b5be" font-weight="normal" text-anchor="start" textLength="80.5" lengthAdjust="spacing">24,360</text>
<text x="2103.5" y="566.3" font-size="24" fill="#b2b5be" font-weight="normal" text-anchor="start" textLength="80.5" lengthAdjust="spacing">24,310</text>
<text x="2103.5" y="649.5" font-size="24" fill="#b2b5be" font-weight="normal" text-anchor="start" textLength="80.5" lengthAdjust="spacing">24,250</text>
<text x="2103.5" y="732" font-size="24" fill="#b2b5be" font-weight="normal" text-anchor="start" textLength="80.5" lengthAdjust="spacing">24,190</text>
<text x="2103.5" y="883.8" font-size="24" fill="#b2b5be" font-weight="normal" text-anchor="start" textLength="80.5" lengthAdjust="spacing">24,080</text>
<text x="2103.5" y="953" font-size="24" fill="#b2b5be" font-weight="normal" text-anchor="start" textLength="80.5" lengthAdjust="spacing">24,030</text>
<rect x="2086" y="752" width="110" height="62" rx="3" fill="#00ff00"/>
<text x="2103.5" y="776.3" font-size="24" fill="#000" font-weight="normal" text-anchor="start" textLength="80.5" lengthAdjust="spacing">24,158</text>
<text x="2103.5" y="804.3" font-size="24" fill="#000" font-weight="normal" text-anchor="start" textLength="65" lengthAdjust="spacing">28:28</text>
<rect x="2086" y="901.5" width="110" height="33.5" rx="3" fill="#2962ff"/>
<text x="2103.5" y="925.1" font-size="24" fill="#fff" font-weight="normal" text-anchor="start" textLength="80.5" lengthAdjust="spacing">24,050</text>
<text x="2103.5" y="1028.5" font-size="24" fill="#b2b5be" font-weight="normal" text-anchor="start">4</text>
<text x="2103.5" y="1093.5" font-size="24" fill="#b2b5be" font-weight="normal" text-anchor="start">0</text>
<text x="2103.5" y="1159.5" font-size="24" fill="#b2b5be" font-weight="normal" text-anchor="start" textLength="28" lengthAdjust="spacing">−4</text>
<text x="2103.5" y="1231" font-size="24" fill="#b2b5be" font-weight="normal" text-anchor="start" textLength="27" lengthAdjust="spacing">12</text>
<text x="2103.5" y="1292.2" font-size="24" fill="#b2b5be" font-weight="normal" text-anchor="start">8</text>
<text x="2103.5" y="1337.5" font-size="24" fill="#b2b5be" font-weight="normal" text-anchor="start">0</text>
<text x="225" y="1426" font-size="24" fill="#b2b5be" font-weight="normal" text-anchor="middle" textLength="65" lengthAdjust="spacing">12:00</text>
<text x="463" y="1426" font-size="24" fill="#b2b5be" font-weight="normal" text-anchor="middle" textLength="27" lengthAdjust="spacing">18</text>
<text x="691" y="1426" font-size="24" fill="#b2b5be" font-weight="normal" text-anchor="middle" textLength="65" lengthAdjust="spacing">12:00</text>
<text x="929" y="1426" font-size="24" fill="#b2b5be" font-weight="bold" text-anchor="middle" textLength="28" lengthAdjust="spacing">21</text>
<text x="1157" y="1426" font-size="24" fill="#b2b5be" font-weight="normal" text-anchor="middle" textLength="65" lengthAdjust="spacing">12:00</text>
<text x="1395" y="1426" font-size="24" fill="#b2b5be" font-weight="normal" text-anchor="middle" textLength="27" lengthAdjust="spacing">22</text>
<text x="1623" y="1426" font-size="24" fill="#b2b5be" font-weight="normal" text-anchor="middle" textLength="65" lengthAdjust="spacing">12:00</text>
<text x="1861" y="1426" font-size="24" fill="#b2b5be" font-weight="normal" text-anchor="middle" textLength="27" lengthAdjust="spacing">23</text>
<text x="1975" y="1426" font-size="24" fill="#b2b5be" font-weight="normal" text-anchor="middle" textLength="65" lengthAdjust="spacing">06:00</text>
<rect x="2092.5" y="62" width="104" height="52" rx="8" fill="#fff" stroke="#e6e8ee" stroke-width="1"/>
<text x="2111.5" y="96" font-size="24" fill="#131722" textLength="45.5" lengthAdjust="spacingAndGlyphs">EUR</text>
<text x="36" y="94" font-size="24" fill="#b2b5be" textLength="290" lengthAdjust="spacingAndGlyphs">DAX Futures · 30 · EUREX</text>
<text x="341" y="94" font-size="24" fill="#b2b5be" textLength="17" lengthAdjust="spacingAndGlyphs">O</text>
<text x="360" y="94" font-size="24" fill="#089981" textLength="74" lengthAdjust="spacingAndGlyphs">24,142</text>
<text x="449" y="94" font-size="24" fill="#b2b5be" textLength="16" lengthAdjust="spacingAndGlyphs">H</text>
<text x="467.5" y="94" font-size="24" fill="#089981" textLength="75" lengthAdjust="spacingAndGlyphs">24,163</text>
<text x="557.5" y="94" font-size="24" fill="#b2b5be" textLength="12" lengthAdjust="spacingAndGlyphs">L</text>
<text x="571" y="94" font-size="24" fill="#089981" textLength="71.5" lengthAdjust="spacingAndGlyphs">24,141</text>
<text x="656.5" y="94" font-size="24" fill="#b2b5be" textLength="16" lengthAdjust="spacingAndGlyphs">C</text>
<text x="675" y="94" font-size="24" fill="#089981" textLength="74" lengthAdjust="spacingAndGlyphs">24,158</text>
<text x="764" y="94" font-size="24" fill="#089981" textLength="149" lengthAdjust="spacingAndGlyphs">+17 (+0.07%)</text>
<text x="928.5" y="94" font-size="24" fill="#f23645" textLength="170.5" lengthAdjust="spacingAndGlyphs">−233 (−0.96%)</text>
<text x="20" y="40" font-size="24.5" fill="#e0e0e0" textLength="748" lengthAdjust="spacingAndGlyphs">Pippo98 created with TradingView.com, Jul 22, 2025 15:01 UTC+2</text>
<path d="M19.9 1467.9H35.9V1487.4H27.6V1475.6H19.9Z" fill="#d9d9d9"/><circle cx="41.85" cy="1472.6" r="4.15" fill="#d9d9d9"/><path d="M49.6 1467.9H59.5L51 1487.4H42.1Z" fill="#d9d9d9"/>
<text x="66.9" y="1488.6" font-size="26" fill="#d9d9d9" textLength="147.4" lengthAdjust="spacingAndGlyphs">TradingView</text>
</svg></body></html>
